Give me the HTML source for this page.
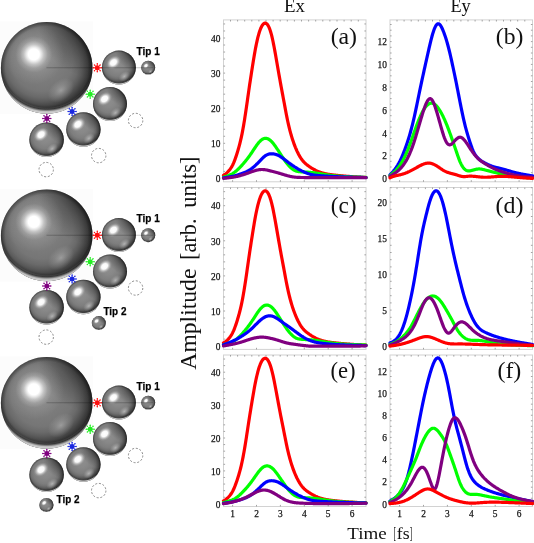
<!DOCTYPE html><html><head><meta charset="utf-8"><title>Figure</title><style>html,body{margin:0;padding:0;background:#fff;overflow:hidden}svg{display:block}.tl{font-family:"Liberation Serif",serif;font-size:11px;fill:#111;stroke:#111;stroke-width:0.25px}.pl{font-family:"Liberation Serif",serif;font-size:23.8px;fill:#111}</style></head><body><svg width="534" height="543" viewBox="0 0 534 543"><defs><radialGradient id="gBase" cx="0.45" cy="0.42" r="0.6"><stop offset="0" stop-color="#838383"/><stop offset="0.3" stop-color="#7d7d7d"/><stop offset="0.56" stop-color="#767676"/><stop offset="0.67" stop-color="#6a6a6a"/><stop offset="0.74" stop-color="#5c5c5c"/><stop offset="0.81" stop-color="#4a4a4a"/><stop offset="0.87" stop-color="#3a3a3a"/><stop offset="1" stop-color="#2c2c2c"/></radialGradient><radialGradient id="gBase2" cx="0.45" cy="0.42" r="0.6"><stop offset="0" stop-color="#8e8e8e"/><stop offset="0.3" stop-color="#888888"/><stop offset="0.56" stop-color="#7e7e7e"/><stop offset="0.67" stop-color="#727272"/><stop offset="0.74" stop-color="#646464"/><stop offset="0.81" stop-color="#525252"/><stop offset="0.87" stop-color="#414141"/><stop offset="1" stop-color="#2e2e2e"/></radialGradient><radialGradient id="gRefl2" cx="0.66" cy="0.76" r="0.15" gradientTransform="translate(0.66 0.76) rotate(-40) scale(1.25 0.85) translate(-0.66 -0.76)"><stop offset="0" stop-color="#c8c8c8" stop-opacity="0.75"/><stop offset="0.5" stop-color="#b8b8b8" stop-opacity="0.4"/><stop offset="1" stop-color="#aaaaaa" stop-opacity="0"/></radialGradient><radialGradient id="gGlow" cx="0.359" cy="0.352" r="0.33"><stop offset="0" stop-color="#fff" stop-opacity="0.22"/><stop offset="1" stop-color="#fff" stop-opacity="0"/></radialGradient><radialGradient id="gDark" cx="1" cy="0" r="0.6"><stop offset="0" stop-color="#000" stop-opacity="0.6"/><stop offset="1" stop-color="#000" stop-opacity="0"/></radialGradient><radialGradient id="gEdge" cx="0.5" cy="0.5" r="0.5"><stop offset="0" stop-color="#000" stop-opacity="0"/><stop offset="0.9" stop-color="#000" stop-opacity="0"/><stop offset="1" stop-color="#000" stop-opacity="0.35"/></radialGradient><radialGradient id="gHi" cx="0.359" cy="0.352" r="0.2"><stop offset="0" stop-color="#fff" stop-opacity="1"/><stop offset="0.3" stop-color="#fff" stop-opacity="1"/><stop offset="0.4" stop-color="#fff" stop-opacity="0.8"/><stop offset="0.55" stop-color="#fff" stop-opacity="0.45"/><stop offset="0.75" stop-color="#fff" stop-opacity="0.15"/><stop offset="1" stop-color="#fff" stop-opacity="0"/></radialGradient><radialGradient id="gHi2" cx="0.34" cy="0.35" r="0.2" gradientTransform="translate(0.34 0.35) rotate(-40) scale(1.2 0.9) translate(-0.34 -0.35)"><stop offset="0" stop-color="#fff" stop-opacity="1"/><stop offset="0.4" stop-color="#fff" stop-opacity="0.95"/><stop offset="0.62" stop-color="#fff" stop-opacity="0.45"/><stop offset="0.82" stop-color="#fff" stop-opacity="0.12"/><stop offset="1" stop-color="#fff" stop-opacity="0"/></radialGradient><radialGradient id="gRefl" cx="0.655" cy="0.745" r="0.13" gradientTransform="translate(0.655 0.745) rotate(-40) scale(1.25 0.85) translate(-0.655 -0.745)"><stop offset="0" stop-color="#bbbbbb" stop-opacity="0.6"/><stop offset="0.5" stop-color="#aaaaaa" stop-opacity="0.3"/><stop offset="1" stop-color="#aaaaaa" stop-opacity="0"/></radialGradient><radialGradient id="gRim" cx="0.5" cy="0.42" r="0.58"><stop offset="0" stop-color="#000" stop-opacity="0"/><stop offset="0.84" stop-color="#000" stop-opacity="0"/><stop offset="0.88" stop-color="#000" stop-opacity="0.12"/><stop offset="0.915" stop-color="#fff" stop-opacity="0"/><stop offset="0.96" stop-color="#fff" stop-opacity="0.7"/><stop offset="1" stop-color="#fff" stop-opacity="0.85"/></radialGradient></defs><rect width="534" height="543" fill="#fff"/><rect x="0" y="21.5" width="93" height="92.5" fill="#fcfcfc"/><circle cx="46.7" cy="67.9" r="45.8" fill="url(#gBase)"/><circle cx="46.7" cy="67.9" r="45.8" fill="url(#gDark)"/><circle cx="46.7" cy="67.9" r="45.8" fill="url(#gGlow)"/><circle cx="46.7" cy="67.9" r="45.8" fill="url(#gEdge)"/><circle cx="46.7" cy="67.9" r="45.8" fill="url(#gRefl)"/><circle cx="46.7" cy="67.9" r="45.8" fill="url(#gRim)"/><circle cx="46.7" cy="67.9" r="45.8" fill="url(#gHi)"/><circle cx="118.9" cy="67.6" r="17.0" fill="url(#gBase2)"/><circle cx="118.9" cy="67.6" r="17.0" fill="url(#gDark)"/><circle cx="118.9" cy="67.6" r="17.0" fill="url(#gEdge)"/><circle cx="118.9" cy="67.6" r="17.0" fill="url(#gRefl2)"/><circle cx="118.9" cy="67.6" r="17.0" fill="url(#gRim)"/><circle cx="118.9" cy="67.6" r="17.0" fill="url(#gHi2)"/><circle cx="148.2" cy="67.8" r="7.0" fill="url(#gBase2)"/><circle cx="148.2" cy="67.8" r="7.0" fill="url(#gDark)"/><circle cx="148.2" cy="67.8" r="7.0" fill="url(#gEdge)"/><circle cx="148.2" cy="67.8" r="7.0" fill="url(#gRefl2)"/><circle cx="148.2" cy="67.8" r="7.0" fill="url(#gRim)"/><circle cx="148.2" cy="67.8" r="7.0" fill="url(#gHi2)"/><circle cx="110.0" cy="104.0" r="17.0" fill="url(#gBase2)"/><circle cx="110.0" cy="104.0" r="17.0" fill="url(#gDark)"/><circle cx="110.0" cy="104.0" r="17.0" fill="url(#gEdge)"/><circle cx="110.0" cy="104.0" r="17.0" fill="url(#gRefl2)"/><circle cx="110.0" cy="104.0" r="17.0" fill="url(#gRim)"/><circle cx="110.0" cy="104.0" r="17.0" fill="url(#gHi2)"/><circle cx="83.4" cy="129.5" r="17.2" fill="url(#gBase2)"/><circle cx="83.4" cy="129.5" r="17.2" fill="url(#gDark)"/><circle cx="83.4" cy="129.5" r="17.2" fill="url(#gEdge)"/><circle cx="83.4" cy="129.5" r="17.2" fill="url(#gRefl2)"/><circle cx="83.4" cy="129.5" r="17.2" fill="url(#gRim)"/><circle cx="83.4" cy="129.5" r="17.2" fill="url(#gHi2)"/><circle cx="46.6" cy="139.8" r="17.3" fill="url(#gBase2)"/><circle cx="46.6" cy="139.8" r="17.3" fill="url(#gDark)"/><circle cx="46.6" cy="139.8" r="17.3" fill="url(#gEdge)"/><circle cx="46.6" cy="139.8" r="17.3" fill="url(#gRefl2)"/><circle cx="46.6" cy="139.8" r="17.3" fill="url(#gRim)"/><circle cx="46.6" cy="139.8" r="17.3" fill="url(#gHi2)"/><line x1="46.5" y1="67.7" x2="153" y2="67.7" stroke="#000" stroke-opacity="0.22" stroke-width="1.1"/><circle cx="135.6" cy="120.5" r="7.2" fill="none" stroke="#7c7c7c" stroke-width="0.9" stroke-dasharray="2 1.77"/><circle cx="98.7" cy="155.6" r="7.2" fill="none" stroke="#7c7c7c" stroke-width="0.9" stroke-dasharray="2 1.77"/><circle cx="46.2" cy="169.6" r="7.2" fill="none" stroke="#7c7c7c" stroke-width="0.9" stroke-dasharray="2 1.77"/><g fill="#ff1010" stroke="#ff1010"><circle cx="97.3" cy="67.8" r="2.5" stroke="none"/><line x1="99.50" y1="67.80" x2="101.30" y2="67.80" stroke-width="0.9"/><circle cx="101.30" cy="67.80" r="0.75" stroke="none"/><line x1="98.86" y1="69.36" x2="100.13" y2="70.63" stroke-width="0.9"/><circle cx="100.13" cy="70.63" r="0.75" stroke="none"/><line x1="97.30" y1="70.00" x2="97.30" y2="71.80" stroke-width="0.9"/><circle cx="97.30" cy="71.80" r="0.75" stroke="none"/><line x1="95.74" y1="69.36" x2="94.47" y2="70.63" stroke-width="0.9"/><circle cx="94.47" cy="70.63" r="0.75" stroke="none"/><line x1="95.10" y1="67.80" x2="93.30" y2="67.80" stroke-width="0.9"/><circle cx="93.30" cy="67.80" r="0.75" stroke="none"/><line x1="95.74" y1="66.24" x2="94.47" y2="64.97" stroke-width="0.9"/><circle cx="94.47" cy="64.97" r="0.75" stroke="none"/><line x1="97.30" y1="65.60" x2="97.30" y2="63.80" stroke-width="0.9"/><circle cx="97.30" cy="63.80" r="0.75" stroke="none"/><line x1="98.86" y1="66.24" x2="100.13" y2="64.97" stroke-width="0.9"/><circle cx="100.13" cy="64.97" r="0.75" stroke="none"/></g><g fill="#22ee22" stroke="#22ee22"><circle cx="90.2" cy="94.2" r="2.5" stroke="none"/><line x1="92.40" y1="94.20" x2="94.20" y2="94.20" stroke-width="0.9"/><circle cx="94.20" cy="94.20" r="0.75" stroke="none"/><line x1="91.76" y1="95.76" x2="93.03" y2="97.03" stroke-width="0.9"/><circle cx="93.03" cy="97.03" r="0.75" stroke="none"/><line x1="90.20" y1="96.40" x2="90.20" y2="98.20" stroke-width="0.9"/><circle cx="90.20" cy="98.20" r="0.75" stroke="none"/><line x1="88.64" y1="95.76" x2="87.37" y2="97.03" stroke-width="0.9"/><circle cx="87.37" cy="97.03" r="0.75" stroke="none"/><line x1="88.00" y1="94.20" x2="86.20" y2="94.20" stroke-width="0.9"/><circle cx="86.20" cy="94.20" r="0.75" stroke="none"/><line x1="88.64" y1="92.64" x2="87.37" y2="91.37" stroke-width="0.9"/><circle cx="87.37" cy="91.37" r="0.75" stroke="none"/><line x1="90.20" y1="92.00" x2="90.20" y2="90.20" stroke-width="0.9"/><circle cx="90.20" cy="90.20" r="0.75" stroke="none"/><line x1="91.76" y1="92.64" x2="93.03" y2="91.37" stroke-width="0.9"/><circle cx="93.03" cy="91.37" r="0.75" stroke="none"/></g><g fill="#1a28e0" stroke="#1a28e0"><circle cx="72.1" cy="111.5" r="2.5" stroke="none"/><line x1="74.30" y1="111.50" x2="76.10" y2="111.50" stroke-width="0.9"/><circle cx="76.10" cy="111.50" r="0.75" stroke="none"/><line x1="73.66" y1="113.06" x2="74.93" y2="114.33" stroke-width="0.9"/><circle cx="74.93" cy="114.33" r="0.75" stroke="none"/><line x1="72.10" y1="113.70" x2="72.10" y2="115.50" stroke-width="0.9"/><circle cx="72.10" cy="115.50" r="0.75" stroke="none"/><line x1="70.54" y1="113.06" x2="69.27" y2="114.33" stroke-width="0.9"/><circle cx="69.27" cy="114.33" r="0.75" stroke="none"/><line x1="69.90" y1="111.50" x2="68.10" y2="111.50" stroke-width="0.9"/><circle cx="68.10" cy="111.50" r="0.75" stroke="none"/><line x1="70.54" y1="109.94" x2="69.27" y2="108.67" stroke-width="0.9"/><circle cx="69.27" cy="108.67" r="0.75" stroke="none"/><line x1="72.10" y1="109.30" x2="72.10" y2="107.50" stroke-width="0.9"/><circle cx="72.10" cy="107.50" r="0.75" stroke="none"/><line x1="73.66" y1="109.94" x2="74.93" y2="108.67" stroke-width="0.9"/><circle cx="74.93" cy="108.67" r="0.75" stroke="none"/></g><g fill="#800080" stroke="#800080"><circle cx="46.8" cy="118.5" r="2.5" stroke="none"/><line x1="49.00" y1="118.50" x2="50.80" y2="118.50" stroke-width="0.9"/><circle cx="50.80" cy="118.50" r="0.75" stroke="none"/><line x1="48.36" y1="120.06" x2="49.63" y2="121.33" stroke-width="0.9"/><circle cx="49.63" cy="121.33" r="0.75" stroke="none"/><line x1="46.80" y1="120.70" x2="46.80" y2="122.50" stroke-width="0.9"/><circle cx="46.80" cy="122.50" r="0.75" stroke="none"/><line x1="45.24" y1="120.06" x2="43.97" y2="121.33" stroke-width="0.9"/><circle cx="43.97" cy="121.33" r="0.75" stroke="none"/><line x1="44.60" y1="118.50" x2="42.80" y2="118.50" stroke-width="0.9"/><circle cx="42.80" cy="118.50" r="0.75" stroke="none"/><line x1="45.24" y1="116.94" x2="43.97" y2="115.67" stroke-width="0.9"/><circle cx="43.97" cy="115.67" r="0.75" stroke="none"/><line x1="46.80" y1="116.30" x2="46.80" y2="114.50" stroke-width="0.9"/><circle cx="46.80" cy="114.50" r="0.75" stroke="none"/><line x1="48.36" y1="116.94" x2="49.63" y2="115.67" stroke-width="0.9"/><circle cx="49.63" cy="115.67" r="0.75" stroke="none"/></g><text x="136.6" y="54.9" font-family="Liberation Sans, sans-serif" font-weight="bold" font-size="10.5" stroke="#111" stroke-width="0.25" textLength="23.26" lengthAdjust="spacingAndGlyphs">Tip 1</text><rect x="0" y="189.0" width="93" height="92.5" fill="#fcfcfc"/><circle cx="46.7" cy="235.4" r="45.8" fill="url(#gBase)"/><circle cx="46.7" cy="235.4" r="45.8" fill="url(#gDark)"/><circle cx="46.7" cy="235.4" r="45.8" fill="url(#gGlow)"/><circle cx="46.7" cy="235.4" r="45.8" fill="url(#gEdge)"/><circle cx="46.7" cy="235.4" r="45.8" fill="url(#gRefl)"/><circle cx="46.7" cy="235.4" r="45.8" fill="url(#gRim)"/><circle cx="46.7" cy="235.4" r="45.8" fill="url(#gHi)"/><circle cx="118.9" cy="235.1" r="17.0" fill="url(#gBase2)"/><circle cx="118.9" cy="235.1" r="17.0" fill="url(#gDark)"/><circle cx="118.9" cy="235.1" r="17.0" fill="url(#gEdge)"/><circle cx="118.9" cy="235.1" r="17.0" fill="url(#gRefl2)"/><circle cx="118.9" cy="235.1" r="17.0" fill="url(#gRim)"/><circle cx="118.9" cy="235.1" r="17.0" fill="url(#gHi2)"/><circle cx="148.2" cy="235.3" r="7.0" fill="url(#gBase2)"/><circle cx="148.2" cy="235.3" r="7.0" fill="url(#gDark)"/><circle cx="148.2" cy="235.3" r="7.0" fill="url(#gEdge)"/><circle cx="148.2" cy="235.3" r="7.0" fill="url(#gRefl2)"/><circle cx="148.2" cy="235.3" r="7.0" fill="url(#gRim)"/><circle cx="148.2" cy="235.3" r="7.0" fill="url(#gHi2)"/><circle cx="110.0" cy="271.5" r="17.0" fill="url(#gBase2)"/><circle cx="110.0" cy="271.5" r="17.0" fill="url(#gDark)"/><circle cx="110.0" cy="271.5" r="17.0" fill="url(#gEdge)"/><circle cx="110.0" cy="271.5" r="17.0" fill="url(#gRefl2)"/><circle cx="110.0" cy="271.5" r="17.0" fill="url(#gRim)"/><circle cx="110.0" cy="271.5" r="17.0" fill="url(#gHi2)"/><circle cx="83.4" cy="297.0" r="17.2" fill="url(#gBase2)"/><circle cx="83.4" cy="297.0" r="17.2" fill="url(#gDark)"/><circle cx="83.4" cy="297.0" r="17.2" fill="url(#gEdge)"/><circle cx="83.4" cy="297.0" r="17.2" fill="url(#gRefl2)"/><circle cx="83.4" cy="297.0" r="17.2" fill="url(#gRim)"/><circle cx="83.4" cy="297.0" r="17.2" fill="url(#gHi2)"/><circle cx="46.6" cy="307.3" r="17.3" fill="url(#gBase2)"/><circle cx="46.6" cy="307.3" r="17.3" fill="url(#gDark)"/><circle cx="46.6" cy="307.3" r="17.3" fill="url(#gEdge)"/><circle cx="46.6" cy="307.3" r="17.3" fill="url(#gRefl2)"/><circle cx="46.6" cy="307.3" r="17.3" fill="url(#gRim)"/><circle cx="46.6" cy="307.3" r="17.3" fill="url(#gHi2)"/><line x1="46.5" y1="235.2" x2="153" y2="235.2" stroke="#000" stroke-opacity="0.22" stroke-width="1.1"/><circle cx="135.6" cy="288.0" r="7.2" fill="none" stroke="#7c7c7c" stroke-width="0.9" stroke-dasharray="2 1.77"/><circle cx="98.8" cy="323.1" r="7.0" fill="url(#gBase2)"/><circle cx="98.8" cy="323.1" r="7.0" fill="url(#gDark)"/><circle cx="98.8" cy="323.1" r="7.0" fill="url(#gEdge)"/><circle cx="98.8" cy="323.1" r="7.0" fill="url(#gRefl2)"/><circle cx="98.8" cy="323.1" r="7.0" fill="url(#gRim)"/><circle cx="98.8" cy="323.1" r="7.0" fill="url(#gHi2)"/><circle cx="46.2" cy="337.1" r="7.2" fill="none" stroke="#7c7c7c" stroke-width="0.9" stroke-dasharray="2 1.77"/><g fill="#ff1010" stroke="#ff1010"><circle cx="97.3" cy="235.3" r="2.5" stroke="none"/><line x1="99.50" y1="235.30" x2="101.30" y2="235.30" stroke-width="0.9"/><circle cx="101.30" cy="235.30" r="0.75" stroke="none"/><line x1="98.86" y1="236.86" x2="100.13" y2="238.13" stroke-width="0.9"/><circle cx="100.13" cy="238.13" r="0.75" stroke="none"/><line x1="97.30" y1="237.50" x2="97.30" y2="239.30" stroke-width="0.9"/><circle cx="97.30" cy="239.30" r="0.75" stroke="none"/><line x1="95.74" y1="236.86" x2="94.47" y2="238.13" stroke-width="0.9"/><circle cx="94.47" cy="238.13" r="0.75" stroke="none"/><line x1="95.10" y1="235.30" x2="93.30" y2="235.30" stroke-width="0.9"/><circle cx="93.30" cy="235.30" r="0.75" stroke="none"/><line x1="95.74" y1="233.74" x2="94.47" y2="232.47" stroke-width="0.9"/><circle cx="94.47" cy="232.47" r="0.75" stroke="none"/><line x1="97.30" y1="233.10" x2="97.30" y2="231.30" stroke-width="0.9"/><circle cx="97.30" cy="231.30" r="0.75" stroke="none"/><line x1="98.86" y1="233.74" x2="100.13" y2="232.47" stroke-width="0.9"/><circle cx="100.13" cy="232.47" r="0.75" stroke="none"/></g><g fill="#22ee22" stroke="#22ee22"><circle cx="90.2" cy="261.7" r="2.5" stroke="none"/><line x1="92.40" y1="261.70" x2="94.20" y2="261.70" stroke-width="0.9"/><circle cx="94.20" cy="261.70" r="0.75" stroke="none"/><line x1="91.76" y1="263.26" x2="93.03" y2="264.53" stroke-width="0.9"/><circle cx="93.03" cy="264.53" r="0.75" stroke="none"/><line x1="90.20" y1="263.90" x2="90.20" y2="265.70" stroke-width="0.9"/><circle cx="90.20" cy="265.70" r="0.75" stroke="none"/><line x1="88.64" y1="263.26" x2="87.37" y2="264.53" stroke-width="0.9"/><circle cx="87.37" cy="264.53" r="0.75" stroke="none"/><line x1="88.00" y1="261.70" x2="86.20" y2="261.70" stroke-width="0.9"/><circle cx="86.20" cy="261.70" r="0.75" stroke="none"/><line x1="88.64" y1="260.14" x2="87.37" y2="258.87" stroke-width="0.9"/><circle cx="87.37" cy="258.87" r="0.75" stroke="none"/><line x1="90.20" y1="259.50" x2="90.20" y2="257.70" stroke-width="0.9"/><circle cx="90.20" cy="257.70" r="0.75" stroke="none"/><line x1="91.76" y1="260.14" x2="93.03" y2="258.87" stroke-width="0.9"/><circle cx="93.03" cy="258.87" r="0.75" stroke="none"/></g><g fill="#1a28e0" stroke="#1a28e0"><circle cx="72.1" cy="279.0" r="2.5" stroke="none"/><line x1="74.30" y1="279.00" x2="76.10" y2="279.00" stroke-width="0.9"/><circle cx="76.10" cy="279.00" r="0.75" stroke="none"/><line x1="73.66" y1="280.56" x2="74.93" y2="281.83" stroke-width="0.9"/><circle cx="74.93" cy="281.83" r="0.75" stroke="none"/><line x1="72.10" y1="281.20" x2="72.10" y2="283.00" stroke-width="0.9"/><circle cx="72.10" cy="283.00" r="0.75" stroke="none"/><line x1="70.54" y1="280.56" x2="69.27" y2="281.83" stroke-width="0.9"/><circle cx="69.27" cy="281.83" r="0.75" stroke="none"/><line x1="69.90" y1="279.00" x2="68.10" y2="279.00" stroke-width="0.9"/><circle cx="68.10" cy="279.00" r="0.75" stroke="none"/><line x1="70.54" y1="277.44" x2="69.27" y2="276.17" stroke-width="0.9"/><circle cx="69.27" cy="276.17" r="0.75" stroke="none"/><line x1="72.10" y1="276.80" x2="72.10" y2="275.00" stroke-width="0.9"/><circle cx="72.10" cy="275.00" r="0.75" stroke="none"/><line x1="73.66" y1="277.44" x2="74.93" y2="276.17" stroke-width="0.9"/><circle cx="74.93" cy="276.17" r="0.75" stroke="none"/></g><g fill="#800080" stroke="#800080"><circle cx="46.8" cy="286.0" r="2.5" stroke="none"/><line x1="49.00" y1="286.00" x2="50.80" y2="286.00" stroke-width="0.9"/><circle cx="50.80" cy="286.00" r="0.75" stroke="none"/><line x1="48.36" y1="287.56" x2="49.63" y2="288.83" stroke-width="0.9"/><circle cx="49.63" cy="288.83" r="0.75" stroke="none"/><line x1="46.80" y1="288.20" x2="46.80" y2="290.00" stroke-width="0.9"/><circle cx="46.80" cy="290.00" r="0.75" stroke="none"/><line x1="45.24" y1="287.56" x2="43.97" y2="288.83" stroke-width="0.9"/><circle cx="43.97" cy="288.83" r="0.75" stroke="none"/><line x1="44.60" y1="286.00" x2="42.80" y2="286.00" stroke-width="0.9"/><circle cx="42.80" cy="286.00" r="0.75" stroke="none"/><line x1="45.24" y1="284.44" x2="43.97" y2="283.17" stroke-width="0.9"/><circle cx="43.97" cy="283.17" r="0.75" stroke="none"/><line x1="46.80" y1="283.80" x2="46.80" y2="282.00" stroke-width="0.9"/><circle cx="46.80" cy="282.00" r="0.75" stroke="none"/><line x1="48.36" y1="284.44" x2="49.63" y2="283.17" stroke-width="0.9"/><circle cx="49.63" cy="283.17" r="0.75" stroke="none"/></g><text x="136.6" y="222.4" font-family="Liberation Sans, sans-serif" font-weight="bold" font-size="10.5" stroke="#111" stroke-width="0.25" textLength="23.26" lengthAdjust="spacingAndGlyphs">Tip 1</text><text x="103.5" y="314.7" font-family="Liberation Sans, sans-serif" font-weight="bold" font-size="10.5" stroke="#111" stroke-width="0.25" textLength="22.9" lengthAdjust="spacingAndGlyphs">Tip 2</text><rect x="0" y="356.5" width="93" height="92.5" fill="#fcfcfc"/><circle cx="46.7" cy="402.9" r="45.8" fill="url(#gBase)"/><circle cx="46.7" cy="402.9" r="45.8" fill="url(#gDark)"/><circle cx="46.7" cy="402.9" r="45.8" fill="url(#gGlow)"/><circle cx="46.7" cy="402.9" r="45.8" fill="url(#gEdge)"/><circle cx="46.7" cy="402.9" r="45.8" fill="url(#gRefl)"/><circle cx="46.7" cy="402.9" r="45.8" fill="url(#gRim)"/><circle cx="46.7" cy="402.9" r="45.8" fill="url(#gHi)"/><circle cx="118.9" cy="402.6" r="17.0" fill="url(#gBase2)"/><circle cx="118.9" cy="402.6" r="17.0" fill="url(#gDark)"/><circle cx="118.9" cy="402.6" r="17.0" fill="url(#gEdge)"/><circle cx="118.9" cy="402.6" r="17.0" fill="url(#gRefl2)"/><circle cx="118.9" cy="402.6" r="17.0" fill="url(#gRim)"/><circle cx="118.9" cy="402.6" r="17.0" fill="url(#gHi2)"/><circle cx="148.2" cy="402.8" r="7.0" fill="url(#gBase2)"/><circle cx="148.2" cy="402.8" r="7.0" fill="url(#gDark)"/><circle cx="148.2" cy="402.8" r="7.0" fill="url(#gEdge)"/><circle cx="148.2" cy="402.8" r="7.0" fill="url(#gRefl2)"/><circle cx="148.2" cy="402.8" r="7.0" fill="url(#gRim)"/><circle cx="148.2" cy="402.8" r="7.0" fill="url(#gHi2)"/><circle cx="110.0" cy="439.0" r="17.0" fill="url(#gBase2)"/><circle cx="110.0" cy="439.0" r="17.0" fill="url(#gDark)"/><circle cx="110.0" cy="439.0" r="17.0" fill="url(#gEdge)"/><circle cx="110.0" cy="439.0" r="17.0" fill="url(#gRefl2)"/><circle cx="110.0" cy="439.0" r="17.0" fill="url(#gRim)"/><circle cx="110.0" cy="439.0" r="17.0" fill="url(#gHi2)"/><circle cx="83.4" cy="464.5" r="17.2" fill="url(#gBase2)"/><circle cx="83.4" cy="464.5" r="17.2" fill="url(#gDark)"/><circle cx="83.4" cy="464.5" r="17.2" fill="url(#gEdge)"/><circle cx="83.4" cy="464.5" r="17.2" fill="url(#gRefl2)"/><circle cx="83.4" cy="464.5" r="17.2" fill="url(#gRim)"/><circle cx="83.4" cy="464.5" r="17.2" fill="url(#gHi2)"/><circle cx="46.6" cy="474.8" r="17.3" fill="url(#gBase2)"/><circle cx="46.6" cy="474.8" r="17.3" fill="url(#gDark)"/><circle cx="46.6" cy="474.8" r="17.3" fill="url(#gEdge)"/><circle cx="46.6" cy="474.8" r="17.3" fill="url(#gRefl2)"/><circle cx="46.6" cy="474.8" r="17.3" fill="url(#gRim)"/><circle cx="46.6" cy="474.8" r="17.3" fill="url(#gHi2)"/><line x1="46.5" y1="402.7" x2="153" y2="402.7" stroke="#000" stroke-opacity="0.22" stroke-width="1.1"/><circle cx="135.6" cy="455.5" r="7.2" fill="none" stroke="#7c7c7c" stroke-width="0.9" stroke-dasharray="2 1.77"/><circle cx="98.7" cy="490.6" r="7.2" fill="none" stroke="#7c7c7c" stroke-width="0.9" stroke-dasharray="2 1.77"/><circle cx="46.4" cy="505.0" r="7.1" fill="url(#gBase2)"/><circle cx="46.4" cy="505.0" r="7.1" fill="url(#gDark)"/><circle cx="46.4" cy="505.0" r="7.1" fill="url(#gEdge)"/><circle cx="46.4" cy="505.0" r="7.1" fill="url(#gRefl2)"/><circle cx="46.4" cy="505.0" r="7.1" fill="url(#gRim)"/><circle cx="46.4" cy="505.0" r="7.1" fill="url(#gHi2)"/><g fill="#ff1010" stroke="#ff1010"><circle cx="97.3" cy="402.8" r="2.5" stroke="none"/><line x1="99.50" y1="402.80" x2="101.30" y2="402.80" stroke-width="0.9"/><circle cx="101.30" cy="402.80" r="0.75" stroke="none"/><line x1="98.86" y1="404.36" x2="100.13" y2="405.63" stroke-width="0.9"/><circle cx="100.13" cy="405.63" r="0.75" stroke="none"/><line x1="97.30" y1="405.00" x2="97.30" y2="406.80" stroke-width="0.9"/><circle cx="97.30" cy="406.80" r="0.75" stroke="none"/><line x1="95.74" y1="404.36" x2="94.47" y2="405.63" stroke-width="0.9"/><circle cx="94.47" cy="405.63" r="0.75" stroke="none"/><line x1="95.10" y1="402.80" x2="93.30" y2="402.80" stroke-width="0.9"/><circle cx="93.30" cy="402.80" r="0.75" stroke="none"/><line x1="95.74" y1="401.24" x2="94.47" y2="399.97" stroke-width="0.9"/><circle cx="94.47" cy="399.97" r="0.75" stroke="none"/><line x1="97.30" y1="400.60" x2="97.30" y2="398.80" stroke-width="0.9"/><circle cx="97.30" cy="398.80" r="0.75" stroke="none"/><line x1="98.86" y1="401.24" x2="100.13" y2="399.97" stroke-width="0.9"/><circle cx="100.13" cy="399.97" r="0.75" stroke="none"/></g><g fill="#22ee22" stroke="#22ee22"><circle cx="90.2" cy="429.2" r="2.5" stroke="none"/><line x1="92.40" y1="429.20" x2="94.20" y2="429.20" stroke-width="0.9"/><circle cx="94.20" cy="429.20" r="0.75" stroke="none"/><line x1="91.76" y1="430.76" x2="93.03" y2="432.03" stroke-width="0.9"/><circle cx="93.03" cy="432.03" r="0.75" stroke="none"/><line x1="90.20" y1="431.40" x2="90.20" y2="433.20" stroke-width="0.9"/><circle cx="90.20" cy="433.20" r="0.75" stroke="none"/><line x1="88.64" y1="430.76" x2="87.37" y2="432.03" stroke-width="0.9"/><circle cx="87.37" cy="432.03" r="0.75" stroke="none"/><line x1="88.00" y1="429.20" x2="86.20" y2="429.20" stroke-width="0.9"/><circle cx="86.20" cy="429.20" r="0.75" stroke="none"/><line x1="88.64" y1="427.64" x2="87.37" y2="426.37" stroke-width="0.9"/><circle cx="87.37" cy="426.37" r="0.75" stroke="none"/><line x1="90.20" y1="427.00" x2="90.20" y2="425.20" stroke-width="0.9"/><circle cx="90.20" cy="425.20" r="0.75" stroke="none"/><line x1="91.76" y1="427.64" x2="93.03" y2="426.37" stroke-width="0.9"/><circle cx="93.03" cy="426.37" r="0.75" stroke="none"/></g><g fill="#1a28e0" stroke="#1a28e0"><circle cx="72.1" cy="446.5" r="2.5" stroke="none"/><line x1="74.30" y1="446.50" x2="76.10" y2="446.50" stroke-width="0.9"/><circle cx="76.10" cy="446.50" r="0.75" stroke="none"/><line x1="73.66" y1="448.06" x2="74.93" y2="449.33" stroke-width="0.9"/><circle cx="74.93" cy="449.33" r="0.75" stroke="none"/><line x1="72.10" y1="448.70" x2="72.10" y2="450.50" stroke-width="0.9"/><circle cx="72.10" cy="450.50" r="0.75" stroke="none"/><line x1="70.54" y1="448.06" x2="69.27" y2="449.33" stroke-width="0.9"/><circle cx="69.27" cy="449.33" r="0.75" stroke="none"/><line x1="69.90" y1="446.50" x2="68.10" y2="446.50" stroke-width="0.9"/><circle cx="68.10" cy="446.50" r="0.75" stroke="none"/><line x1="70.54" y1="444.94" x2="69.27" y2="443.67" stroke-width="0.9"/><circle cx="69.27" cy="443.67" r="0.75" stroke="none"/><line x1="72.10" y1="444.30" x2="72.10" y2="442.50" stroke-width="0.9"/><circle cx="72.10" cy="442.50" r="0.75" stroke="none"/><line x1="73.66" y1="444.94" x2="74.93" y2="443.67" stroke-width="0.9"/><circle cx="74.93" cy="443.67" r="0.75" stroke="none"/></g><g fill="#800080" stroke="#800080"><circle cx="46.8" cy="453.5" r="2.5" stroke="none"/><line x1="49.00" y1="453.50" x2="50.80" y2="453.50" stroke-width="0.9"/><circle cx="50.80" cy="453.50" r="0.75" stroke="none"/><line x1="48.36" y1="455.06" x2="49.63" y2="456.33" stroke-width="0.9"/><circle cx="49.63" cy="456.33" r="0.75" stroke="none"/><line x1="46.80" y1="455.70" x2="46.80" y2="457.50" stroke-width="0.9"/><circle cx="46.80" cy="457.50" r="0.75" stroke="none"/><line x1="45.24" y1="455.06" x2="43.97" y2="456.33" stroke-width="0.9"/><circle cx="43.97" cy="456.33" r="0.75" stroke="none"/><line x1="44.60" y1="453.50" x2="42.80" y2="453.50" stroke-width="0.9"/><circle cx="42.80" cy="453.50" r="0.75" stroke="none"/><line x1="45.24" y1="451.94" x2="43.97" y2="450.67" stroke-width="0.9"/><circle cx="43.97" cy="450.67" r="0.75" stroke="none"/><line x1="46.80" y1="451.30" x2="46.80" y2="449.50" stroke-width="0.9"/><circle cx="46.80" cy="449.50" r="0.75" stroke="none"/><line x1="48.36" y1="451.94" x2="49.63" y2="450.67" stroke-width="0.9"/><circle cx="49.63" cy="450.67" r="0.75" stroke="none"/></g><text x="136.6" y="389.9" font-family="Liberation Sans, sans-serif" font-weight="bold" font-size="10.5" stroke="#111" stroke-width="0.25" textLength="23.26" lengthAdjust="spacingAndGlyphs">Tip 1</text><text x="56.6" y="502.5" font-family="Liberation Sans, sans-serif" font-weight="bold" font-size="10.5" stroke="#111" stroke-width="0.25" textLength="22.9" lengthAdjust="spacingAndGlyphs">Tip 2</text><rect x="223.5" y="19.9" width="142.5" height="161.9" fill="none" stroke="#d2d2d2" stroke-width="1"/><path d="M223.5,178.40h1.6M366.0,178.40h-1.6M223.5,171.38h1.6M366.0,171.38h-1.6M223.5,164.36h1.6M366.0,164.36h-1.6M223.5,157.34h1.6M366.0,157.34h-1.6M223.5,150.32h1.6M366.0,150.32h-1.6M223.5,143.30h1.6M366.0,143.30h-1.6M223.5,136.28h1.6M366.0,136.28h-1.6M223.5,129.26h1.6M366.0,129.26h-1.6M223.5,122.24h1.6M366.0,122.24h-1.6M223.5,115.22h1.6M366.0,115.22h-1.6M223.5,108.20h1.6M366.0,108.20h-1.6M223.5,101.18h1.6M366.0,101.18h-1.6M223.5,94.16h1.6M366.0,94.16h-1.6M223.5,87.14h1.6M366.0,87.14h-1.6M223.5,80.12h1.6M366.0,80.12h-1.6M223.5,73.10h1.6M366.0,73.10h-1.6M223.5,66.08h1.6M366.0,66.08h-1.6M223.5,59.06h1.6M366.0,59.06h-1.6M223.5,52.04h1.6M366.0,52.04h-1.6M223.5,45.02h1.6M366.0,45.02h-1.6M223.5,38.00h1.6M366.0,38.00h-1.6M223.5,30.98h1.6M366.0,30.98h-1.6M223.5,23.96h1.6M366.0,23.96h-1.6M230.50,19.9v1.6M237.60,19.9v1.6M244.70,19.9v1.6M251.80,19.9v1.6M258.90,19.9v1.6M266.00,19.9v1.6M273.10,19.9v1.6M280.20,19.9v1.6M287.30,19.9v1.6M294.40,19.9v1.6M301.50,19.9v1.6M308.60,19.9v1.6M315.70,19.9v1.6M322.80,19.9v1.6M329.90,19.9v1.6M337.00,19.9v1.6M344.10,19.9v1.6M351.20,19.9v1.6M358.30,19.9v1.6M232.60,181.8v-1.6M256.50,181.8v-1.6M280.40,181.8v-1.6M304.30,181.8v-1.6M328.20,181.8v-1.6M352.10,181.8v-1.6" stroke="#9a9a9a" stroke-width="0.9" fill="none"/><text x="220.40" y="182.10" text-anchor="end" class="tl" textLength="4.70" lengthAdjust="spacingAndGlyphs">0</text><text x="220.40" y="147.00" text-anchor="end" class="tl" textLength="9.40" lengthAdjust="spacingAndGlyphs">10</text><text x="220.40" y="111.90" text-anchor="end" class="tl" textLength="9.40" lengthAdjust="spacingAndGlyphs">20</text><text x="220.40" y="76.80" text-anchor="end" class="tl" textLength="9.40" lengthAdjust="spacingAndGlyphs">30</text><text x="220.40" y="41.70" text-anchor="end" class="tl" textLength="9.40" lengthAdjust="spacingAndGlyphs">40</text><g fill="none" stroke-width="3.2" stroke-linejoin="round" stroke-linecap="round"><path d="M223.50,175.27 L223.98,174.99 L224.45,174.69 L224.93,174.37 L225.41,174.03 L225.88,173.66 L226.36,173.27 L226.84,172.85 L227.31,172.41 L227.79,171.93 L228.27,171.43 L228.74,170.89 L229.22,170.32 L229.70,169.73 L230.17,169.09 L230.65,168.42 L231.13,167.69 L231.60,166.92 L232.08,166.09 L232.56,165.19 L233.03,164.22 L233.51,163.18 L233.98,162.06 L234.46,160.86 L234.94,159.60 L235.41,158.28 L235.89,156.90 L236.37,155.46 L236.84,153.98 L237.32,152.45 L237.80,150.89 L238.27,149.27 L238.75,147.60 L239.23,145.87 L239.70,144.06 L240.18,142.17 L240.66,140.18 L241.13,138.09 L241.61,135.89 L242.09,133.57 L242.56,131.13 L243.04,128.56 L243.52,125.87 L243.99,123.07 L244.47,120.15 L244.95,117.12 L245.42,114.00 L245.90,110.81 L246.38,107.54 L246.85,104.24 L247.33,100.90 L247.81,97.54 L248.28,94.19 L248.76,90.86 L249.24,87.57 L249.71,84.32 L250.19,81.14 L250.67,78.00 L251.14,74.91 L251.62,71.86 L252.10,68.83 L252.57,65.81 L253.05,62.81 L253.53,59.85 L254.00,56.95 L254.48,54.14 L254.95,51.42 L255.43,48.83 L255.91,46.36 L256.38,44.01 L256.86,41.79 L257.34,39.68 L257.81,37.71 L258.29,35.86 L258.77,34.13 L259.24,32.54 L259.72,31.07 L260.20,29.73 L260.67,28.51 L261.15,27.42 L261.63,26.45 L262.10,25.61 L262.58,24.89 L263.06,24.29 L263.53,23.82 L264.01,23.47 L264.49,23.24 L264.96,23.13 L265.44,23.14 L265.92,23.27 L266.39,23.53 L266.87,23.92 L267.35,24.44 L267.82,25.09 L268.30,25.88 L268.78,26.81 L269.25,27.88 L269.73,29.09 L270.21,30.45 L270.68,31.95 L271.16,33.61 L271.64,35.42 L272.11,37.39 L272.59,39.49 L273.07,41.72 L273.54,44.06 L274.02,46.49 L274.49,49.02 L274.97,51.61 L275.45,54.25 L275.92,56.94 L276.40,59.67 L276.88,62.42 L277.35,65.18 L277.83,67.94 L278.31,70.69 L278.78,73.42 L279.26,76.14 L279.74,78.83 L280.21,81.49 L280.69,84.13 L281.17,86.72 L281.64,89.29 L282.12,91.84 L282.60,94.38 L283.07,96.92 L283.55,99.46 L284.03,102.01 L284.50,104.58 L284.98,107.16 L285.46,109.72 L285.93,112.25 L286.41,114.73 L286.89,117.15 L287.36,119.48 L287.84,121.72 L288.32,123.87 L288.79,125.93 L289.27,127.90 L289.75,129.79 L290.22,131.61 L290.70,133.35 L291.18,135.03 L291.65,136.64 L292.13,138.20 L292.61,139.69 L293.08,141.12 L293.56,142.51 L294.04,143.83 L294.51,145.11 L294.99,146.34 L295.46,147.53 L295.94,148.66 L296.42,149.76 L296.89,150.82 L297.37,151.84 L297.85,152.82 L298.32,153.77 L298.80,154.67 L299.28,155.55 L299.75,156.38 L300.23,157.17 L300.71,157.92 L301.18,158.63 L301.66,159.30 L302.14,159.94 L302.61,160.54 L303.09,161.11 L303.57,161.65 L304.04,162.16 L304.52,162.64 L305.00,163.10 L305.47,163.54 L305.95,163.96 L306.43,164.36 L306.90,164.74 L307.38,165.11 L307.86,165.47 L308.33,165.82 L308.81,166.17 L309.29,166.51 L309.76,166.84 L310.24,167.16 L310.72,167.48 L311.19,167.79 L311.67,168.09 L312.15,168.38 L312.62,168.67 L313.10,168.95 L313.58,169.23 L314.05,169.49 L314.53,169.75 L315.01,170.00 L315.48,170.25 L315.96,170.49 L316.43,170.71 L316.91,170.94 L317.39,171.15 L317.86,171.36 L318.34,171.56 L318.82,171.75 L319.29,171.93 L319.77,172.11 L320.25,172.28 L320.72,172.44 L321.20,172.59 L321.68,172.74 L322.15,172.89 L322.63,173.02 L323.11,173.15 L323.58,173.28 L324.06,173.40 L324.54,173.51 L325.01,173.62 L325.49,173.73 L325.97,173.83 L326.44,173.92 L326.92,174.02 L327.40,174.10 L327.87,174.19 L328.35,174.27 L328.83,174.35 L329.30,174.42 L329.78,174.49 L330.26,174.56 L330.73,174.63 L331.21,174.69 L331.69,174.76 L332.16,174.82 L332.64,174.88 L333.12,174.93 L333.59,174.99 L334.07,175.05 L334.55,175.10 L335.02,175.16 L335.50,175.21 L335.97,175.26 L336.45,175.31 L336.93,175.36 L337.40,175.41 L337.88,175.46 L338.36,175.51 L338.83,175.56 L339.31,175.61 L339.79,175.65 L340.26,175.70 L340.74,175.75 L341.22,175.79 L341.69,175.83 L342.17,175.88 L342.65,175.92 L343.12,175.96 L343.60,176.00 L344.08,176.04 L344.55,176.08 L345.03,176.12 L345.51,176.16 L345.98,176.20 L346.46,176.24 L346.94,176.28 L347.41,176.31 L347.89,176.35 L348.37,176.39 L348.84,176.42 L349.32,176.46 L349.80,176.49 L350.27,176.53 L350.75,176.56 L351.23,176.59 L351.70,176.63 L352.18,176.66 L352.66,176.69 L353.13,176.72 L353.61,176.76 L354.09,176.79 L354.56,176.82 L355.04,176.85 L355.52,176.88 L355.99,176.91 L356.47,176.94 L356.94,176.97 L357.42,177.00 L357.90,177.03 L358.37,177.06 L358.85,177.09 L359.33,177.11 L359.80,177.14 L360.28,177.17 L360.76,177.20 L361.23,177.23 L361.71,177.26 L362.19,177.28 L362.66,177.31 L363.14,177.34 L363.62,177.37 L364.09,177.39 L364.57,177.42 L365.05,177.45 L365.52,177.48 L366.00,177.50" stroke="#ff0000"/><path d="M223.50,177.17 L223.98,177.03 L224.45,176.88 L224.93,176.74 L225.41,176.59 L225.88,176.44 L226.36,176.28 L226.84,176.12 L227.31,175.95 L227.79,175.78 L228.27,175.60 L228.74,175.41 L229.22,175.21 L229.70,175.01 L230.17,174.79 L230.65,174.56 L231.13,174.32 L231.60,174.07 L232.08,173.81 L232.56,173.53 L233.03,173.24 L233.51,172.93 L233.98,172.61 L234.46,172.27 L234.94,171.91 L235.41,171.54 L235.89,171.15 L236.37,170.75 L236.84,170.33 L237.32,169.91 L237.80,169.46 L238.27,169.01 L238.75,168.55 L239.23,168.08 L239.70,167.60 L240.18,167.11 L240.66,166.61 L241.13,166.10 L241.61,165.58 L242.09,165.06 L242.56,164.53 L243.04,163.99 L243.52,163.44 L243.99,162.88 L244.47,162.32 L244.95,161.74 L245.42,161.16 L245.90,160.57 L246.38,159.98 L246.85,159.38 L247.33,158.77 L247.81,158.15 L248.28,157.52 L248.76,156.88 L249.24,156.23 L249.71,155.57 L250.19,154.90 L250.67,154.21 L251.14,153.52 L251.62,152.81 L252.10,152.10 L252.57,151.38 L253.05,150.65 L253.53,149.93 L254.00,149.21 L254.48,148.49 L254.95,147.77 L255.43,147.07 L255.91,146.37 L256.38,145.69 L256.86,145.03 L257.34,144.38 L257.81,143.76 L258.29,143.15 L258.77,142.58 L259.24,142.03 L259.72,141.51 L260.20,141.02 L260.67,140.57 L261.15,140.15 L261.63,139.78 L262.10,139.44 L262.58,139.15 L263.06,138.91 L263.53,138.71 L264.01,138.56 L264.49,138.45 L264.96,138.38 L265.44,138.35 L265.92,138.37 L266.39,138.42 L266.87,138.52 L267.35,138.65 L267.82,138.82 L268.30,139.04 L268.78,139.29 L269.25,139.58 L269.73,139.92 L270.21,140.29 L270.68,140.70 L271.16,141.14 L271.64,141.62 L272.11,142.13 L272.59,142.67 L273.07,143.24 L273.54,143.83 L274.02,144.45 L274.49,145.09 L274.97,145.76 L275.45,146.43 L275.92,147.12 L276.40,147.83 L276.88,148.53 L277.35,149.25 L277.83,149.96 L278.31,150.68 L278.78,151.40 L279.26,152.13 L279.74,152.85 L280.21,153.58 L280.69,154.30 L281.17,155.03 L281.64,155.76 L282.12,156.50 L282.60,157.23 L283.07,157.96 L283.55,158.69 L284.03,159.40 L284.50,160.10 L284.98,160.79 L285.46,161.45 L285.93,162.10 L286.41,162.73 L286.89,163.35 L287.36,163.94 L287.84,164.51 L288.32,165.07 L288.79,165.61 L289.27,166.12 L289.75,166.62 L290.22,167.09 L290.70,167.55 L291.18,167.98 L291.65,168.39 L292.13,168.78 L292.61,169.14 L293.08,169.48 L293.56,169.79 L294.04,170.08 L294.51,170.34 L294.99,170.58 L295.46,170.78 L295.94,170.96 L296.42,171.12 L296.89,171.25 L297.37,171.37 L297.85,171.46 L298.32,171.55 L298.80,171.61 L299.28,171.67 L299.75,171.72 L300.23,171.76 L300.71,171.80 L301.18,171.83 L301.66,171.86 L302.14,171.89 L302.61,171.92 L303.09,171.94 L303.57,171.97 L304.04,171.99 L304.52,172.01 L305.00,172.04 L305.47,172.06 L305.95,172.08 L306.43,172.11 L306.90,172.13 L307.38,172.16 L307.86,172.19 L308.33,172.22 L308.81,172.25 L309.29,172.29 L309.76,172.33 L310.24,172.37 L310.72,172.42 L311.19,172.47 L311.67,172.52 L312.15,172.57 L312.62,172.62 L313.10,172.68 L313.58,172.74 L314.05,172.80 L314.53,172.87 L315.01,172.93 L315.48,173.00 L315.96,173.07 L316.43,173.14 L316.91,173.21 L317.39,173.29 L317.86,173.36 L318.34,173.44 L318.82,173.52 L319.29,173.60 L319.77,173.67 L320.25,173.75 L320.72,173.83 L321.20,173.92 L321.68,174.00 L322.15,174.08 L322.63,174.16 L323.11,174.24 L323.58,174.32 L324.06,174.40 L324.54,174.48 L325.01,174.56 L325.49,174.64 L325.97,174.72 L326.44,174.79 L326.92,174.87 L327.40,174.94 L327.87,175.01 L328.35,175.08 L328.83,175.15 L329.30,175.21 L329.78,175.28 L330.26,175.34 L330.73,175.40 L331.21,175.46 L331.69,175.52 L332.16,175.57 L332.64,175.63 L333.12,175.68 L333.59,175.73 L334.07,175.78 L334.55,175.83 L335.02,175.88 L335.50,175.92 L335.97,175.97 L336.45,176.01 L336.93,176.05 L337.40,176.09 L337.88,176.13 L338.36,176.17 L338.83,176.21 L339.31,176.25 L339.79,176.28 L340.26,176.32 L340.74,176.35 L341.22,176.38 L341.69,176.42 L342.17,176.45 L342.65,176.48 L343.12,176.51 L343.60,176.54 L344.08,176.56 L344.55,176.59 L345.03,176.62 L345.51,176.64 L345.98,176.67 L346.46,176.69 L346.94,176.72 L347.41,176.74 L347.89,176.76 L348.37,176.79 L348.84,176.81 L349.32,176.83 L349.80,176.85 L350.27,176.87 L350.75,176.89 L351.23,176.91 L351.70,176.93 L352.18,176.95 L352.66,176.97 L353.13,176.98 L353.61,177.00 L354.09,177.02 L354.56,177.03 L355.04,177.05 L355.52,177.07 L355.99,177.08 L356.47,177.10 L356.94,177.11 L357.42,177.13 L357.90,177.14 L358.37,177.15 L358.85,177.17 L359.33,177.18 L359.80,177.19 L360.28,177.21 L360.76,177.22 L361.23,177.23 L361.71,177.25 L362.19,177.26 L362.66,177.27 L363.14,177.28 L363.62,177.29 L364.09,177.31 L364.57,177.32 L365.05,177.33 L365.52,177.34 L366.00,177.35" stroke="#00ff00"/><path d="M223.50,177.88 L223.98,177.81 L224.45,177.74 L224.93,177.67 L225.41,177.59 L225.88,177.52 L226.36,177.45 L226.84,177.37 L227.31,177.29 L227.79,177.21 L228.27,177.13 L228.74,177.05 L229.22,176.97 L229.70,176.88 L230.17,176.79 L230.65,176.70 L231.13,176.60 L231.60,176.50 L232.08,176.40 L232.56,176.30 L233.03,176.19 L233.51,176.08 L233.98,175.96 L234.46,175.85 L234.94,175.72 L235.41,175.60 L235.89,175.47 L236.37,175.34 L236.84,175.20 L237.32,175.06 L237.80,174.92 L238.27,174.77 L238.75,174.62 L239.23,174.46 L239.70,174.30 L240.18,174.14 L240.66,173.97 L241.13,173.80 L241.61,173.63 L242.09,173.45 L242.56,173.27 L243.04,173.09 L243.52,172.90 L243.99,172.71 L244.47,172.51 L244.95,172.32 L245.42,172.11 L245.90,171.91 L246.38,171.69 L246.85,171.47 L247.33,171.23 L247.81,170.99 L248.28,170.74 L248.76,170.47 L249.24,170.19 L249.71,169.89 L250.19,169.58 L250.67,169.26 L251.14,168.92 L251.62,168.58 L252.10,168.22 L252.57,167.85 L253.05,167.46 L253.53,167.07 L254.00,166.66 L254.48,166.24 L254.95,165.81 L255.43,165.37 L255.91,164.93 L256.38,164.47 L256.86,164.00 L257.34,163.53 L257.81,163.05 L258.29,162.56 L258.77,162.07 L259.24,161.58 L259.72,161.08 L260.20,160.59 L260.67,160.09 L261.15,159.59 L261.63,159.10 L262.10,158.61 L262.58,158.13 L263.06,157.67 L263.53,157.23 L264.01,156.80 L264.49,156.40 L264.96,156.02 L265.44,155.68 L265.92,155.36 L266.39,155.08 L266.87,154.83 L267.35,154.61 L267.82,154.42 L268.30,154.26 L268.78,154.12 L269.25,154.01 L269.73,153.92 L270.21,153.86 L270.68,153.81 L271.16,153.78 L271.64,153.78 L272.11,153.79 L272.59,153.81 L273.07,153.85 L273.54,153.91 L274.02,153.99 L274.49,154.08 L274.97,154.19 L275.45,154.31 L275.92,154.45 L276.40,154.61 L276.88,154.79 L277.35,154.98 L277.83,155.19 L278.31,155.42 L278.78,155.66 L279.26,155.92 L279.74,156.19 L280.21,156.48 L280.69,156.77 L281.17,157.08 L281.64,157.40 L282.12,157.73 L282.60,158.07 L283.07,158.42 L283.55,158.77 L284.03,159.13 L284.50,159.49 L284.98,159.85 L285.46,160.22 L285.93,160.59 L286.41,160.96 L286.89,161.33 L287.36,161.69 L287.84,162.06 L288.32,162.42 L288.79,162.78 L289.27,163.13 L289.75,163.48 L290.22,163.82 L290.70,164.16 L291.18,164.50 L291.65,164.83 L292.13,165.16 L292.61,165.49 L293.08,165.81 L293.56,166.13 L294.04,166.44 L294.51,166.75 L294.99,167.05 L295.46,167.35 L295.94,167.65 L296.42,167.94 L296.89,168.23 L297.37,168.51 L297.85,168.79 L298.32,169.06 L298.80,169.34 L299.28,169.60 L299.75,169.86 L300.23,170.12 L300.71,170.37 L301.18,170.62 L301.66,170.87 L302.14,171.10 L302.61,171.34 L303.09,171.56 L303.57,171.78 L304.04,172.00 L304.52,172.21 L305.00,172.41 L305.47,172.61 L305.95,172.80 L306.43,172.99 L306.90,173.17 L307.38,173.34 L307.86,173.50 L308.33,173.66 L308.81,173.81 L309.29,173.96 L309.76,174.10 L310.24,174.23 L310.72,174.35 L311.19,174.46 L311.67,174.57 L312.15,174.68 L312.62,174.77 L313.10,174.86 L313.58,174.95 L314.05,175.03 L314.53,175.10 L315.01,175.17 L315.48,175.24 L315.96,175.30 L316.43,175.35 L316.91,175.41 L317.39,175.46 L317.86,175.50 L318.34,175.55 L318.82,175.59 L319.29,175.63 L319.77,175.67 L320.25,175.71 L320.72,175.74 L321.20,175.78 L321.68,175.81 L322.15,175.84 L322.63,175.87 L323.11,175.91 L323.58,175.94 L324.06,175.97 L324.54,176.00 L325.01,176.03 L325.49,176.06 L325.97,176.09 L326.44,176.12 L326.92,176.15 L327.40,176.18 L327.87,176.21 L328.35,176.24 L328.83,176.26 L329.30,176.29 L329.78,176.32 L330.26,176.35 L330.73,176.37 L331.21,176.40 L331.69,176.42 L332.16,176.45 L332.64,176.47 L333.12,176.50 L333.59,176.52 L334.07,176.55 L334.55,176.57 L335.02,176.59 L335.50,176.62 L335.97,176.64 L336.45,176.66 L336.93,176.68 L337.40,176.70 L337.88,176.72 L338.36,176.75 L338.83,176.77 L339.31,176.79 L339.79,176.81 L340.26,176.82 L340.74,176.84 L341.22,176.86 L341.69,176.88 L342.17,176.90 L342.65,176.92 L343.12,176.93 L343.60,176.95 L344.08,176.97 L344.55,176.98 L345.03,177.00 L345.51,177.02 L345.98,177.03 L346.46,177.05 L346.94,177.06 L347.41,177.08 L347.89,177.09 L348.37,177.11 L348.84,177.12 L349.32,177.13 L349.80,177.15 L350.27,177.16 L350.75,177.17 L351.23,177.19 L351.70,177.20 L352.18,177.21 L352.66,177.23 L353.13,177.24 L353.61,177.25 L354.09,177.26 L354.56,177.27 L355.04,177.29 L355.52,177.30 L355.99,177.31 L356.47,177.32 L356.94,177.33 L357.42,177.34 L357.90,177.35 L358.37,177.36 L358.85,177.37 L359.33,177.39 L359.80,177.40 L360.28,177.41 L360.76,177.42 L361.23,177.43 L361.71,177.44 L362.19,177.45 L362.66,177.46 L363.14,177.47 L363.62,177.48 L364.09,177.49 L364.57,177.50 L365.05,177.51 L365.52,177.52 L366.00,177.53" stroke="#0000ff"/><path d="M223.50,178.34 L223.98,178.29 L224.45,178.24 L224.93,178.19 L225.41,178.14 L225.88,178.10 L226.36,178.04 L226.84,177.99 L227.31,177.94 L227.79,177.89 L228.27,177.83 L228.74,177.77 L229.22,177.71 L229.70,177.65 L230.17,177.59 L230.65,177.52 L231.13,177.46 L231.60,177.39 L232.08,177.31 L232.56,177.24 L233.03,177.16 L233.51,177.08 L233.98,176.99 L234.46,176.91 L234.94,176.81 L235.41,176.72 L235.89,176.62 L236.37,176.52 L236.84,176.42 L237.32,176.32 L237.80,176.21 L238.27,176.09 L238.75,175.98 L239.23,175.86 L239.70,175.73 L240.18,175.61 L240.66,175.48 L241.13,175.34 L241.61,175.20 L242.09,175.06 L242.56,174.92 L243.04,174.77 L243.52,174.62 L243.99,174.47 L244.47,174.31 L244.95,174.15 L245.42,173.98 L245.90,173.82 L246.38,173.65 L246.85,173.48 L247.33,173.31 L247.81,173.14 L248.28,172.96 L248.76,172.79 L249.24,172.62 L249.71,172.44 L250.19,172.27 L250.67,172.10 L251.14,171.93 L251.62,171.76 L252.10,171.59 L252.57,171.43 L253.05,171.27 L253.53,171.11 L254.00,170.96 L254.48,170.81 L254.95,170.67 L255.43,170.53 L255.91,170.40 L256.38,170.28 L256.86,170.16 L257.34,170.05 L257.81,169.95 L258.29,169.86 L258.77,169.78 L259.24,169.70 L259.72,169.64 L260.20,169.59 L260.67,169.55 L261.15,169.52 L261.63,169.50 L262.10,169.50 L262.58,169.51 L263.06,169.53 L263.53,169.56 L264.01,169.60 L264.49,169.66 L264.96,169.72 L265.44,169.79 L265.92,169.87 L266.39,169.96 L266.87,170.05 L267.35,170.15 L267.82,170.26 L268.30,170.37 L268.78,170.48 L269.25,170.60 L269.73,170.72 L270.21,170.84 L270.68,170.96 L271.16,171.08 L271.64,171.20 L272.11,171.32 L272.59,171.44 L273.07,171.56 L273.54,171.68 L274.02,171.80 L274.49,171.93 L274.97,172.05 L275.45,172.18 L275.92,172.30 L276.40,172.43 L276.88,172.56 L277.35,172.69 L277.83,172.83 L278.31,172.96 L278.78,173.10 L279.26,173.24 L279.74,173.38 L280.21,173.53 L280.69,173.67 L281.17,173.82 L281.64,173.96 L282.12,174.11 L282.60,174.26 L283.07,174.41 L283.55,174.55 L284.03,174.70 L284.50,174.85 L284.98,174.99 L285.46,175.13 L285.93,175.27 L286.41,175.41 L286.89,175.55 L287.36,175.68 L287.84,175.81 L288.32,175.93 L288.79,176.05 L289.27,176.17 L289.75,176.28 L290.22,176.39 L290.70,176.49 L291.18,176.58 L291.65,176.67 L292.13,176.76 L292.61,176.83 L293.08,176.90 L293.56,176.97 L294.04,177.03 L294.51,177.09 L294.99,177.14 L295.46,177.19 L295.94,177.23 L296.42,177.27 L296.89,177.30 L297.37,177.34 L297.85,177.36 L298.32,177.39 L298.80,177.41 L299.28,177.43 L299.75,177.45 L300.23,177.46 L300.71,177.48 L301.18,177.49 L301.66,177.50 L302.14,177.50 L302.61,177.51 L303.09,177.52 L303.57,177.52 L304.04,177.53 L304.52,177.53 L305.00,177.54 L305.47,177.54 L305.95,177.55 L306.43,177.55 L306.90,177.56 L307.38,177.56 L307.86,177.56 L308.33,177.57 L308.81,177.57 L309.29,177.58 L309.76,177.58 L310.24,177.59 L310.72,177.59 L311.19,177.59 L311.67,177.60 L312.15,177.60 L312.62,177.60 L313.10,177.61 L313.58,177.61 L314.05,177.61 L314.53,177.62 L315.01,177.62 L315.48,177.62 L315.96,177.63 L316.43,177.63 L316.91,177.63 L317.39,177.64 L317.86,177.64 L318.34,177.64 L318.82,177.64 L319.29,177.65 L319.77,177.65 L320.25,177.65 L320.72,177.65 L321.20,177.66 L321.68,177.66 L322.15,177.66 L322.63,177.66 L323.11,177.66 L323.58,177.67 L324.06,177.67 L324.54,177.67 L325.01,177.67 L325.49,177.67 L325.97,177.68 L326.44,177.68 L326.92,177.68 L327.40,177.68 L327.87,177.68 L328.35,177.68 L328.83,177.69 L329.30,177.69 L329.78,177.69 L330.26,177.69 L330.73,177.69 L331.21,177.69 L331.69,177.69 L332.16,177.69 L332.64,177.70 L333.12,177.70 L333.59,177.70 L334.07,177.70 L334.55,177.70 L335.02,177.70 L335.50,177.70 L335.97,177.70 L336.45,177.70 L336.93,177.70 L337.40,177.70 L337.88,177.70 L338.36,177.71 L338.83,177.71 L339.31,177.71 L339.79,177.71 L340.26,177.71 L340.74,177.71 L341.22,177.71 L341.69,177.71 L342.17,177.71 L342.65,177.71 L343.12,177.71 L343.60,177.71 L344.08,177.71 L344.55,177.71 L345.03,177.71 L345.51,177.71 L345.98,177.71 L346.46,177.71 L346.94,177.71 L347.41,177.71 L347.89,177.71 L348.37,177.71 L348.84,177.71 L349.32,177.71 L349.80,177.71 L350.27,177.71 L350.75,177.71 L351.23,177.71 L351.70,177.71 L352.18,177.71 L352.66,177.71 L353.13,177.71 L353.61,177.71 L354.09,177.71 L354.56,177.71 L355.04,177.71 L355.52,177.71 L355.99,177.71 L356.47,177.71 L356.94,177.71 L357.42,177.71 L357.90,177.71 L358.37,177.71 L358.85,177.70 L359.33,177.70 L359.80,177.70 L360.28,177.70 L360.76,177.70 L361.23,177.70 L361.71,177.70 L362.19,177.70 L362.66,177.70 L363.14,177.70 L363.62,177.70 L364.09,177.70 L364.57,177.70 L365.05,177.70 L365.52,177.70 L366.00,177.70" stroke="#800080"/></g><text x="330.63" y="44.40" class="pl" textLength="26.44" lengthAdjust="spacingAndGlyphs">(a)</text><rect x="390.0" y="19.9" width="142.5" height="161.9" fill="none" stroke="#d2d2d2" stroke-width="1"/><path d="M390.0,178.40h1.6M532.5,178.40h-1.6M390.0,172.70h1.6M532.5,172.70h-1.6M390.0,167.00h1.6M532.5,167.00h-1.6M390.0,161.30h1.6M532.5,161.30h-1.6M390.0,155.60h1.6M532.5,155.60h-1.6M390.0,149.90h1.6M532.5,149.90h-1.6M390.0,144.20h1.6M532.5,144.20h-1.6M390.0,138.50h1.6M532.5,138.50h-1.6M390.0,132.80h1.6M532.5,132.80h-1.6M390.0,127.10h1.6M532.5,127.10h-1.6M390.0,121.40h1.6M532.5,121.40h-1.6M390.0,115.70h1.6M532.5,115.70h-1.6M390.0,110.00h1.6M532.5,110.00h-1.6M390.0,104.30h1.6M532.5,104.30h-1.6M390.0,98.60h1.6M532.5,98.60h-1.6M390.0,92.90h1.6M532.5,92.90h-1.6M390.0,87.20h1.6M532.5,87.20h-1.6M390.0,81.50h1.6M532.5,81.50h-1.6M390.0,75.80h1.6M532.5,75.80h-1.6M390.0,70.10h1.6M532.5,70.10h-1.6M390.0,64.40h1.6M532.5,64.40h-1.6M390.0,58.70h1.6M532.5,58.70h-1.6M390.0,53.00h1.6M532.5,53.00h-1.6M390.0,47.30h1.6M532.5,47.30h-1.6M390.0,41.60h1.6M532.5,41.60h-1.6M390.0,35.90h1.6M532.5,35.90h-1.6M390.0,30.20h1.6M532.5,30.20h-1.6M390.0,24.50h1.6M532.5,24.50h-1.6M397.00,19.9v1.6M404.10,19.9v1.6M411.20,19.9v1.6M418.30,19.9v1.6M425.40,19.9v1.6M432.50,19.9v1.6M439.60,19.9v1.6M446.70,19.9v1.6M453.80,19.9v1.6M460.90,19.9v1.6M468.00,19.9v1.6M475.10,19.9v1.6M482.20,19.9v1.6M489.30,19.9v1.6M496.40,19.9v1.6M503.50,19.9v1.6M510.60,19.9v1.6M517.70,19.9v1.6M524.80,19.9v1.6M399.60,181.8v-1.6M423.50,181.8v-1.6M447.40,181.8v-1.6M471.30,181.8v-1.6M495.20,181.8v-1.6M519.10,181.8v-1.6" stroke="#9a9a9a" stroke-width="0.9" fill="none"/><text x="386.90" y="182.10" text-anchor="end" class="tl" textLength="4.70" lengthAdjust="spacingAndGlyphs">0</text><text x="386.90" y="159.30" text-anchor="end" class="tl" textLength="4.70" lengthAdjust="spacingAndGlyphs">2</text><text x="386.90" y="136.50" text-anchor="end" class="tl" textLength="4.70" lengthAdjust="spacingAndGlyphs">4</text><text x="386.90" y="113.70" text-anchor="end" class="tl" textLength="4.70" lengthAdjust="spacingAndGlyphs">6</text><text x="386.90" y="90.90" text-anchor="end" class="tl" textLength="4.70" lengthAdjust="spacingAndGlyphs">8</text><text x="386.90" y="68.10" text-anchor="end" class="tl" textLength="9.40" lengthAdjust="spacingAndGlyphs">10</text><text x="386.90" y="45.30" text-anchor="end" class="tl" textLength="9.40" lengthAdjust="spacingAndGlyphs">12</text><g fill="none" stroke-width="3.2" stroke-linejoin="round" stroke-linecap="round"><path d="M390.00,174.79 L390.48,174.30 L390.95,173.81 L391.43,173.31 L391.91,172.81 L392.38,172.29 L392.86,171.76 L393.34,171.21 L393.81,170.64 L394.29,170.05 L394.77,169.44 L395.24,168.81 L395.72,168.15 L396.20,167.46 L396.67,166.75 L397.15,166.00 L397.63,165.23 L398.10,164.43 L398.58,163.60 L399.06,162.73 L399.53,161.83 L400.01,160.90 L400.48,159.93 L400.96,158.93 L401.44,157.89 L401.91,156.81 L402.39,155.71 L402.87,154.57 L403.34,153.39 L403.82,152.19 L404.30,150.95 L404.77,149.69 L405.25,148.39 L405.73,147.07 L406.20,145.71 L406.68,144.33 L407.16,142.92 L407.63,141.47 L408.11,140.00 L408.59,138.48 L409.06,136.93 L409.54,135.34 L410.02,133.70 L410.49,132.02 L410.97,130.29 L411.45,128.51 L411.92,126.68 L412.40,124.79 L412.88,122.86 L413.35,120.87 L413.83,118.83 L414.31,116.74 L414.78,114.61 L415.26,112.43 L415.74,110.20 L416.21,107.92 L416.69,105.62 L417.17,103.29 L417.64,100.95 L418.12,98.61 L418.60,96.27 L419.07,93.96 L419.55,91.66 L420.03,89.39 L420.50,87.13 L420.98,84.88 L421.45,82.65 L421.93,80.42 L422.41,78.21 L422.88,76.01 L423.36,73.81 L423.84,71.63 L424.31,69.46 L424.79,67.30 L425.27,65.15 L425.74,63.01 L426.22,60.88 L426.70,58.75 L427.17,56.63 L427.65,54.52 L428.13,52.42 L428.60,50.31 L429.08,48.22 L429.56,46.15 L430.03,44.10 L430.51,42.10 L430.99,40.15 L431.46,38.27 L431.94,36.47 L432.42,34.76 L432.89,33.15 L433.37,31.65 L433.85,30.26 L434.32,28.99 L434.80,27.85 L435.28,26.83 L435.75,25.95 L436.23,25.20 L436.71,24.61 L437.18,24.16 L437.66,23.87 L438.14,23.73 L438.61,23.77 L439.09,23.97 L439.57,24.31 L440.04,24.80 L440.52,25.42 L440.99,26.17 L441.47,27.02 L441.95,27.97 L442.42,29.01 L442.90,30.13 L443.38,31.31 L443.85,32.56 L444.33,33.85 L444.81,35.20 L445.28,36.60 L445.76,38.05 L446.24,39.57 L446.71,41.14 L447.19,42.78 L447.67,44.48 L448.14,46.25 L448.62,48.09 L449.10,49.99 L449.57,51.95 L450.05,53.95 L450.53,56.01 L451.00,58.10 L451.48,60.22 L451.96,62.37 L452.43,64.55 L452.91,66.75 L453.39,68.97 L453.86,71.22 L454.34,73.49 L454.82,75.79 L455.29,78.10 L455.77,80.44 L456.25,82.80 L456.72,85.18 L457.20,87.59 L457.68,90.01 L458.15,92.45 L458.63,94.89 L459.11,97.33 L459.58,99.77 L460.06,102.19 L460.54,104.59 L461.01,106.97 L461.49,109.32 L461.96,111.63 L462.44,113.90 L462.92,116.12 L463.39,118.29 L463.87,120.40 L464.35,122.44 L464.82,124.42 L465.30,126.32 L465.78,128.15 L466.25,129.91 L466.73,131.61 L467.21,133.25 L467.68,134.86 L468.16,136.42 L468.64,137.95 L469.11,139.47 L469.59,140.96 L470.07,142.43 L470.54,143.87 L471.02,145.27 L471.50,146.62 L471.97,147.91 L472.45,149.13 L472.93,150.27 L473.40,151.33 L473.88,152.31 L474.36,153.21 L474.83,154.04 L475.31,154.81 L475.79,155.51 L476.26,156.16 L476.74,156.76 L477.22,157.31 L477.69,157.83 L478.17,158.31 L478.65,158.77 L479.12,159.20 L479.60,159.61 L480.08,159.99 L480.55,160.36 L481.03,160.71 L481.51,161.04 L481.98,161.36 L482.46,161.66 L482.93,161.95 L483.41,162.23 L483.89,162.50 L484.36,162.76 L484.84,163.01 L485.32,163.25 L485.79,163.50 L486.27,163.73 L486.75,163.97 L487.22,164.20 L487.70,164.43 L488.18,164.65 L488.65,164.87 L489.13,165.08 L489.61,165.29 L490.08,165.49 L490.56,165.68 L491.04,165.86 L491.51,166.04 L491.99,166.20 L492.47,166.36 L492.94,166.51 L493.42,166.66 L493.90,166.80 L494.37,166.93 L494.85,167.06 L495.33,167.19 L495.80,167.31 L496.28,167.43 L496.76,167.55 L497.23,167.67 L497.71,167.78 L498.19,167.90 L498.66,168.01 L499.14,168.13 L499.62,168.25 L500.09,168.36 L500.57,168.48 L501.05,168.60 L501.52,168.72 L502.00,168.84 L502.47,168.97 L502.95,169.10 L503.43,169.22 L503.90,169.35 L504.38,169.49 L504.86,169.62 L505.33,169.76 L505.81,169.89 L506.29,170.03 L506.76,170.17 L507.24,170.31 L507.72,170.45 L508.19,170.59 L508.67,170.73 L509.15,170.87 L509.62,171.01 L510.10,171.15 L510.58,171.29 L511.05,171.43 L511.53,171.57 L512.01,171.70 L512.48,171.84 L512.96,171.97 L513.44,172.10 L513.91,172.23 L514.39,172.36 L514.87,172.48 L515.34,172.60 L515.82,172.72 L516.30,172.84 L516.77,172.95 L517.25,173.06 L517.73,173.17 L518.20,173.28 L518.68,173.39 L519.16,173.49 L519.63,173.59 L520.11,173.69 L520.59,173.79 L521.06,173.89 L521.54,173.98 L522.02,174.08 L522.49,174.17 L522.97,174.26 L523.44,174.35 L523.92,174.43 L524.40,174.52 L524.87,174.61 L525.35,174.69 L525.83,174.77 L526.30,174.85 L526.78,174.94 L527.26,175.02 L527.73,175.09 L528.21,175.17 L528.69,175.25 L529.16,175.33 L529.64,175.41 L530.12,175.48 L530.59,175.56 L531.07,175.63 L531.55,175.71 L532.02,175.78 L532.50,175.86" stroke="#0000ff"/><path d="M390.00,175.64 L390.48,175.25 L390.95,174.85 L391.43,174.46 L391.91,174.06 L392.38,173.65 L392.86,173.24 L393.34,172.82 L393.81,172.39 L394.29,171.94 L394.77,171.49 L395.24,171.02 L395.72,170.53 L396.20,170.03 L396.67,169.51 L397.15,168.96 L397.63,168.40 L398.10,167.81 L398.58,167.20 L399.06,166.56 L399.53,165.90 L400.01,165.20 L400.48,164.48 L400.96,163.73 L401.44,162.95 L401.91,162.14 L402.39,161.30 L402.87,160.43 L403.34,159.54 L403.82,158.62 L404.30,157.67 L404.77,156.69 L405.25,155.68 L405.73,154.65 L406.20,153.59 L406.68,152.50 L407.16,151.39 L407.63,150.25 L408.11,149.08 L408.59,147.89 L409.06,146.67 L409.54,145.42 L410.02,144.15 L410.49,142.85 L410.97,141.53 L411.45,140.19 L411.92,138.84 L412.40,137.48 L412.88,136.12 L413.35,134.75 L413.83,133.38 L414.31,132.01 L414.78,130.65 L415.26,129.31 L415.74,127.98 L416.21,126.66 L416.69,125.37 L417.17,124.10 L417.64,122.85 L418.12,121.63 L418.60,120.43 L419.07,119.26 L419.55,118.13 L420.03,117.02 L420.50,115.94 L420.98,114.91 L421.45,113.90 L421.93,112.94 L422.41,112.01 L422.88,111.12 L423.36,110.28 L423.84,109.48 L424.31,108.73 L424.79,108.02 L425.27,107.36 L425.74,106.75 L426.22,106.18 L426.70,105.66 L427.17,105.18 L427.65,104.76 L428.13,104.38 L428.60,104.05 L429.08,103.77 L429.56,103.54 L430.03,103.36 L430.51,103.24 L430.99,103.16 L431.46,103.13 L431.94,103.16 L432.42,103.24 L432.89,103.37 L433.37,103.55 L433.85,103.79 L434.32,104.07 L434.80,104.40 L435.28,104.77 L435.75,105.19 L436.23,105.66 L436.71,106.16 L437.18,106.71 L437.66,107.30 L438.14,107.93 L438.61,108.59 L439.09,109.30 L439.57,110.03 L440.04,110.80 L440.52,111.61 L440.99,112.44 L441.47,113.31 L441.95,114.21 L442.42,115.14 L442.90,116.09 L443.38,117.08 L443.85,118.09 L444.33,119.13 L444.81,120.20 L445.28,121.29 L445.76,122.41 L446.24,123.55 L446.71,124.72 L447.19,125.91 L447.67,127.12 L448.14,128.36 L448.62,129.61 L449.10,130.89 L449.57,132.18 L450.05,133.49 L450.53,134.81 L451.00,136.14 L451.48,137.49 L451.96,138.84 L452.43,140.20 L452.91,141.56 L453.39,142.92 L453.86,144.29 L454.34,145.66 L454.82,147.03 L455.29,148.42 L455.77,149.81 L456.25,151.22 L456.72,152.62 L457.20,154.03 L457.68,155.42 L458.15,156.78 L458.63,158.10 L459.11,159.39 L459.58,160.61 L460.06,161.77 L460.54,162.86 L461.01,163.87 L461.49,164.81 L461.96,165.66 L462.44,166.45 L462.92,167.16 L463.39,167.80 L463.87,168.38 L464.35,168.89 L464.82,169.33 L465.30,169.71 L465.78,170.03 L466.25,170.30 L466.73,170.51 L467.21,170.68 L467.68,170.80 L468.16,170.87 L468.64,170.91 L469.11,170.91 L469.59,170.88 L470.07,170.83 L470.54,170.75 L471.02,170.65 L471.50,170.54 L471.97,170.42 L472.45,170.29 L472.93,170.15 L473.40,170.02 L473.88,169.89 L474.36,169.75 L474.83,169.63 L475.31,169.50 L475.79,169.39 L476.26,169.29 L476.74,169.19 L477.22,169.11 L477.69,169.04 L478.17,168.99 L478.65,168.96 L479.12,168.95 L479.60,168.95 L480.08,168.98 L480.55,169.02 L481.03,169.08 L481.51,169.15 L481.98,169.24 L482.46,169.33 L482.93,169.44 L483.41,169.55 L483.89,169.67 L484.36,169.79 L484.84,169.92 L485.32,170.04 L485.79,170.17 L486.27,170.30 L486.75,170.43 L487.22,170.55 L487.70,170.67 L488.18,170.80 L488.65,170.92 L489.13,171.04 L489.61,171.16 L490.08,171.28 L490.56,171.40 L491.04,171.52 L491.51,171.64 L491.99,171.75 L492.47,171.87 L492.94,171.99 L493.42,172.10 L493.90,172.22 L494.37,172.33 L494.85,172.45 L495.33,172.56 L495.80,172.68 L496.28,172.79 L496.76,172.90 L497.23,173.02 L497.71,173.13 L498.19,173.24 L498.66,173.35 L499.14,173.46 L499.62,173.57 L500.09,173.68 L500.57,173.79 L501.05,173.90 L501.52,174.00 L502.00,174.11 L502.47,174.21 L502.95,174.32 L503.43,174.42 L503.90,174.52 L504.38,174.62 L504.86,174.72 L505.33,174.82 L505.81,174.92 L506.29,175.02 L506.76,175.11 L507.24,175.20 L507.72,175.30 L508.19,175.39 L508.67,175.48 L509.15,175.57 L509.62,175.65 L510.10,175.74 L510.58,175.82 L511.05,175.91 L511.53,175.99 L512.01,176.07 L512.48,176.14 L512.96,176.22 L513.44,176.29 L513.91,176.37 L514.39,176.44 L514.87,176.51 L515.34,176.57 L515.82,176.64 L516.30,176.70 L516.77,176.76 L517.25,176.82 L517.73,176.88 L518.20,176.93 L518.68,176.98 L519.16,177.03 L519.63,177.08 L520.11,177.13 L520.59,177.17 L521.06,177.21 L521.54,177.25 L522.02,177.29 L522.49,177.33 L522.97,177.36 L523.44,177.40 L523.92,177.43 L524.40,177.46 L524.87,177.49 L525.35,177.51 L525.83,177.54 L526.30,177.56 L526.78,177.59 L527.26,177.61 L527.73,177.63 L528.21,177.66 L528.69,177.68 L529.16,177.70 L529.64,177.72 L530.12,177.73 L530.59,177.75 L531.07,177.77 L531.55,177.79 L532.02,177.81 L532.50,177.82" stroke="#00ff00"/><path d="M390.00,176.29 L390.48,176.00 L390.95,175.71 L391.43,175.42 L391.91,175.12 L392.38,174.83 L392.86,174.52 L393.34,174.22 L393.81,173.90 L394.29,173.58 L394.77,173.25 L395.24,172.92 L395.72,172.57 L396.20,172.22 L396.67,171.85 L397.15,171.47 L397.63,171.08 L398.10,170.68 L398.58,170.26 L399.06,169.82 L399.53,169.37 L400.01,168.90 L400.48,168.41 L400.96,167.90 L401.44,167.37 L401.91,166.81 L402.39,166.23 L402.87,165.63 L403.34,165.00 L403.82,164.34 L404.30,163.66 L404.77,162.95 L405.25,162.20 L405.73,161.43 L406.20,160.62 L406.68,159.78 L407.16,158.90 L407.63,157.99 L408.11,157.04 L408.59,156.06 L409.06,155.04 L409.54,153.98 L410.02,152.89 L410.49,151.76 L410.97,150.59 L411.45,149.38 L411.92,148.12 L412.40,146.83 L412.88,145.50 L413.35,144.12 L413.83,142.70 L414.31,141.25 L414.78,139.75 L415.26,138.23 L415.74,136.68 L416.21,135.11 L416.69,133.51 L417.17,131.90 L417.64,130.27 L418.12,128.64 L418.60,126.99 L419.07,125.35 L419.55,123.71 L420.03,122.07 L420.50,120.44 L420.98,118.82 L421.45,117.23 L421.93,115.66 L422.41,114.11 L422.88,112.60 L423.36,111.12 L423.84,109.68 L424.31,108.29 L424.79,106.96 L425.27,105.69 L425.74,104.51 L426.22,103.40 L426.70,102.39 L427.17,101.48 L427.65,100.68 L428.13,100.00 L428.60,99.45 L429.08,99.03 L429.56,98.76 L430.03,98.65 L430.51,98.69 L430.99,98.91 L431.46,99.30 L431.94,99.84 L432.42,100.53 L432.89,101.36 L433.37,102.31 L433.85,103.39 L434.32,104.56 L434.80,105.84 L435.28,107.20 L435.75,108.64 L436.23,110.14 L436.71,111.70 L437.18,113.30 L437.66,114.94 L438.14,116.61 L438.61,118.31 L439.09,120.02 L439.57,121.73 L440.04,123.45 L440.52,125.16 L440.99,126.86 L441.47,128.53 L441.95,130.17 L442.42,131.77 L442.90,133.32 L443.38,134.81 L443.85,136.22 L444.33,137.55 L444.81,138.78 L445.28,139.91 L445.76,140.92 L446.24,141.82 L446.71,142.61 L447.19,143.28 L447.67,143.84 L448.14,144.27 L448.62,144.59 L449.10,144.79 L449.57,144.86 L450.05,144.82 L450.53,144.68 L451.00,144.45 L451.48,144.13 L451.96,143.75 L452.43,143.32 L452.91,142.84 L453.39,142.33 L453.86,141.80 L454.34,141.27 L454.82,140.74 L455.29,140.23 L455.77,139.73 L456.25,139.26 L456.72,138.83 L457.20,138.43 L457.68,138.08 L458.15,137.78 L458.63,137.54 L459.11,137.36 L459.58,137.24 L460.06,137.21 L460.54,137.25 L461.01,137.37 L461.49,137.57 L461.96,137.84 L462.44,138.18 L462.92,138.57 L463.39,139.02 L463.87,139.52 L464.35,140.06 L464.82,140.65 L465.30,141.26 L465.78,141.91 L466.25,142.58 L466.73,143.26 L467.21,143.96 L467.68,144.67 L468.16,145.39 L468.64,146.11 L469.11,146.84 L469.59,147.57 L470.07,148.30 L470.54,149.02 L471.02,149.74 L471.50,150.45 L471.97,151.15 L472.45,151.83 L472.93,152.50 L473.40,153.15 L473.88,153.79 L474.36,154.41 L474.83,155.02 L475.31,155.60 L475.79,156.16 L476.26,156.71 L476.74,157.23 L477.22,157.73 L477.69,158.21 L478.17,158.66 L478.65,159.10 L479.12,159.51 L479.60,159.91 L480.08,160.29 L480.55,160.66 L481.03,161.01 L481.51,161.35 L481.98,161.69 L482.46,162.01 L482.93,162.33 L483.41,162.64 L483.89,162.94 L484.36,163.25 L484.84,163.55 L485.32,163.85 L485.79,164.14 L486.27,164.43 L486.75,164.72 L487.22,165.00 L487.70,165.28 L488.18,165.56 L488.65,165.83 L489.13,166.10 L489.61,166.36 L490.08,166.62 L490.56,166.88 L491.04,167.13 L491.51,167.38 L491.99,167.62 L492.47,167.86 L492.94,168.09 L493.42,168.32 L493.90,168.55 L494.37,168.77 L494.85,168.98 L495.33,169.19 L495.80,169.40 L496.28,169.60 L496.76,169.79 L497.23,169.99 L497.71,170.18 L498.19,170.36 L498.66,170.54 L499.14,170.72 L499.62,170.89 L500.09,171.06 L500.57,171.23 L501.05,171.39 L501.52,171.55 L502.00,171.71 L502.47,171.87 L502.95,172.02 L503.43,172.17 L503.90,172.32 L504.38,172.47 L504.86,172.61 L505.33,172.75 L505.81,172.89 L506.29,173.03 L506.76,173.17 L507.24,173.30 L507.72,173.43 L508.19,173.56 L508.67,173.69 L509.15,173.82 L509.62,173.94 L510.10,174.06 L510.58,174.18 L511.05,174.29 L511.53,174.41 L512.01,174.52 L512.48,174.63 L512.96,174.73 L513.44,174.84 L513.91,174.94 L514.39,175.04 L514.87,175.14 L515.34,175.23 L515.82,175.32 L516.30,175.41 L516.77,175.50 L517.25,175.58 L517.73,175.67 L518.20,175.75 L518.68,175.82 L519.16,175.90 L519.63,175.97 L520.11,176.04 L520.59,176.10 L521.06,176.17 L521.54,176.23 L522.02,176.29 L522.49,176.35 L522.97,176.40 L523.44,176.46 L523.92,176.51 L524.40,176.56 L524.87,176.61 L525.35,176.66 L525.83,176.70 L526.30,176.75 L526.78,176.79 L527.26,176.83 L527.73,176.87 L528.21,176.91 L528.69,176.95 L529.16,176.99 L529.64,177.03 L530.12,177.07 L530.59,177.10 L531.07,177.14 L531.55,177.18 L532.02,177.21 L532.50,177.25" stroke="#800080"/><path d="M390.00,177.77 L390.48,177.56 L390.95,177.34 L391.43,177.14 L391.91,176.94 L392.38,176.74 L392.86,176.56 L393.34,176.39 L393.81,176.23 L394.29,176.09 L394.77,175.96 L395.24,175.84 L395.72,175.73 L396.20,175.62 L396.67,175.52 L397.15,175.42 L397.63,175.33 L398.10,175.23 L398.58,175.14 L399.06,175.04 L399.53,174.93 L400.01,174.82 L400.48,174.71 L400.96,174.58 L401.44,174.46 L401.91,174.32 L402.39,174.18 L402.87,174.03 L403.34,173.88 L403.82,173.72 L404.30,173.56 L404.77,173.39 L405.25,173.21 L405.73,173.03 L406.20,172.84 L406.68,172.65 L407.16,172.45 L407.63,172.24 L408.11,172.03 L408.59,171.82 L409.06,171.59 L409.54,171.37 L410.02,171.13 L410.49,170.90 L410.97,170.66 L411.45,170.41 L411.92,170.16 L412.40,169.90 L412.88,169.65 L413.35,169.39 L413.83,169.12 L414.31,168.86 L414.78,168.60 L415.26,168.33 L415.74,168.06 L416.21,167.80 L416.69,167.53 L417.17,167.26 L417.64,167.00 L418.12,166.74 L418.60,166.48 L419.07,166.22 L419.55,165.96 L420.03,165.71 L420.50,165.47 L420.98,165.23 L421.45,165.00 L421.93,164.77 L422.41,164.56 L422.88,164.36 L423.36,164.16 L423.84,163.98 L424.31,163.82 L424.79,163.67 L425.27,163.53 L425.74,163.41 L426.22,163.30 L426.70,163.22 L427.17,163.15 L427.65,163.10 L428.13,163.08 L428.60,163.08 L429.08,163.10 L429.56,163.14 L430.03,163.20 L430.51,163.28 L430.99,163.39 L431.46,163.51 L431.94,163.65 L432.42,163.81 L432.89,163.99 L433.37,164.18 L433.85,164.39 L434.32,164.61 L434.80,164.85 L435.28,165.10 L435.75,165.37 L436.23,165.64 L436.71,165.93 L437.18,166.23 L437.66,166.53 L438.14,166.85 L438.61,167.17 L439.09,167.49 L439.57,167.82 L440.04,168.14 L440.52,168.47 L440.99,168.80 L441.47,169.12 L441.95,169.43 L442.42,169.74 L442.90,170.05 L443.38,170.34 L443.85,170.62 L444.33,170.89 L444.81,171.14 L445.28,171.38 L445.76,171.60 L446.24,171.81 L446.71,172.01 L447.19,172.20 L447.67,172.37 L448.14,172.53 L448.62,172.69 L449.10,172.84 L449.57,172.98 L450.05,173.11 L450.53,173.24 L451.00,173.37 L451.48,173.49 L451.96,173.61 L452.43,173.73 L452.91,173.85 L453.39,173.97 L453.86,174.09 L454.34,174.22 L454.82,174.34 L455.29,174.48 L455.77,174.62 L456.25,174.76 L456.72,174.91 L457.20,175.07 L457.68,175.23 L458.15,175.39 L458.63,175.56 L459.11,175.71 L459.58,175.86 L460.06,176.01 L460.54,176.14 L461.01,176.26 L461.49,176.36 L461.96,176.45 L462.44,176.52 L462.92,176.56 L463.39,176.59 L463.87,176.60 L464.35,176.59 L464.82,176.57 L465.30,176.55 L465.78,176.51 L466.25,176.47 L466.73,176.42 L467.21,176.37 L467.68,176.33 L468.16,176.28 L468.64,176.24 L469.11,176.21 L469.59,176.19 L470.07,176.18 L470.54,176.17 L471.02,176.18 L471.50,176.19 L471.97,176.20 L472.45,176.23 L472.93,176.25 L473.40,176.29 L473.88,176.32 L474.36,176.36 L474.83,176.41 L475.31,176.46 L475.79,176.50 L476.26,176.56 L476.74,176.61 L477.22,176.66 L477.69,176.72 L478.17,176.77 L478.65,176.83 L479.12,176.88 L479.60,176.93 L480.08,176.98 L480.55,177.03 L481.03,177.08 L481.51,177.12 L481.98,177.16 L482.46,177.19 L482.93,177.22 L483.41,177.24 L483.89,177.25 L484.36,177.27 L484.84,177.27 L485.32,177.27 L485.79,177.27 L486.27,177.26 L486.75,177.25 L487.22,177.23 L487.70,177.21 L488.18,177.19 L488.65,177.17 L489.13,177.14 L489.61,177.11 L490.08,177.08 L490.56,177.04 L491.04,177.00 L491.51,176.97 L491.99,176.93 L492.47,176.89 L492.94,176.85 L493.42,176.81 L493.90,176.77 L494.37,176.73 L494.85,176.69 L495.33,176.65 L495.80,176.61 L496.28,176.57 L496.76,176.54 L497.23,176.50 L497.71,176.47 L498.19,176.44 L498.66,176.42 L499.14,176.40 L499.62,176.38 L500.09,176.36 L500.57,176.35 L501.05,176.34 L501.52,176.33 L502.00,176.33 L502.47,176.33 L502.95,176.33 L503.43,176.34 L503.90,176.35 L504.38,176.36 L504.86,176.38 L505.33,176.39 L505.81,176.41 L506.29,176.44 L506.76,176.46 L507.24,176.49 L507.72,176.52 L508.19,176.55 L508.67,176.58 L509.15,176.61 L509.62,176.65 L510.10,176.68 L510.58,176.72 L511.05,176.76 L511.53,176.80 L512.01,176.84 L512.48,176.88 L512.96,176.93 L513.44,176.97 L513.91,177.01 L514.39,177.06 L514.87,177.10 L515.34,177.14 L515.82,177.19 L516.30,177.23 L516.77,177.28 L517.25,177.32 L517.73,177.36 L518.20,177.40 L518.68,177.45 L519.16,177.49 L519.63,177.53 L520.11,177.57 L520.59,177.60 L521.06,177.64 L521.54,177.68 L522.02,177.72 L522.49,177.75 L522.97,177.79 L523.44,177.82 L523.92,177.85 L524.40,177.89 L524.87,177.92 L525.35,177.95 L525.83,177.98 L526.30,178.01 L526.78,178.04 L527.26,178.07 L527.73,178.10 L528.21,178.13 L528.69,178.16 L529.16,178.19 L529.64,178.22 L530.12,178.25 L530.59,178.28 L531.07,178.30 L531.55,178.33 L532.02,178.36 L532.50,178.39" stroke="#ff0000"/></g><text x="495.84" y="44.40" class="pl" textLength="27.53" lengthAdjust="spacingAndGlyphs">(b)</text><rect x="223.5" y="187.5" width="142.5" height="161.89999999999998" fill="none" stroke="#d2d2d2" stroke-width="1"/><path d="M223.5,346.10h1.6M366.0,346.10h-1.6M223.5,339.08h1.6M366.0,339.08h-1.6M223.5,332.06h1.6M366.0,332.06h-1.6M223.5,325.04h1.6M366.0,325.04h-1.6M223.5,318.02h1.6M366.0,318.02h-1.6M223.5,311.00h1.6M366.0,311.00h-1.6M223.5,303.98h1.6M366.0,303.98h-1.6M223.5,296.96h1.6M366.0,296.96h-1.6M223.5,289.94h1.6M366.0,289.94h-1.6M223.5,282.92h1.6M366.0,282.92h-1.6M223.5,275.90h1.6M366.0,275.90h-1.6M223.5,268.88h1.6M366.0,268.88h-1.6M223.5,261.86h1.6M366.0,261.86h-1.6M223.5,254.84h1.6M366.0,254.84h-1.6M223.5,247.82h1.6M366.0,247.82h-1.6M223.5,240.80h1.6M366.0,240.80h-1.6M223.5,233.78h1.6M366.0,233.78h-1.6M223.5,226.76h1.6M366.0,226.76h-1.6M223.5,219.74h1.6M366.0,219.74h-1.6M223.5,212.72h1.6M366.0,212.72h-1.6M223.5,205.70h1.6M366.0,205.70h-1.6M223.5,198.68h1.6M366.0,198.68h-1.6M223.5,191.66h1.6M366.0,191.66h-1.6M230.50,187.5v1.6M237.60,187.5v1.6M244.70,187.5v1.6M251.80,187.5v1.6M258.90,187.5v1.6M266.00,187.5v1.6M273.10,187.5v1.6M280.20,187.5v1.6M287.30,187.5v1.6M294.40,187.5v1.6M301.50,187.5v1.6M308.60,187.5v1.6M315.70,187.5v1.6M322.80,187.5v1.6M329.90,187.5v1.6M337.00,187.5v1.6M344.10,187.5v1.6M351.20,187.5v1.6M358.30,187.5v1.6M232.60,349.4v-1.6M256.50,349.4v-1.6M280.40,349.4v-1.6M304.30,349.4v-1.6M328.20,349.4v-1.6M352.10,349.4v-1.6" stroke="#9a9a9a" stroke-width="0.9" fill="none"/><text x="220.40" y="349.80" text-anchor="end" class="tl" textLength="4.70" lengthAdjust="spacingAndGlyphs">0</text><text x="220.40" y="314.70" text-anchor="end" class="tl" textLength="9.40" lengthAdjust="spacingAndGlyphs">10</text><text x="220.40" y="279.60" text-anchor="end" class="tl" textLength="9.40" lengthAdjust="spacingAndGlyphs">20</text><text x="220.40" y="244.50" text-anchor="end" class="tl" textLength="9.40" lengthAdjust="spacingAndGlyphs">30</text><text x="220.40" y="209.40" text-anchor="end" class="tl" textLength="9.40" lengthAdjust="spacingAndGlyphs">40</text><g fill="none" stroke-width="3.2" stroke-linejoin="round" stroke-linecap="round"><path d="M223.50,342.97 L223.98,342.69 L224.45,342.39 L224.93,342.07 L225.41,341.73 L225.88,341.36 L226.36,340.97 L226.84,340.55 L227.31,340.11 L227.79,339.63 L228.27,339.13 L228.74,338.59 L229.22,338.02 L229.70,337.43 L230.17,336.79 L230.65,336.12 L231.13,335.39 L231.60,334.62 L232.08,333.79 L232.56,332.89 L233.03,331.92 L233.51,330.88 L233.98,329.76 L234.46,328.56 L234.94,327.30 L235.41,325.98 L235.89,324.60 L236.37,323.16 L236.84,321.68 L237.32,320.15 L237.80,318.59 L238.27,316.97 L238.75,315.30 L239.23,313.57 L239.70,311.76 L240.18,309.87 L240.66,307.88 L241.13,305.79 L241.61,303.59 L242.09,301.27 L242.56,298.83 L243.04,296.26 L243.52,293.57 L243.99,290.77 L244.47,287.85 L244.95,284.82 L245.42,281.70 L245.90,278.51 L246.38,275.24 L246.85,271.94 L247.33,268.60 L247.81,265.24 L248.28,261.89 L248.76,258.56 L249.24,255.27 L249.71,252.02 L250.19,248.84 L250.67,245.70 L251.14,242.61 L251.62,239.56 L252.10,236.53 L252.57,233.51 L253.05,230.51 L253.53,227.55 L254.00,224.65 L254.48,221.84 L254.95,219.12 L255.43,216.53 L255.91,214.06 L256.38,211.71 L256.86,209.49 L257.34,207.38 L257.81,205.41 L258.29,203.56 L258.77,201.83 L259.24,200.24 L259.72,198.77 L260.20,197.43 L260.67,196.21 L261.15,195.12 L261.63,194.15 L262.10,193.31 L262.58,192.59 L263.06,191.99 L263.53,191.52 L264.01,191.17 L264.49,190.94 L264.96,190.83 L265.44,190.84 L265.92,190.97 L266.39,191.23 L266.87,191.62 L267.35,192.14 L267.82,192.79 L268.30,193.58 L268.78,194.51 L269.25,195.58 L269.73,196.79 L270.21,198.15 L270.68,199.65 L271.16,201.31 L271.64,203.12 L272.11,205.09 L272.59,207.19 L273.07,209.42 L273.54,211.76 L274.02,214.19 L274.49,216.72 L274.97,219.31 L275.45,221.95 L275.92,224.64 L276.40,227.37 L276.88,230.12 L277.35,232.88 L277.83,235.64 L278.31,238.39 L278.78,241.12 L279.26,243.84 L279.74,246.53 L280.21,249.19 L280.69,251.83 L281.17,254.42 L281.64,256.99 L282.12,259.54 L282.60,262.08 L283.07,264.62 L283.55,267.16 L284.03,269.71 L284.50,272.28 L284.98,274.86 L285.46,277.42 L285.93,279.95 L286.41,282.43 L286.89,284.85 L287.36,287.18 L287.84,289.42 L288.32,291.57 L288.79,293.63 L289.27,295.60 L289.75,297.49 L290.22,299.31 L290.70,301.05 L291.18,302.73 L291.65,304.34 L292.13,305.90 L292.61,307.39 L293.08,308.82 L293.56,310.21 L294.04,311.53 L294.51,312.81 L294.99,314.04 L295.46,315.23 L295.94,316.36 L296.42,317.46 L296.89,318.52 L297.37,319.54 L297.85,320.52 L298.32,321.47 L298.80,322.37 L299.28,323.25 L299.75,324.08 L300.23,324.87 L300.71,325.62 L301.18,326.33 L301.66,327.00 L302.14,327.64 L302.61,328.24 L303.09,328.81 L303.57,329.35 L304.04,329.86 L304.52,330.34 L305.00,330.80 L305.47,331.24 L305.95,331.66 L306.43,332.06 L306.90,332.44 L307.38,332.81 L307.86,333.17 L308.33,333.52 L308.81,333.87 L309.29,334.21 L309.76,334.54 L310.24,334.86 L310.72,335.18 L311.19,335.49 L311.67,335.79 L312.15,336.08 L312.62,336.37 L313.10,336.65 L313.58,336.93 L314.05,337.19 L314.53,337.45 L315.01,337.70 L315.48,337.95 L315.96,338.19 L316.43,338.41 L316.91,338.64 L317.39,338.85 L317.86,339.06 L318.34,339.26 L318.82,339.45 L319.29,339.63 L319.77,339.81 L320.25,339.98 L320.72,340.14 L321.20,340.29 L321.68,340.44 L322.15,340.59 L322.63,340.72 L323.11,340.85 L323.58,340.98 L324.06,341.10 L324.54,341.21 L325.01,341.32 L325.49,341.43 L325.97,341.53 L326.44,341.62 L326.92,341.72 L327.40,341.80 L327.87,341.89 L328.35,341.97 L328.83,342.05 L329.30,342.12 L329.78,342.19 L330.26,342.26 L330.73,342.33 L331.21,342.39 L331.69,342.46 L332.16,342.52 L332.64,342.58 L333.12,342.63 L333.59,342.69 L334.07,342.75 L334.55,342.80 L335.02,342.86 L335.50,342.91 L335.97,342.96 L336.45,343.01 L336.93,343.06 L337.40,343.11 L337.88,343.16 L338.36,343.21 L338.83,343.26 L339.31,343.31 L339.79,343.35 L340.26,343.40 L340.74,343.45 L341.22,343.49 L341.69,343.53 L342.17,343.58 L342.65,343.62 L343.12,343.66 L343.60,343.70 L344.08,343.74 L344.55,343.78 L345.03,343.82 L345.51,343.86 L345.98,343.90 L346.46,343.94 L346.94,343.98 L347.41,344.01 L347.89,344.05 L348.37,344.09 L348.84,344.12 L349.32,344.16 L349.80,344.19 L350.27,344.23 L350.75,344.26 L351.23,344.29 L351.70,344.33 L352.18,344.36 L352.66,344.39 L353.13,344.42 L353.61,344.46 L354.09,344.49 L354.56,344.52 L355.04,344.55 L355.52,344.58 L355.99,344.61 L356.47,344.64 L356.94,344.67 L357.42,344.70 L357.90,344.73 L358.37,344.76 L358.85,344.79 L359.33,344.81 L359.80,344.84 L360.28,344.87 L360.76,344.90 L361.23,344.93 L361.71,344.96 L362.19,344.98 L362.66,345.01 L363.14,345.04 L363.62,345.07 L364.09,345.09 L364.57,345.12 L365.05,345.15 L365.52,345.18 L366.00,345.20" stroke="#ff0000"/><path d="M223.50,344.81 L223.98,344.66 L224.45,344.51 L224.93,344.36 L225.41,344.21 L225.88,344.06 L226.36,343.91 L226.84,343.76 L227.31,343.61 L227.79,343.45 L228.27,343.29 L228.74,343.13 L229.22,342.97 L229.70,342.80 L230.17,342.63 L230.65,342.44 L231.13,342.25 L231.60,342.05 L232.08,341.84 L232.56,341.62 L233.03,341.38 L233.51,341.13 L233.98,340.86 L234.46,340.58 L234.94,340.28 L235.41,339.96 L235.89,339.61 L236.37,339.25 L236.84,338.87 L237.32,338.48 L237.80,338.06 L238.27,337.63 L238.75,337.19 L239.23,336.73 L239.70,336.26 L240.18,335.78 L240.66,335.29 L241.13,334.79 L241.61,334.28 L242.09,333.77 L242.56,333.24 L243.04,332.71 L243.52,332.16 L243.99,331.61 L244.47,331.05 L244.95,330.49 L245.42,329.91 L245.90,329.33 L246.38,328.74 L246.85,328.14 L247.33,327.53 L247.81,326.92 L248.28,326.29 L248.76,325.66 L249.24,325.02 L249.71,324.37 L250.19,323.71 L250.67,323.04 L251.14,322.36 L251.62,321.66 L252.10,320.96 L252.57,320.24 L253.05,319.51 L253.53,318.78 L254.00,318.04 L254.48,317.29 L254.95,316.55 L255.43,315.81 L255.91,315.08 L256.38,314.35 L256.86,313.63 L257.34,312.93 L257.81,312.24 L258.29,311.57 L258.77,310.91 L259.24,310.28 L259.72,309.68 L260.20,309.10 L260.67,308.55 L261.15,308.03 L261.63,307.55 L262.10,307.11 L262.58,306.70 L263.06,306.34 L263.53,306.02 L264.01,305.74 L264.49,305.52 L264.96,305.34 L265.44,305.20 L265.92,305.11 L266.39,305.06 L266.87,305.05 L267.35,305.09 L267.82,305.16 L268.30,305.28 L268.78,305.44 L269.25,305.64 L269.73,305.88 L270.21,306.16 L270.68,306.48 L271.16,306.84 L271.64,307.24 L272.11,307.67 L272.59,308.15 L273.07,308.65 L273.54,309.19 L274.02,309.76 L274.49,310.36 L274.97,310.98 L275.45,311.62 L275.92,312.29 L276.40,312.98 L276.88,313.68 L277.35,314.40 L277.83,315.12 L278.31,315.85 L278.78,316.58 L279.26,317.32 L279.74,318.05 L280.21,318.79 L280.69,319.53 L281.17,320.28 L281.64,321.02 L282.12,321.77 L282.60,322.52 L283.07,323.27 L283.55,324.02 L284.03,324.77 L284.50,325.52 L284.98,326.25 L285.46,326.98 L285.93,327.69 L286.41,328.38 L286.89,329.06 L287.36,329.72 L287.84,330.35 L288.32,330.97 L288.79,331.57 L289.27,332.15 L289.75,332.71 L290.22,333.25 L290.70,333.77 L291.18,334.27 L291.65,334.74 L292.13,335.20 L292.61,335.63 L293.08,336.04 L293.56,336.42 L294.04,336.78 L294.51,337.12 L294.99,337.43 L295.46,337.71 L295.94,337.96 L296.42,338.19 L296.89,338.39 L297.37,338.56 L297.85,338.71 L298.32,338.83 L298.80,338.94 L299.28,339.03 L299.75,339.11 L300.23,339.18 L300.71,339.23 L301.18,339.27 L301.66,339.31 L302.14,339.35 L302.61,339.38 L303.09,339.41 L303.57,339.44 L304.04,339.47 L304.52,339.49 L305.00,339.52 L305.47,339.54 L305.95,339.56 L306.43,339.59 L306.90,339.61 L307.38,339.64 L307.86,339.66 L308.33,339.69 L308.81,339.72 L309.29,339.75 L309.76,339.78 L310.24,339.82 L310.72,339.86 L311.19,339.90 L311.67,339.94 L312.15,339.99 L312.62,340.04 L313.10,340.09 L313.58,340.15 L314.05,340.21 L314.53,340.27 L315.01,340.33 L315.48,340.40 L315.96,340.46 L316.43,340.53 L316.91,340.60 L317.39,340.67 L317.86,340.75 L318.34,340.82 L318.82,340.90 L319.29,340.98 L319.77,341.05 L320.25,341.13 L320.72,341.21 L321.20,341.30 L321.68,341.38 L322.15,341.46 L322.63,341.54 L323.11,341.63 L323.58,341.71 L324.06,341.79 L324.54,341.88 L325.01,341.96 L325.49,342.04 L325.97,342.12 L326.44,342.20 L326.92,342.28 L327.40,342.36 L327.87,342.44 L328.35,342.51 L328.83,342.59 L329.30,342.66 L329.78,342.73 L330.26,342.80 L330.73,342.87 L331.21,342.93 L331.69,343.00 L332.16,343.06 L332.64,343.12 L333.12,343.17 L333.59,343.23 L334.07,343.29 L334.55,343.34 L335.02,343.39 L335.50,343.44 L335.97,343.49 L336.45,343.54 L336.93,343.58 L337.40,343.63 L337.88,343.67 L338.36,343.72 L338.83,343.76 L339.31,343.80 L339.79,343.84 L340.26,343.87 L340.74,343.91 L341.22,343.95 L341.69,343.98 L342.17,344.02 L342.65,344.05 L343.12,344.08 L343.60,344.11 L344.08,344.14 L344.55,344.17 L345.03,344.20 L345.51,344.23 L345.98,344.26 L346.46,344.29 L346.94,344.31 L347.41,344.34 L347.89,344.36 L348.37,344.39 L348.84,344.41 L349.32,344.44 L349.80,344.46 L350.27,344.48 L350.75,344.50 L351.23,344.52 L351.70,344.54 L352.18,344.56 L352.66,344.58 L353.13,344.60 L353.61,344.62 L354.09,344.64 L354.56,344.66 L355.04,344.67 L355.52,344.69 L355.99,344.71 L356.47,344.72 L356.94,344.74 L357.42,344.76 L357.90,344.77 L358.37,344.79 L358.85,344.80 L359.33,344.81 L359.80,344.83 L360.28,344.84 L360.76,344.86 L361.23,344.87 L361.71,344.88 L362.19,344.90 L362.66,344.91 L363.14,344.92 L363.62,344.94 L364.09,344.95 L364.57,344.96 L365.05,344.97 L365.52,344.99 L366.00,345.00" stroke="#00ff00"/><path d="M223.50,344.81 L223.98,344.63 L224.45,344.46 L224.93,344.29 L225.41,344.12 L225.88,343.94 L226.36,343.76 L226.84,343.59 L227.31,343.41 L227.79,343.22 L228.27,343.04 L228.74,342.85 L229.22,342.66 L229.70,342.47 L230.17,342.27 L230.65,342.07 L231.13,341.86 L231.60,341.65 L232.08,341.44 L232.56,341.22 L233.03,341.00 L233.51,340.77 L233.98,340.54 L234.46,340.30 L234.94,340.06 L235.41,339.82 L235.89,339.57 L236.37,339.31 L236.84,339.06 L237.32,338.80 L237.80,338.53 L238.27,338.26 L238.75,337.99 L239.23,337.71 L239.70,337.43 L240.18,337.14 L240.66,336.85 L241.13,336.56 L241.61,336.26 L242.09,335.96 L242.56,335.65 L243.04,335.34 L243.52,335.02 L243.99,334.70 L244.47,334.37 L244.95,334.04 L245.42,333.70 L245.90,333.36 L246.38,333.01 L246.85,332.65 L247.33,332.29 L247.81,331.92 L248.28,331.54 L248.76,331.16 L249.24,330.77 L249.71,330.37 L250.19,329.96 L250.67,329.55 L251.14,329.12 L251.62,328.69 L252.10,328.25 L252.57,327.80 L253.05,327.34 L253.53,326.88 L254.00,326.41 L254.48,325.93 L254.95,325.45 L255.43,324.97 L255.91,324.49 L256.38,324.01 L256.86,323.53 L257.34,323.06 L257.81,322.59 L258.29,322.13 L258.77,321.67 L259.24,321.22 L259.72,320.79 L260.20,320.36 L260.67,319.95 L261.15,319.55 L261.63,319.17 L262.10,318.80 L262.58,318.46 L263.06,318.13 L263.53,317.82 L264.01,317.53 L264.49,317.25 L264.96,317.00 L265.44,316.78 L265.92,316.57 L266.39,316.39 L266.87,316.23 L267.35,316.10 L267.82,315.99 L268.30,315.91 L268.78,315.86 L269.25,315.83 L269.73,315.83 L270.21,315.85 L270.68,315.90 L271.16,315.96 L271.64,316.05 L272.11,316.17 L272.59,316.30 L273.07,316.45 L273.54,316.63 L274.02,316.82 L274.49,317.03 L274.97,317.26 L275.45,317.51 L275.92,317.77 L276.40,318.05 L276.88,318.34 L277.35,318.64 L277.83,318.96 L278.31,319.28 L278.78,319.61 L279.26,319.95 L279.74,320.29 L280.21,320.64 L280.69,320.98 L281.17,321.33 L281.64,321.68 L282.12,322.02 L282.60,322.37 L283.07,322.71 L283.55,323.04 L284.03,323.38 L284.50,323.72 L284.98,324.05 L285.46,324.38 L285.93,324.71 L286.41,325.05 L286.89,325.38 L287.36,325.71 L287.84,326.04 L288.32,326.38 L288.79,326.71 L289.27,327.05 L289.75,327.39 L290.22,327.73 L290.70,328.07 L291.18,328.42 L291.65,328.77 L292.13,329.12 L292.61,329.47 L293.08,329.83 L293.56,330.19 L294.04,330.54 L294.51,330.90 L294.99,331.26 L295.46,331.62 L295.94,331.98 L296.42,332.34 L296.89,332.69 L297.37,333.05 L297.85,333.40 L298.32,333.74 L298.80,334.09 L299.28,334.43 L299.75,334.76 L300.23,335.10 L300.71,335.42 L301.18,335.74 L301.66,336.06 L302.14,336.36 L302.61,336.66 L303.09,336.96 L303.57,337.25 L304.04,337.53 L304.52,337.80 L305.00,338.07 L305.47,338.33 L305.95,338.59 L306.43,338.83 L306.90,339.07 L307.38,339.31 L307.86,339.54 L308.33,339.76 L308.81,339.97 L309.29,340.17 L309.76,340.37 L310.24,340.56 L310.72,340.75 L311.19,340.92 L311.67,341.09 L312.15,341.25 L312.62,341.41 L313.10,341.55 L313.58,341.70 L314.05,341.83 L314.53,341.96 L315.01,342.08 L315.48,342.19 L315.96,342.30 L316.43,342.41 L316.91,342.51 L317.39,342.60 L317.86,342.69 L318.34,342.78 L318.82,342.86 L319.29,342.94 L319.77,343.01 L320.25,343.08 L320.72,343.15 L321.20,343.21 L321.68,343.27 L322.15,343.33 L322.63,343.39 L323.11,343.44 L323.58,343.50 L324.06,343.55 L324.54,343.60 L325.01,343.64 L325.49,343.69 L325.97,343.74 L326.44,343.78 L326.92,343.83 L327.40,343.87 L327.87,343.91 L328.35,343.95 L328.83,343.99 L329.30,344.04 L329.78,344.07 L330.26,344.11 L330.73,344.15 L331.21,344.19 L331.69,344.22 L332.16,344.26 L332.64,344.29 L333.12,344.33 L333.59,344.36 L334.07,344.39 L334.55,344.43 L335.02,344.46 L335.50,344.49 L335.97,344.52 L336.45,344.55 L336.93,344.58 L337.40,344.60 L337.88,344.63 L338.36,344.66 L338.83,344.69 L339.31,344.71 L339.79,344.74 L340.26,344.76 L340.74,344.78 L341.22,344.81 L341.69,344.83 L342.17,344.85 L342.65,344.88 L343.12,344.90 L343.60,344.92 L344.08,344.94 L344.55,344.96 L345.03,344.98 L345.51,345.00 L345.98,345.02 L346.46,345.04 L346.94,345.06 L347.41,345.07 L347.89,345.09 L348.37,345.11 L348.84,345.13 L349.32,345.14 L349.80,345.16 L350.27,345.17 L350.75,345.19 L351.23,345.21 L351.70,345.22 L352.18,345.23 L352.66,345.25 L353.13,345.26 L353.61,345.28 L354.09,345.29 L354.56,345.30 L355.04,345.32 L355.52,345.33 L355.99,345.34 L356.47,345.36 L356.94,345.37 L357.42,345.38 L357.90,345.39 L358.37,345.40 L358.85,345.42 L359.33,345.43 L359.80,345.44 L360.28,345.45 L360.76,345.46 L361.23,345.47 L361.71,345.48 L362.19,345.49 L362.66,345.51 L363.14,345.52 L363.62,345.53 L364.09,345.54 L364.57,345.55 L365.05,345.56 L365.52,345.57 L366.00,345.58" stroke="#0000ff"/><path d="M223.50,345.97 L223.98,345.88 L224.45,345.79 L224.93,345.70 L225.41,345.61 L225.88,345.52 L226.36,345.43 L226.84,345.34 L227.31,345.25 L227.79,345.16 L228.27,345.07 L228.74,344.98 L229.22,344.89 L229.70,344.80 L230.17,344.71 L230.65,344.62 L231.13,344.53 L231.60,344.43 L232.08,344.34 L232.56,344.24 L233.03,344.15 L233.51,344.05 L233.98,343.95 L234.46,343.85 L234.94,343.75 L235.41,343.64 L235.89,343.53 L236.37,343.42 L236.84,343.31 L237.32,343.19 L237.80,343.07 L238.27,342.95 L238.75,342.82 L239.23,342.69 L239.70,342.56 L240.18,342.42 L240.66,342.28 L241.13,342.13 L241.61,341.99 L242.09,341.84 L242.56,341.68 L243.04,341.53 L243.52,341.37 L243.99,341.21 L244.47,341.05 L244.95,340.90 L245.42,340.74 L245.90,340.58 L246.38,340.42 L246.85,340.26 L247.33,340.10 L247.81,339.94 L248.28,339.78 L248.76,339.63 L249.24,339.48 L249.71,339.33 L250.19,339.18 L250.67,339.04 L251.14,338.90 L251.62,338.76 L252.10,338.63 L252.57,338.50 L253.05,338.37 L253.53,338.25 L254.00,338.14 L254.48,338.03 L254.95,337.93 L255.43,337.83 L255.91,337.73 L256.38,337.64 L256.86,337.56 L257.34,337.49 L257.81,337.42 L258.29,337.36 L258.77,337.30 L259.24,337.25 L259.72,337.21 L260.20,337.18 L260.67,337.16 L261.15,337.14 L261.63,337.13 L262.10,337.13 L262.58,337.14 L263.06,337.16 L263.53,337.18 L264.01,337.22 L264.49,337.26 L264.96,337.31 L265.44,337.36 L265.92,337.43 L266.39,337.49 L266.87,337.57 L267.35,337.65 L267.82,337.73 L268.30,337.82 L268.78,337.92 L269.25,338.01 L269.73,338.11 L270.21,338.22 L270.68,338.33 L271.16,338.44 L271.64,338.55 L272.11,338.66 L272.59,338.78 L273.07,338.90 L273.54,339.02 L274.02,339.14 L274.49,339.27 L274.97,339.40 L275.45,339.53 L275.92,339.67 L276.40,339.80 L276.88,339.94 L277.35,340.08 L277.83,340.23 L278.31,340.38 L278.78,340.53 L279.26,340.68 L279.74,340.84 L280.21,340.99 L280.69,341.15 L281.17,341.31 L281.64,341.47 L282.12,341.62 L282.60,341.78 L283.07,341.93 L283.55,342.08 L284.03,342.22 L284.50,342.36 L284.98,342.50 L285.46,342.63 L285.93,342.75 L286.41,342.87 L286.89,342.98 L287.36,343.09 L287.84,343.19 L288.32,343.29 L288.79,343.38 L289.27,343.47 L289.75,343.56 L290.22,343.64 L290.70,343.72 L291.18,343.80 L291.65,343.87 L292.13,343.94 L292.61,344.01 L293.08,344.08 L293.56,344.15 L294.04,344.21 L294.51,344.28 L294.99,344.34 L295.46,344.40 L295.94,344.47 L296.42,344.53 L296.89,344.60 L297.37,344.66 L297.85,344.73 L298.32,344.79 L298.80,344.86 L299.28,344.92 L299.75,344.99 L300.23,345.05 L300.71,345.11 L301.18,345.18 L301.66,345.24 L302.14,345.30 L302.61,345.36 L303.09,345.42 L303.57,345.48 L304.04,345.54 L304.52,345.60 L305.00,345.65 L305.47,345.70 L305.95,345.76 L306.43,345.81 L306.90,345.86 L307.38,345.91 L307.86,345.96 L308.33,346.00 L308.81,346.05 L309.29,346.09 L309.76,346.10 L310.24,346.10 L310.72,346.10 L311.19,346.10 L311.67,346.10 L312.15,346.10 L312.62,346.10 L313.10,346.10 L313.58,346.10 L314.05,346.10 L314.53,346.10 L315.01,346.10 L315.48,346.10 L315.96,346.10 L316.43,346.10 L316.91,346.10 L317.39,346.10 L317.86,346.10 L318.34,346.10 L318.82,346.10 L319.29,346.10 L319.77,346.10 L320.25,346.10 L320.72,346.10 L321.20,346.10 L321.68,346.10 L322.15,346.10 L322.63,346.10 L323.11,346.10 L323.58,346.10 L324.06,346.10 L324.54,346.10 L325.01,346.10 L325.49,346.10 L325.97,346.10 L326.44,346.10 L326.92,346.10 L327.40,346.10 L327.87,346.10 L328.35,346.10 L328.83,346.10 L329.30,346.10 L329.78,346.10 L330.26,346.10 L330.73,346.10 L331.21,346.10 L331.69,346.10 L332.16,346.10 L332.64,346.10 L333.12,346.10 L333.59,346.10 L334.07,346.10 L334.55,346.10 L335.02,346.10 L335.50,346.10 L335.97,346.10 L336.45,346.10 L336.93,346.10 L337.40,346.10 L337.88,346.10 L338.36,346.10 L338.83,346.10 L339.31,346.10 L339.79,346.10 L340.26,346.10 L340.74,346.10 L341.22,346.10 L341.69,346.10 L342.17,346.10 L342.65,346.10 L343.12,346.10 L343.60,346.10 L344.08,346.10 L344.55,346.10 L345.03,346.10 L345.51,346.10 L345.98,346.10 L346.46,346.10 L346.94,346.10 L347.41,346.10 L347.89,346.10 L348.37,346.10 L348.84,346.10 L349.32,346.10 L349.80,346.10 L350.27,346.10 L350.75,346.10 L351.23,346.10 L351.70,346.10 L352.18,346.10 L352.66,346.10 L353.13,346.10 L353.61,346.10 L354.09,346.10 L354.56,346.10 L355.04,346.10 L355.52,346.10 L355.99,346.10 L356.47,346.10 L356.94,346.10 L357.42,346.10 L357.90,346.10 L358.37,346.10 L358.85,346.10 L359.33,346.10 L359.80,346.07 L360.28,346.05 L360.76,346.02 L361.23,345.99 L361.71,345.97 L362.19,345.94 L362.66,345.92 L363.14,345.89 L363.62,345.87 L364.09,345.84 L364.57,345.81 L365.05,345.79 L365.52,345.76 L366.00,345.73" stroke="#800080"/></g><text x="330.65" y="212.60" class="pl" textLength="25.79" lengthAdjust="spacingAndGlyphs">(c)</text><rect x="390.0" y="187.5" width="142.5" height="161.89999999999998" fill="none" stroke="#d2d2d2" stroke-width="1"/><path d="M390.0,346.10h1.6M532.5,346.10h-1.6M390.0,338.90h1.6M532.5,338.90h-1.6M390.0,331.70h1.6M532.5,331.70h-1.6M390.0,324.50h1.6M532.5,324.50h-1.6M390.0,317.30h1.6M532.5,317.30h-1.6M390.0,310.10h1.6M532.5,310.10h-1.6M390.0,302.90h1.6M532.5,302.90h-1.6M390.0,295.70h1.6M532.5,295.70h-1.6M390.0,288.50h1.6M532.5,288.50h-1.6M390.0,281.30h1.6M532.5,281.30h-1.6M390.0,274.10h1.6M532.5,274.10h-1.6M390.0,266.90h1.6M532.5,266.90h-1.6M390.0,259.70h1.6M532.5,259.70h-1.6M390.0,252.50h1.6M532.5,252.50h-1.6M390.0,245.30h1.6M532.5,245.30h-1.6M390.0,238.10h1.6M532.5,238.10h-1.6M390.0,230.90h1.6M532.5,230.90h-1.6M390.0,223.70h1.6M532.5,223.70h-1.6M390.0,216.50h1.6M532.5,216.50h-1.6M390.0,209.30h1.6M532.5,209.30h-1.6M390.0,202.10h1.6M532.5,202.10h-1.6M390.0,194.90h1.6M532.5,194.90h-1.6M390.0,187.70h1.6M532.5,187.70h-1.6M397.00,187.5v1.6M404.10,187.5v1.6M411.20,187.5v1.6M418.30,187.5v1.6M425.40,187.5v1.6M432.50,187.5v1.6M439.60,187.5v1.6M446.70,187.5v1.6M453.80,187.5v1.6M460.90,187.5v1.6M468.00,187.5v1.6M475.10,187.5v1.6M482.20,187.5v1.6M489.30,187.5v1.6M496.40,187.5v1.6M503.50,187.5v1.6M510.60,187.5v1.6M517.70,187.5v1.6M524.80,187.5v1.6M399.60,349.4v-1.6M423.50,349.4v-1.6M447.40,349.4v-1.6M471.30,349.4v-1.6M495.20,349.4v-1.6M519.10,349.4v-1.6" stroke="#9a9a9a" stroke-width="0.9" fill="none"/><text x="386.90" y="349.80" text-anchor="end" class="tl" textLength="4.70" lengthAdjust="spacingAndGlyphs">0</text><text x="386.90" y="313.80" text-anchor="end" class="tl" textLength="4.70" lengthAdjust="spacingAndGlyphs">5</text><text x="386.90" y="277.80" text-anchor="end" class="tl" textLength="9.40" lengthAdjust="spacingAndGlyphs">10</text><text x="386.90" y="241.80" text-anchor="end" class="tl" textLength="9.40" lengthAdjust="spacingAndGlyphs">15</text><text x="386.90" y="205.80" text-anchor="end" class="tl" textLength="9.40" lengthAdjust="spacingAndGlyphs">20</text><g fill="none" stroke-width="3.2" stroke-linejoin="round" stroke-linecap="round"><path d="M390.00,343.00 L390.48,342.78 L390.95,342.56 L391.43,342.34 L391.91,342.10 L392.38,341.86 L392.86,341.59 L393.34,341.31 L393.81,341.01 L394.29,340.69 L394.77,340.33 L395.24,339.95 L395.72,339.53 L396.20,339.07 L396.67,338.58 L397.15,338.04 L397.63,337.46 L398.10,336.82 L398.58,336.14 L399.06,335.41 L399.53,334.62 L400.01,333.77 L400.48,332.86 L400.96,331.90 L401.44,330.87 L401.91,329.78 L402.39,328.63 L402.87,327.42 L403.34,326.14 L403.82,324.80 L404.30,323.39 L404.77,321.92 L405.25,320.38 L405.73,318.77 L406.20,317.10 L406.68,315.36 L407.16,313.56 L407.63,311.70 L408.11,309.78 L408.59,307.81 L409.06,305.79 L409.54,303.73 L410.02,301.63 L410.49,299.47 L410.97,297.26 L411.45,294.99 L411.92,292.66 L412.40,290.25 L412.88,287.78 L413.35,285.24 L413.83,282.64 L414.31,279.96 L414.78,277.22 L415.26,274.41 L415.74,271.54 L416.21,268.62 L416.69,265.65 L417.17,262.66 L417.64,259.64 L418.12,256.61 L418.60,253.59 L419.07,250.58 L419.55,247.61 L420.03,244.69 L420.50,241.83 L420.98,239.07 L421.45,236.41 L421.93,233.87 L422.41,231.45 L422.88,229.14 L423.36,226.91 L423.84,224.77 L424.31,222.68 L424.79,220.65 L425.27,218.65 L425.74,216.67 L426.22,214.71 L426.70,212.77 L427.17,210.86 L427.65,208.99 L428.13,207.18 L428.60,205.42 L429.08,203.74 L429.56,202.14 L430.03,200.63 L430.51,199.21 L430.99,197.89 L431.46,196.67 L431.94,195.56 L432.42,194.56 L432.89,193.66 L433.37,192.88 L433.85,192.22 L434.32,191.68 L434.80,191.26 L435.28,190.96 L435.75,190.80 L436.23,190.77 L436.71,190.86 L437.18,191.09 L437.66,191.45 L438.14,191.93 L438.61,192.54 L439.09,193.27 L439.57,194.12 L440.04,195.09 L440.52,196.17 L440.99,197.37 L441.47,198.68 L441.95,200.10 L442.42,201.62 L442.90,203.26 L443.38,204.99 L443.85,206.82 L444.33,208.75 L444.81,210.76 L445.28,212.85 L445.76,215.02 L446.24,217.27 L446.71,219.58 L447.19,221.96 L447.67,224.38 L448.14,226.83 L448.62,229.31 L449.10,231.79 L449.57,234.27 L450.05,236.73 L450.53,239.16 L451.00,241.57 L451.48,243.95 L451.96,246.30 L452.43,248.60 L452.91,250.87 L453.39,253.09 L453.86,255.27 L454.34,257.41 L454.82,259.51 L455.29,261.57 L455.77,263.61 L456.25,265.61 L456.72,267.59 L457.20,269.55 L457.68,271.48 L458.15,273.40 L458.63,275.31 L459.11,277.21 L459.58,279.10 L460.06,280.99 L460.54,282.87 L461.01,284.73 L461.49,286.58 L461.96,288.41 L462.44,290.20 L462.92,291.96 L463.39,293.68 L463.87,295.36 L464.35,296.98 L464.82,298.55 L465.30,300.08 L465.78,301.56 L466.25,302.99 L466.73,304.38 L467.21,305.73 L467.68,307.03 L468.16,308.30 L468.64,309.54 L469.11,310.74 L469.59,311.90 L470.07,313.03 L470.54,314.14 L471.02,315.21 L471.50,316.25 L471.97,317.26 L472.45,318.23 L472.93,319.18 L473.40,320.08 L473.88,320.96 L474.36,321.80 L474.83,322.60 L475.31,323.37 L475.79,324.11 L476.26,324.80 L476.74,325.46 L477.22,326.08 L477.69,326.67 L478.17,327.22 L478.65,327.73 L479.12,328.21 L479.60,328.67 L480.08,329.09 L480.55,329.49 L481.03,329.86 L481.51,330.21 L481.98,330.54 L482.46,330.85 L482.93,331.14 L483.41,331.42 L483.89,331.68 L484.36,331.93 L484.84,332.17 L485.32,332.40 L485.79,332.62 L486.27,332.84 L486.75,333.06 L487.22,333.27 L487.70,333.48 L488.18,333.68 L488.65,333.89 L489.13,334.08 L489.61,334.28 L490.08,334.47 L490.56,334.66 L491.04,334.84 L491.51,335.02 L491.99,335.20 L492.47,335.38 L492.94,335.55 L493.42,335.72 L493.90,335.89 L494.37,336.05 L494.85,336.22 L495.33,336.38 L495.80,336.53 L496.28,336.69 L496.76,336.84 L497.23,336.99 L497.71,337.14 L498.19,337.28 L498.66,337.43 L499.14,337.57 L499.62,337.71 L500.09,337.85 L500.57,337.98 L501.05,338.12 L501.52,338.25 L502.00,338.38 L502.47,338.51 L502.95,338.64 L503.43,338.76 L503.90,338.89 L504.38,339.01 L504.86,339.13 L505.33,339.25 L505.81,339.37 L506.29,339.49 L506.76,339.60 L507.24,339.71 L507.72,339.83 L508.19,339.94 L508.67,340.05 L509.15,340.16 L509.62,340.26 L510.10,340.37 L510.58,340.47 L511.05,340.58 L511.53,340.68 L512.01,340.78 L512.48,340.88 L512.96,340.98 L513.44,341.08 L513.91,341.17 L514.39,341.27 L514.87,341.36 L515.34,341.46 L515.82,341.55 L516.30,341.64 L516.77,341.74 L517.25,341.83 L517.73,341.92 L518.20,342.01 L518.68,342.10 L519.16,342.18 L519.63,342.27 L520.11,342.36 L520.59,342.45 L521.06,342.53 L521.54,342.62 L522.02,342.70 L522.49,342.79 L522.97,342.87 L523.44,342.95 L523.92,343.04 L524.40,343.12 L524.87,343.20 L525.35,343.28 L525.83,343.36 L526.30,343.44 L526.78,343.53 L527.26,343.61 L527.73,343.69 L528.21,343.77 L528.69,343.85 L529.16,343.93 L529.64,344.01 L530.12,344.08 L530.59,344.16 L531.07,344.24 L531.55,344.32 L532.02,344.40 L532.50,344.48" stroke="#0000ff"/><path d="M390.00,344.35 L390.48,344.16 L390.95,343.98 L391.43,343.79 L391.91,343.60 L392.38,343.40 L392.86,343.20 L393.34,343.00 L393.81,342.79 L394.29,342.57 L394.77,342.34 L395.24,342.11 L395.72,341.86 L396.20,341.61 L396.67,341.34 L397.15,341.06 L397.63,340.77 L398.10,340.47 L398.58,340.15 L399.06,339.81 L399.53,339.47 L400.01,339.11 L400.48,338.73 L400.96,338.35 L401.44,337.94 L401.91,337.53 L402.39,337.10 L402.87,336.66 L403.34,336.20 L403.82,335.73 L404.30,335.25 L404.77,334.75 L405.25,334.24 L405.73,333.71 L406.20,333.16 L406.68,332.60 L407.16,332.01 L407.63,331.41 L408.11,330.78 L408.59,330.13 L409.06,329.46 L409.54,328.76 L410.02,328.04 L410.49,327.29 L410.97,326.52 L411.45,325.71 L411.92,324.88 L412.40,324.02 L412.88,323.13 L413.35,322.22 L413.83,321.29 L414.31,320.35 L414.78,319.39 L415.26,318.43 L415.74,317.46 L416.21,316.49 L416.69,315.52 L417.17,314.56 L417.64,313.61 L418.12,312.67 L418.60,311.74 L419.07,310.82 L419.55,309.92 L420.03,309.04 L420.50,308.17 L420.98,307.33 L421.45,306.51 L421.93,305.71 L422.41,304.93 L422.88,304.18 L423.36,303.46 L423.84,302.77 L424.31,302.11 L424.79,301.48 L425.27,300.87 L425.74,300.30 L426.22,299.76 L426.70,299.25 L427.17,298.78 L427.65,298.34 L428.13,297.94 L428.60,297.57 L429.08,297.23 L429.56,296.94 L430.03,296.68 L430.51,296.46 L430.99,296.28 L431.46,296.14 L431.94,296.04 L432.42,295.98 L432.89,295.96 L433.37,295.98 L433.85,296.05 L434.32,296.16 L434.80,296.32 L435.28,296.51 L435.75,296.74 L436.23,297.01 L436.71,297.32 L437.18,297.67 L437.66,298.05 L438.14,298.47 L438.61,298.92 L439.09,299.40 L439.57,299.92 L440.04,300.47 L440.52,301.05 L440.99,301.65 L441.47,302.29 L441.95,302.96 L442.42,303.65 L442.90,304.36 L443.38,305.10 L443.85,305.85 L444.33,306.62 L444.81,307.41 L445.28,308.21 L445.76,309.02 L446.24,309.84 L446.71,310.66 L447.19,311.49 L447.67,312.32 L448.14,313.15 L448.62,313.99 L449.10,314.82 L449.57,315.67 L450.05,316.52 L450.53,317.37 L451.00,318.23 L451.48,319.09 L451.96,319.96 L452.43,320.84 L452.91,321.73 L453.39,322.63 L453.86,323.53 L454.34,324.44 L454.82,325.34 L455.29,326.23 L455.77,327.11 L456.25,327.96 L456.72,328.78 L457.20,329.57 L457.68,330.33 L458.15,331.06 L458.63,331.76 L459.11,332.42 L459.58,333.05 L460.06,333.65 L460.54,334.21 L461.01,334.74 L461.49,335.24 L461.96,335.71 L462.44,336.15 L462.92,336.57 L463.39,336.96 L463.87,337.33 L464.35,337.68 L464.82,338.00 L465.30,338.31 L465.78,338.59 L466.25,338.85 L466.73,339.09 L467.21,339.30 L467.68,339.49 L468.16,339.67 L468.64,339.81 L469.11,339.94 L469.59,340.04 L470.07,340.12 L470.54,340.19 L471.02,340.24 L471.50,340.27 L471.97,340.30 L472.45,340.32 L472.93,340.33 L473.40,340.33 L473.88,340.34 L474.36,340.34 L474.83,340.34 L475.31,340.35 L475.79,340.36 L476.26,340.36 L476.74,340.37 L477.22,340.39 L477.69,340.40 L478.17,340.42 L478.65,340.45 L479.12,340.47 L479.60,340.51 L480.08,340.55 L480.55,340.59 L481.03,340.64 L481.51,340.70 L481.98,340.76 L482.46,340.82 L482.93,340.89 L483.41,340.96 L483.89,341.03 L484.36,341.11 L484.84,341.20 L485.32,341.28 L485.79,341.37 L486.27,341.46 L486.75,341.55 L487.22,341.64 L487.70,341.74 L488.18,341.83 L488.65,341.93 L489.13,342.03 L489.61,342.12 L490.08,342.22 L490.56,342.32 L491.04,342.42 L491.51,342.51 L491.99,342.61 L492.47,342.70 L492.94,342.80 L493.42,342.89 L493.90,342.98 L494.37,343.06 L494.85,343.15 L495.33,343.23 L495.80,343.31 L496.28,343.38 L496.76,343.45 L497.23,343.52 L497.71,343.59 L498.19,343.65 L498.66,343.72 L499.14,343.78 L499.62,343.83 L500.09,343.89 L500.57,343.94 L501.05,343.99 L501.52,344.04 L502.00,344.09 L502.47,344.14 L502.95,344.18 L503.43,344.22 L503.90,344.27 L504.38,344.31 L504.86,344.35 L505.33,344.38 L505.81,344.42 L506.29,344.46 L506.76,344.49 L507.24,344.53 L507.72,344.56 L508.19,344.59 L508.67,344.63 L509.15,344.66 L509.62,344.69 L510.10,344.72 L510.58,344.75 L511.05,344.78 L511.53,344.81 L512.01,344.84 L512.48,344.87 L512.96,344.89 L513.44,344.92 L513.91,344.95 L514.39,344.97 L514.87,345.00 L515.34,345.02 L515.82,345.05 L516.30,345.07 L516.77,345.10 L517.25,345.12 L517.73,345.14 L518.20,345.17 L518.68,345.19 L519.16,345.21 L519.63,345.23 L520.11,345.25 L520.59,345.27 L521.06,345.29 L521.54,345.32 L522.02,345.34 L522.49,345.36 L522.97,345.38 L523.44,345.39 L523.92,345.41 L524.40,345.43 L524.87,345.45 L525.35,345.47 L525.83,345.49 L526.30,345.51 L526.78,345.52 L527.26,345.54 L527.73,345.56 L528.21,345.58 L528.69,345.60 L529.16,345.61 L529.64,345.63 L530.12,345.65 L530.59,345.66 L531.07,345.68 L531.55,345.70 L532.02,345.72 L532.50,345.73" stroke="#00ff00"/><path d="M390.00,345.05 L390.48,344.85 L390.95,344.66 L391.43,344.47 L391.91,344.27 L392.38,344.07 L392.86,343.88 L393.34,343.68 L393.81,343.48 L394.29,343.27 L394.77,343.07 L395.24,342.86 L395.72,342.64 L396.20,342.43 L396.67,342.21 L397.15,341.99 L397.63,341.76 L398.10,341.53 L398.58,341.29 L399.06,341.05 L399.53,340.80 L400.01,340.55 L400.48,340.29 L400.96,340.03 L401.44,339.76 L401.91,339.47 L402.39,339.18 L402.87,338.88 L403.34,338.56 L403.82,338.23 L404.30,337.89 L404.77,337.53 L405.25,337.15 L405.73,336.76 L406.20,336.35 L406.68,335.91 L407.16,335.46 L407.63,334.98 L408.11,334.49 L408.59,333.96 L409.06,333.41 L409.54,332.84 L410.02,332.24 L410.49,331.61 L410.97,330.95 L411.45,330.25 L411.92,329.53 L412.40,328.78 L412.88,327.99 L413.35,327.16 L413.83,326.30 L414.31,325.41 L414.78,324.47 L415.26,323.50 L415.74,322.49 L416.21,321.45 L416.69,320.38 L417.17,319.27 L417.64,318.14 L418.12,316.98 L418.60,315.79 L419.07,314.58 L419.55,313.35 L420.03,312.11 L420.50,310.88 L420.98,309.65 L421.45,308.44 L421.93,307.27 L422.41,306.14 L422.88,305.06 L423.36,304.05 L423.84,303.10 L424.31,302.21 L424.79,301.40 L425.27,300.66 L425.74,300.00 L426.22,299.42 L426.70,298.91 L427.17,298.49 L427.65,298.16 L428.13,297.92 L428.60,297.77 L429.08,297.71 L429.56,297.76 L430.03,297.90 L430.51,298.13 L430.99,298.46 L431.46,298.87 L431.94,299.37 L432.42,299.95 L432.89,300.61 L433.37,301.34 L433.85,302.14 L434.32,303.01 L434.80,303.94 L435.28,304.93 L435.75,305.97 L436.23,307.07 L436.71,308.22 L437.18,309.41 L437.66,310.64 L438.14,311.92 L438.61,313.23 L439.09,314.57 L439.57,315.92 L440.04,317.28 L440.52,318.64 L440.99,319.99 L441.47,321.33 L441.95,322.63 L442.42,323.89 L442.90,325.11 L443.38,326.27 L443.85,327.37 L444.33,328.39 L444.81,329.33 L445.28,330.18 L445.76,330.94 L446.24,331.60 L446.71,332.15 L447.19,332.58 L447.67,332.90 L448.14,333.09 L448.62,333.15 L449.10,333.07 L449.57,332.88 L450.05,332.59 L450.53,332.21 L451.00,331.75 L451.48,331.22 L451.96,330.64 L452.43,330.02 L452.91,329.37 L453.39,328.71 L453.86,328.04 L454.34,327.39 L454.82,326.76 L455.29,326.15 L455.77,325.59 L456.25,325.05 L456.72,324.55 L457.20,324.09 L457.68,323.67 L458.15,323.28 L458.63,322.94 L459.11,322.65 L459.58,322.40 L460.06,322.19 L460.54,322.04 L461.01,321.93 L461.49,321.88 L461.96,321.88 L462.44,321.94 L462.92,322.04 L463.39,322.20 L463.87,322.39 L464.35,322.63 L464.82,322.90 L465.30,323.21 L465.78,323.55 L466.25,323.92 L466.73,324.32 L467.21,324.73 L467.68,325.16 L468.16,325.61 L468.64,326.08 L469.11,326.55 L469.59,327.02 L470.07,327.50 L470.54,327.98 L471.02,328.46 L471.50,328.93 L471.97,329.39 L472.45,329.84 L472.93,330.27 L473.40,330.70 L473.88,331.11 L474.36,331.51 L474.83,331.91 L475.31,332.29 L475.79,332.66 L476.26,333.02 L476.74,333.36 L477.22,333.70 L477.69,334.03 L478.17,334.35 L478.65,334.66 L479.12,334.96 L479.60,335.24 L480.08,335.52 L480.55,335.79 L481.03,336.05 L481.51,336.30 L481.98,336.54 L482.46,336.77 L482.93,337.00 L483.41,337.21 L483.89,337.42 L484.36,337.61 L484.84,337.81 L485.32,337.99 L485.79,338.16 L486.27,338.33 L486.75,338.50 L487.22,338.65 L487.70,338.80 L488.18,338.94 L488.65,339.08 L489.13,339.21 L489.61,339.34 L490.08,339.46 L490.56,339.57 L491.04,339.69 L491.51,339.79 L491.99,339.90 L492.47,339.99 L492.94,340.09 L493.42,340.18 L493.90,340.27 L494.37,340.35 L494.85,340.44 L495.33,340.52 L495.80,340.59 L496.28,340.67 L496.76,340.74 L497.23,340.81 L497.71,340.88 L498.19,340.95 L498.66,341.02 L499.14,341.09 L499.62,341.16 L500.09,341.22 L500.57,341.29 L501.05,341.36 L501.52,341.42 L502.00,341.49 L502.47,341.55 L502.95,341.62 L503.43,341.68 L503.90,341.75 L504.38,341.81 L504.86,341.88 L505.33,341.94 L505.81,342.01 L506.29,342.07 L506.76,342.13 L507.24,342.20 L507.72,342.26 L508.19,342.32 L508.67,342.39 L509.15,342.45 L509.62,342.51 L510.10,342.57 L510.58,342.64 L511.05,342.70 L511.53,342.76 L512.01,342.82 L512.48,342.88 L512.96,342.94 L513.44,343.00 L513.91,343.06 L514.39,343.12 L514.87,343.19 L515.34,343.25 L515.82,343.31 L516.30,343.37 L516.77,343.43 L517.25,343.49 L517.73,343.55 L518.20,343.60 L518.68,343.66 L519.16,343.72 L519.63,343.78 L520.11,343.84 L520.59,343.90 L521.06,343.96 L521.54,344.02 L522.02,344.08 L522.49,344.14 L522.97,344.19 L523.44,344.25 L523.92,344.31 L524.40,344.37 L524.87,344.43 L525.35,344.49 L525.83,344.54 L526.30,344.60 L526.78,344.66 L527.26,344.72 L527.73,344.78 L528.21,344.83 L528.69,344.89 L529.16,344.95 L529.64,345.01 L530.12,345.06 L530.59,345.12 L531.07,345.18 L531.55,345.24 L532.02,345.30 L532.50,345.35" stroke="#800080"/><path d="M390.00,346.10 L390.48,346.04 L390.95,345.97 L391.43,345.90 L391.91,345.83 L392.38,345.76 L392.86,345.69 L393.34,345.62 L393.81,345.55 L394.29,345.47 L394.77,345.40 L395.24,345.32 L395.72,345.24 L396.20,345.16 L396.67,345.07 L397.15,344.99 L397.63,344.90 L398.10,344.81 L398.58,344.72 L399.06,344.62 L399.53,344.52 L400.01,344.42 L400.48,344.32 L400.96,344.21 L401.44,344.10 L401.91,343.98 L402.39,343.87 L402.87,343.75 L403.34,343.62 L403.82,343.50 L404.30,343.37 L404.77,343.23 L405.25,343.10 L405.73,342.96 L406.20,342.82 L406.68,342.67 L407.16,342.52 L407.63,342.37 L408.11,342.22 L408.59,342.06 L409.06,341.90 L409.54,341.74 L410.02,341.57 L410.49,341.41 L410.97,341.24 L411.45,341.07 L411.92,340.89 L412.40,340.72 L412.88,340.54 L413.35,340.37 L413.83,340.19 L414.31,340.01 L414.78,339.83 L415.26,339.64 L415.74,339.46 L416.21,339.28 L416.69,339.09 L417.17,338.91 L417.64,338.73 L418.12,338.55 L418.60,338.37 L419.07,338.20 L419.55,338.03 L420.03,337.86 L420.50,337.70 L420.98,337.55 L421.45,337.41 L421.93,337.27 L422.41,337.15 L422.88,337.03 L423.36,336.93 L423.84,336.84 L424.31,336.76 L424.79,336.69 L425.27,336.64 L425.74,336.61 L426.22,336.59 L426.70,336.59 L427.17,336.60 L427.65,336.63 L428.13,336.68 L428.60,336.75 L429.08,336.83 L429.56,336.92 L430.03,337.02 L430.51,337.14 L430.99,337.27 L431.46,337.41 L431.94,337.56 L432.42,337.72 L432.89,337.89 L433.37,338.06 L433.85,338.24 L434.32,338.43 L434.80,338.63 L435.28,338.82 L435.75,339.03 L436.23,339.23 L436.71,339.44 L437.18,339.65 L437.66,339.86 L438.14,340.07 L438.61,340.28 L439.09,340.49 L439.57,340.70 L440.04,340.90 L440.52,341.11 L440.99,341.31 L441.47,341.50 L441.95,341.69 L442.42,341.87 L442.90,342.05 L443.38,342.22 L443.85,342.38 L444.33,342.54 L444.81,342.69 L445.28,342.83 L445.76,342.96 L446.24,343.08 L446.71,343.19 L447.19,343.30 L447.67,343.39 L448.14,343.48 L448.62,343.56 L449.10,343.63 L449.57,343.69 L450.05,343.74 L450.53,343.79 L451.00,343.83 L451.48,343.87 L451.96,343.90 L452.43,343.92 L452.91,343.94 L453.39,343.96 L453.86,343.97 L454.34,343.98 L454.82,343.98 L455.29,343.98 L455.77,343.98 L456.25,343.98 L456.72,343.98 L457.20,343.98 L457.68,343.97 L458.15,343.97 L458.63,343.96 L459.11,343.96 L459.58,343.96 L460.06,343.96 L460.54,343.96 L461.01,343.96 L461.49,343.96 L461.96,343.97 L462.44,343.97 L462.92,343.98 L463.39,343.99 L463.87,344.00 L464.35,344.01 L464.82,344.02 L465.30,344.03 L465.78,344.04 L466.25,344.06 L466.73,344.07 L467.21,344.08 L467.68,344.10 L468.16,344.11 L468.64,344.13 L469.11,344.15 L469.59,344.16 L470.07,344.18 L470.54,344.20 L471.02,344.22 L471.50,344.23 L471.97,344.25 L472.45,344.27 L472.93,344.29 L473.40,344.31 L473.88,344.32 L474.36,344.34 L474.83,344.36 L475.31,344.38 L475.79,344.40 L476.26,344.41 L476.74,344.43 L477.22,344.45 L477.69,344.47 L478.17,344.49 L478.65,344.50 L479.12,344.52 L479.60,344.54 L480.08,344.55 L480.55,344.57 L481.03,344.59 L481.51,344.60 L481.98,344.62 L482.46,344.63 L482.93,344.65 L483.41,344.66 L483.89,344.68 L484.36,344.69 L484.84,344.71 L485.32,344.72 L485.79,344.73 L486.27,344.75 L486.75,344.76 L487.22,344.77 L487.70,344.78 L488.18,344.79 L488.65,344.80 L489.13,344.82 L489.61,344.83 L490.08,344.84 L490.56,344.85 L491.04,344.86 L491.51,344.87 L491.99,344.88 L492.47,344.88 L492.94,344.89 L493.42,344.90 L493.90,344.91 L494.37,344.92 L494.85,344.93 L495.33,344.94 L495.80,344.94 L496.28,344.95 L496.76,344.96 L497.23,344.97 L497.71,344.97 L498.19,344.98 L498.66,344.99 L499.14,344.99 L499.62,345.00 L500.09,345.01 L500.57,345.01 L501.05,345.02 L501.52,345.02 L502.00,345.03 L502.47,345.04 L502.95,345.04 L503.43,345.05 L503.90,345.05 L504.38,345.06 L504.86,345.07 L505.33,345.07 L505.81,345.08 L506.29,345.08 L506.76,345.09 L507.24,345.09 L507.72,345.10 L508.19,345.10 L508.67,345.11 L509.15,345.12 L509.62,345.12 L510.10,345.13 L510.58,345.13 L511.05,345.14 L511.53,345.14 L512.01,345.15 L512.48,345.15 L512.96,345.16 L513.44,345.16 L513.91,345.17 L514.39,345.18 L514.87,345.18 L515.34,345.19 L515.82,345.19 L516.30,345.20 L516.77,345.20 L517.25,345.21 L517.73,345.21 L518.20,345.22 L518.68,345.22 L519.16,345.23 L519.63,345.23 L520.11,345.24 L520.59,345.24 L521.06,345.25 L521.54,345.26 L522.02,345.26 L522.49,345.27 L522.97,345.27 L523.44,345.28 L523.92,345.28 L524.40,345.29 L524.87,345.29 L525.35,345.30 L525.83,345.30 L526.30,345.31 L526.78,345.31 L527.26,345.32 L527.73,345.32 L528.21,345.33 L528.69,345.34 L529.16,345.34 L529.64,345.35 L530.12,345.35 L530.59,345.36 L531.07,345.36 L531.55,345.37 L532.02,345.37 L532.50,345.38" stroke="#ff0000"/></g><text x="495.52" y="212.60" class="pl" textLength="27.86" lengthAdjust="spacingAndGlyphs">(d)</text><rect x="223.5" y="355.0" width="142.5" height="151.5" fill="none" stroke="#d2d2d2" stroke-width="1"/><path d="M223.5,503.80h1.6M366.0,503.80h-1.6M223.5,497.22h1.6M366.0,497.22h-1.6M223.5,490.64h1.6M366.0,490.64h-1.6M223.5,484.06h1.6M366.0,484.06h-1.6M223.5,477.48h1.6M366.0,477.48h-1.6M223.5,470.90h1.6M366.0,470.90h-1.6M223.5,464.32h1.6M366.0,464.32h-1.6M223.5,457.74h1.6M366.0,457.74h-1.6M223.5,451.16h1.6M366.0,451.16h-1.6M223.5,444.58h1.6M366.0,444.58h-1.6M223.5,438.00h1.6M366.0,438.00h-1.6M223.5,431.42h1.6M366.0,431.42h-1.6M223.5,424.84h1.6M366.0,424.84h-1.6M223.5,418.26h1.6M366.0,418.26h-1.6M223.5,411.68h1.6M366.0,411.68h-1.6M223.5,405.10h1.6M366.0,405.10h-1.6M223.5,398.52h1.6M366.0,398.52h-1.6M223.5,391.94h1.6M366.0,391.94h-1.6M223.5,385.36h1.6M366.0,385.36h-1.6M223.5,378.78h1.6M366.0,378.78h-1.6M223.5,372.20h1.6M366.0,372.20h-1.6M223.5,365.62h1.6M366.0,365.62h-1.6M223.5,359.04h1.6M366.0,359.04h-1.6M230.50,355.0v1.6M237.60,355.0v1.6M244.70,355.0v1.6M251.80,355.0v1.6M258.90,355.0v1.6M266.00,355.0v1.6M273.10,355.0v1.6M280.20,355.0v1.6M287.30,355.0v1.6M294.40,355.0v1.6M301.50,355.0v1.6M308.60,355.0v1.6M315.70,355.0v1.6M322.80,355.0v1.6M329.90,355.0v1.6M337.00,355.0v1.6M344.10,355.0v1.6M351.20,355.0v1.6M358.30,355.0v1.6M232.60,506.5v-1.6M256.50,506.5v-1.6M280.40,506.5v-1.6M304.30,506.5v-1.6M328.20,506.5v-1.6M352.10,506.5v-1.6" stroke="#9a9a9a" stroke-width="0.9" fill="none"/><text x="220.40" y="507.50" text-anchor="end" class="tl" textLength="4.70" lengthAdjust="spacingAndGlyphs">0</text><text x="220.40" y="474.60" text-anchor="end" class="tl" textLength="9.40" lengthAdjust="spacingAndGlyphs">10</text><text x="220.40" y="441.70" text-anchor="end" class="tl" textLength="9.40" lengthAdjust="spacingAndGlyphs">20</text><text x="220.40" y="408.80" text-anchor="end" class="tl" textLength="9.40" lengthAdjust="spacingAndGlyphs">30</text><text x="220.40" y="375.90" text-anchor="end" class="tl" textLength="9.40" lengthAdjust="spacingAndGlyphs">40</text><text x="232.60" y="517.10" text-anchor="middle" class="tl" textLength="4.7" lengthAdjust="spacingAndGlyphs">1</text><text x="256.50" y="517.10" text-anchor="middle" class="tl" textLength="4.7" lengthAdjust="spacingAndGlyphs">2</text><text x="280.40" y="517.10" text-anchor="middle" class="tl" textLength="4.7" lengthAdjust="spacingAndGlyphs">3</text><text x="304.30" y="517.10" text-anchor="middle" class="tl" textLength="4.7" lengthAdjust="spacingAndGlyphs">4</text><text x="328.20" y="517.10" text-anchor="middle" class="tl" textLength="4.7" lengthAdjust="spacingAndGlyphs">5</text><text x="352.10" y="517.10" text-anchor="middle" class="tl" textLength="4.7" lengthAdjust="spacingAndGlyphs">6</text><g fill="none" stroke-width="3.2" stroke-linejoin="round" stroke-linecap="round"><path d="M223.50,500.86 L223.98,500.60 L224.45,500.32 L224.93,500.03 L225.41,499.71 L225.88,499.36 L226.36,498.99 L226.84,498.60 L227.31,498.18 L227.79,497.74 L228.27,497.26 L228.74,496.76 L229.22,496.23 L229.70,495.67 L230.17,495.08 L230.65,494.44 L231.13,493.77 L231.60,493.04 L232.08,492.26 L232.56,491.42 L233.03,490.51 L233.51,489.53 L233.98,488.48 L234.46,487.36 L234.94,486.18 L235.41,484.94 L235.89,483.65 L236.37,482.30 L236.84,480.91 L237.32,479.48 L237.80,478.01 L238.27,476.50 L238.75,474.93 L239.23,473.31 L239.70,471.61 L240.18,469.84 L240.66,467.98 L241.13,466.02 L241.61,463.96 L242.09,461.78 L242.56,459.49 L243.04,457.08 L243.52,454.56 L243.99,451.93 L244.47,449.20 L244.95,446.37 L245.42,443.44 L245.90,440.44 L246.38,437.39 L246.85,434.28 L247.33,431.15 L247.81,428.01 L248.28,424.87 L248.76,421.75 L249.24,418.66 L249.71,415.62 L250.19,412.63 L250.67,409.70 L251.14,406.80 L251.62,403.93 L252.10,401.09 L252.57,398.27 L253.05,395.46 L253.53,392.68 L254.00,389.97 L254.48,387.33 L254.95,384.78 L255.43,382.35 L255.91,380.04 L256.38,377.83 L256.86,375.75 L257.34,373.78 L257.81,371.93 L258.29,370.19 L258.77,368.58 L259.24,367.08 L259.72,365.70 L260.20,364.45 L260.67,363.31 L261.15,362.28 L261.63,361.38 L262.10,360.59 L262.58,359.91 L263.06,359.35 L263.53,358.91 L264.01,358.58 L264.49,358.36 L264.96,358.26 L265.44,358.27 L265.92,358.40 L266.39,358.64 L266.87,359.00 L267.35,359.49 L267.82,360.10 L268.30,360.84 L268.78,361.71 L269.25,362.71 L269.73,363.85 L270.21,365.12 L270.68,366.53 L271.16,368.09 L271.64,369.79 L272.11,371.63 L272.59,373.60 L273.07,375.68 L273.54,377.88 L274.02,380.16 L274.49,382.53 L274.97,384.95 L275.45,387.43 L275.92,389.96 L276.40,392.51 L276.88,395.09 L277.35,397.67 L277.83,400.26 L278.31,402.84 L278.78,405.40 L279.26,407.95 L279.74,410.47 L280.21,412.97 L280.69,415.44 L281.17,417.87 L281.64,420.28 L282.12,422.67 L282.60,425.05 L283.07,427.42 L283.55,429.80 L284.03,432.20 L284.50,434.61 L284.98,437.02 L285.46,439.42 L285.93,441.79 L286.41,444.12 L286.89,446.39 L287.36,448.57 L287.84,450.67 L288.32,452.69 L288.79,454.61 L289.27,456.46 L289.75,458.24 L290.22,459.94 L290.70,461.58 L291.18,463.15 L291.65,464.66 L292.13,466.12 L292.61,467.51 L293.08,468.86 L293.56,470.16 L294.04,471.40 L294.51,472.60 L294.99,473.75 L295.46,474.86 L295.94,475.93 L296.42,476.96 L296.89,477.95 L297.37,478.90 L297.85,479.82 L298.32,480.71 L298.80,481.56 L299.28,482.38 L299.75,483.16 L300.23,483.90 L300.71,484.60 L301.18,485.27 L301.66,485.90 L302.14,486.50 L302.61,487.06 L303.09,487.59 L303.57,488.10 L304.04,488.58 L304.52,489.03 L305.00,489.46 L305.47,489.87 L305.95,490.26 L306.43,490.64 L306.90,491.00 L307.38,491.35 L307.86,491.68 L308.33,492.01 L308.81,492.34 L309.29,492.65 L309.76,492.96 L310.24,493.26 L310.72,493.56 L311.19,493.85 L311.67,494.13 L312.15,494.41 L312.62,494.68 L313.10,494.94 L313.58,495.20 L314.05,495.45 L314.53,495.69 L315.01,495.93 L315.48,496.16 L315.96,496.38 L316.43,496.60 L316.91,496.80 L317.39,497.01 L317.86,497.20 L318.34,497.39 L318.82,497.56 L319.29,497.74 L319.77,497.90 L320.25,498.06 L320.72,498.21 L321.20,498.36 L321.68,498.50 L322.15,498.63 L322.63,498.76 L323.11,498.88 L323.58,499.00 L324.06,499.11 L324.54,499.22 L325.01,499.32 L325.49,499.42 L325.97,499.52 L326.44,499.61 L326.92,499.69 L327.40,499.77 L327.87,499.85 L328.35,499.93 L328.83,500.00 L329.30,500.07 L329.78,500.14 L330.26,500.20 L330.73,500.27 L331.21,500.33 L331.69,500.38 L332.16,500.44 L332.64,500.50 L333.12,500.55 L333.59,500.60 L334.07,500.66 L334.55,500.71 L335.02,500.76 L335.50,500.81 L335.97,500.86 L336.45,500.91 L336.93,500.95 L337.40,501.00 L337.88,501.05 L338.36,501.09 L338.83,501.14 L339.31,501.18 L339.79,501.23 L340.26,501.27 L340.74,501.31 L341.22,501.35 L341.69,501.39 L342.17,501.44 L342.65,501.48 L343.12,501.51 L343.60,501.55 L344.08,501.59 L344.55,501.63 L345.03,501.67 L345.51,501.70 L345.98,501.74 L346.46,501.77 L346.94,501.81 L347.41,501.84 L347.89,501.88 L348.37,501.91 L348.84,501.95 L349.32,501.98 L349.80,502.01 L350.27,502.04 L350.75,502.08 L351.23,502.11 L351.70,502.14 L352.18,502.17 L352.66,502.20 L353.13,502.23 L353.61,502.26 L354.09,502.29 L354.56,502.32 L355.04,502.35 L355.52,502.37 L355.99,502.40 L356.47,502.43 L356.94,502.46 L357.42,502.49 L357.90,502.51 L358.37,502.54 L358.85,502.57 L359.33,502.60 L359.80,502.62 L360.28,502.65 L360.76,502.67 L361.23,502.70 L361.71,502.73 L362.19,502.75 L362.66,502.78 L363.14,502.81 L363.62,502.83 L364.09,502.86 L364.57,502.88 L365.05,502.91 L365.52,502.93 L366.00,502.96" stroke="#ff0000"/><path d="M223.50,502.60 L223.98,502.47 L224.45,502.33 L224.93,502.19 L225.41,502.05 L225.88,501.91 L226.36,501.78 L226.84,501.64 L227.31,501.50 L227.79,501.36 L228.27,501.22 L228.74,501.07 L229.22,500.93 L229.70,500.78 L230.17,500.62 L230.65,500.46 L231.13,500.30 L231.60,500.12 L232.08,499.93 L232.56,499.74 L233.03,499.53 L233.51,499.31 L233.98,499.07 L234.46,498.82 L234.94,498.55 L235.41,498.27 L235.89,497.97 L236.37,497.64 L236.84,497.30 L237.32,496.94 L237.80,496.57 L238.27,496.18 L238.75,495.78 L239.23,495.36 L239.70,494.93 L240.18,494.49 L240.66,494.04 L241.13,493.59 L241.61,493.12 L242.09,492.65 L242.56,492.17 L243.04,491.68 L243.52,491.18 L243.99,490.68 L244.47,490.16 L244.95,489.64 L245.42,489.12 L245.90,488.58 L246.38,488.04 L246.85,487.49 L247.33,486.93 L247.81,486.37 L248.28,485.80 L248.76,485.22 L249.24,484.63 L249.71,484.03 L250.19,483.43 L250.67,482.81 L251.14,482.19 L251.62,481.55 L252.10,480.91 L252.57,480.25 L253.05,479.58 L253.53,478.90 L254.00,478.22 L254.48,477.54 L254.95,476.85 L255.43,476.17 L255.91,475.49 L256.38,474.81 L256.86,474.14 L257.34,473.49 L257.81,472.84 L258.29,472.21 L258.77,471.60 L259.24,471.01 L259.72,470.44 L260.20,469.89 L260.67,469.37 L261.15,468.88 L261.63,468.42 L262.10,467.99 L262.58,467.59 L263.06,467.24 L263.53,466.92 L264.01,466.65 L264.49,466.42 L264.96,466.23 L265.44,466.08 L265.92,465.98 L266.39,465.91 L266.87,465.89 L267.35,465.90 L267.82,465.95 L268.30,466.04 L268.78,466.17 L269.25,466.33 L269.73,466.53 L270.21,466.77 L270.68,467.05 L271.16,467.36 L271.64,467.72 L272.11,468.10 L272.59,468.52 L273.07,468.97 L273.54,469.46 L274.02,469.97 L274.49,470.51 L274.97,471.07 L275.45,471.66 L275.92,472.26 L276.40,472.89 L276.88,473.53 L277.35,474.19 L277.83,474.85 L278.31,475.52 L278.78,476.20 L279.26,476.87 L279.74,477.55 L280.21,478.24 L280.69,478.92 L281.17,479.60 L281.64,480.29 L282.12,480.98 L282.60,481.67 L283.07,482.37 L283.55,483.06 L284.03,483.75 L284.50,484.44 L284.98,485.13 L285.46,485.81 L285.93,486.47 L286.41,487.12 L286.89,487.75 L287.36,488.37 L287.84,488.96 L288.32,489.54 L288.79,490.11 L289.27,490.65 L289.75,491.18 L290.22,491.68 L290.70,492.17 L291.18,492.64 L291.65,493.09 L292.13,493.52 L292.61,493.93 L293.08,494.32 L293.56,494.69 L294.04,495.03 L294.51,495.35 L294.99,495.65 L295.46,495.92 L295.94,496.17 L296.42,496.39 L296.89,496.59 L297.37,496.76 L297.85,496.90 L298.32,497.03 L298.80,497.14 L299.28,497.23 L299.75,497.31 L300.23,497.38 L300.71,497.43 L301.18,497.48 L301.66,497.51 L302.14,497.55 L302.61,497.58 L303.09,497.61 L303.57,497.64 L304.04,497.66 L304.52,497.69 L305.00,497.71 L305.47,497.73 L305.95,497.75 L306.43,497.77 L306.90,497.80 L307.38,497.82 L307.86,497.84 L308.33,497.87 L308.81,497.89 L309.29,497.92 L309.76,497.95 L310.24,497.98 L310.72,498.02 L311.19,498.05 L311.67,498.09 L312.15,498.14 L312.62,498.18 L313.10,498.23 L313.58,498.28 L314.05,498.33 L314.53,498.39 L315.01,498.44 L315.48,498.50 L315.96,498.56 L316.43,498.62 L316.91,498.69 L317.39,498.75 L317.86,498.82 L318.34,498.89 L318.82,498.96 L319.29,499.03 L319.77,499.10 L320.25,499.18 L320.72,499.25 L321.20,499.33 L321.68,499.40 L322.15,499.48 L322.63,499.55 L323.11,499.63 L323.58,499.71 L324.06,499.79 L324.54,499.86 L325.01,499.94 L325.49,500.01 L325.97,500.09 L326.44,500.16 L326.92,500.24 L327.40,500.31 L327.87,500.38 L328.35,500.45 L328.83,500.52 L329.30,500.59 L329.78,500.66 L330.26,500.72 L330.73,500.78 L331.21,500.84 L331.69,500.90 L332.16,500.96 L332.64,501.02 L333.12,501.07 L333.59,501.12 L334.07,501.18 L334.55,501.23 L335.02,501.27 L335.50,501.32 L335.97,501.37 L336.45,501.41 L336.93,501.46 L337.40,501.50 L337.88,501.54 L338.36,501.58 L338.83,501.62 L339.31,501.66 L339.79,501.69 L340.26,501.73 L340.74,501.76 L341.22,501.80 L341.69,501.83 L342.17,501.86 L342.65,501.89 L343.12,501.92 L343.60,501.95 L344.08,501.98 L344.55,502.01 L345.03,502.03 L345.51,502.06 L345.98,502.09 L346.46,502.11 L346.94,502.14 L347.41,502.16 L347.89,502.18 L348.37,502.21 L348.84,502.23 L349.32,502.25 L349.80,502.27 L350.27,502.29 L350.75,502.31 L351.23,502.33 L351.70,502.35 L352.18,502.37 L352.66,502.39 L353.13,502.41 L353.61,502.43 L354.09,502.44 L354.56,502.46 L355.04,502.48 L355.52,502.49 L355.99,502.51 L356.47,502.52 L356.94,502.54 L357.42,502.55 L357.90,502.57 L358.37,502.58 L358.85,502.59 L359.33,502.61 L359.80,502.62 L360.28,502.63 L360.76,502.65 L361.23,502.66 L361.71,502.67 L362.19,502.68 L362.66,502.69 L363.14,502.71 L363.62,502.72 L364.09,502.73 L364.57,502.74 L365.05,502.75 L365.52,502.76 L366.00,502.78" stroke="#00ff00"/><path d="M223.50,503.31 L223.98,503.25 L224.45,503.18 L224.93,503.11 L225.41,503.05 L225.88,502.98 L226.36,502.91 L226.84,502.84 L227.31,502.76 L227.79,502.69 L228.27,502.61 L228.74,502.54 L229.22,502.46 L229.70,502.37 L230.17,502.29 L230.65,502.20 L231.13,502.11 L231.60,502.02 L232.08,501.93 L232.56,501.83 L233.03,501.73 L233.51,501.62 L233.98,501.52 L234.46,501.41 L234.94,501.29 L235.41,501.17 L235.89,501.05 L236.37,500.93 L236.84,500.80 L237.32,500.67 L237.80,500.53 L238.27,500.40 L238.75,500.25 L239.23,500.11 L239.70,499.96 L240.18,499.81 L240.66,499.65 L241.13,499.49 L241.61,499.33 L242.09,499.16 L242.56,498.99 L243.04,498.82 L243.52,498.65 L243.99,498.47 L244.47,498.28 L244.95,498.10 L245.42,497.91 L245.90,497.71 L246.38,497.51 L246.85,497.30 L247.33,497.08 L247.81,496.86 L248.28,496.62 L248.76,496.36 L249.24,496.10 L249.71,495.82 L250.19,495.53 L250.67,495.23 L251.14,494.92 L251.62,494.59 L252.10,494.26 L252.57,493.91 L253.05,493.55 L253.53,493.18 L254.00,492.80 L254.48,492.40 L254.95,492.00 L255.43,491.59 L255.91,491.17 L256.38,490.74 L256.86,490.30 L257.34,489.86 L257.81,489.41 L258.29,488.95 L258.77,488.50 L259.24,488.03 L259.72,487.57 L260.20,487.10 L260.67,486.63 L261.15,486.17 L261.63,485.71 L262.10,485.25 L262.58,484.81 L263.06,484.37 L263.53,483.95 L264.01,483.56 L264.49,483.18 L264.96,482.83 L265.44,482.50 L265.92,482.21 L266.39,481.94 L266.87,481.71 L267.35,481.51 L267.82,481.33 L268.30,481.17 L268.78,481.05 L269.25,480.94 L269.73,480.86 L270.21,480.79 L270.68,480.75 L271.16,480.73 L271.64,480.72 L272.11,480.73 L272.59,480.75 L273.07,480.79 L273.54,480.85 L274.02,480.92 L274.49,481.00 L274.97,481.10 L275.45,481.22 L275.92,481.36 L276.40,481.50 L276.88,481.67 L277.35,481.85 L277.83,482.05 L278.31,482.26 L278.78,482.48 L279.26,482.73 L279.74,482.98 L280.21,483.25 L280.69,483.53 L281.17,483.82 L281.64,484.12 L282.12,484.43 L282.60,484.75 L283.07,485.07 L283.55,485.40 L284.03,485.73 L284.50,486.07 L284.98,486.41 L285.46,486.76 L285.93,487.10 L286.41,487.45 L286.89,487.80 L287.36,488.14 L287.84,488.48 L288.32,488.82 L288.79,489.16 L289.27,489.49 L289.75,489.81 L290.22,490.14 L290.70,490.46 L291.18,490.77 L291.65,491.08 L292.13,491.39 L292.61,491.70 L293.08,492.00 L293.56,492.29 L294.04,492.59 L294.51,492.88 L294.99,493.16 L295.46,493.44 L295.94,493.72 L296.42,493.99 L296.89,494.26 L297.37,494.53 L297.85,494.79 L298.32,495.05 L298.80,495.30 L299.28,495.55 L299.75,495.80 L300.23,496.04 L300.71,496.28 L301.18,496.51 L301.66,496.74 L302.14,496.96 L302.61,497.18 L303.09,497.39 L303.57,497.60 L304.04,497.80 L304.52,498.00 L305.00,498.19 L305.47,498.37 L305.95,498.55 L306.43,498.73 L306.90,498.89 L307.38,499.06 L307.86,499.21 L308.33,499.36 L308.81,499.50 L309.29,499.64 L309.76,499.77 L310.24,499.89 L310.72,500.00 L311.19,500.11 L311.67,500.21 L312.15,500.31 L312.62,500.40 L313.10,500.48 L313.58,500.56 L314.05,500.64 L314.53,500.71 L315.01,500.77 L315.48,500.83 L315.96,500.89 L316.43,500.94 L316.91,500.99 L317.39,501.04 L317.86,501.09 L318.34,501.13 L318.82,501.17 L319.29,501.20 L319.77,501.24 L320.25,501.27 L320.72,501.31 L321.20,501.34 L321.68,501.37 L322.15,501.40 L322.63,501.43 L323.11,501.46 L323.58,501.49 L324.06,501.52 L324.54,501.55 L325.01,501.58 L325.49,501.61 L325.97,501.64 L326.44,501.66 L326.92,501.69 L327.40,501.72 L327.87,501.75 L328.35,501.77 L328.83,501.80 L329.30,501.82 L329.78,501.85 L330.26,501.87 L330.73,501.90 L331.21,501.92 L331.69,501.95 L332.16,501.97 L332.64,501.99 L333.12,502.02 L333.59,502.04 L334.07,502.06 L334.55,502.08 L335.02,502.11 L335.50,502.13 L335.97,502.15 L336.45,502.17 L336.93,502.19 L337.40,502.21 L337.88,502.23 L338.36,502.25 L338.83,502.27 L339.31,502.29 L339.79,502.31 L340.26,502.32 L340.74,502.34 L341.22,502.36 L341.69,502.38 L342.17,502.39 L342.65,502.41 L343.12,502.43 L343.60,502.44 L344.08,502.46 L344.55,502.47 L345.03,502.49 L345.51,502.50 L345.98,502.52 L346.46,502.53 L346.94,502.55 L347.41,502.56 L347.89,502.57 L348.37,502.59 L348.84,502.60 L349.32,502.61 L349.80,502.63 L350.27,502.64 L350.75,502.65 L351.23,502.66 L351.70,502.68 L352.18,502.69 L352.66,502.70 L353.13,502.71 L353.61,502.72 L354.09,502.73 L354.56,502.74 L355.04,502.76 L355.52,502.77 L355.99,502.78 L356.47,502.79 L356.94,502.80 L357.42,502.81 L357.90,502.82 L358.37,502.83 L358.85,502.84 L359.33,502.85 L359.80,502.86 L360.28,502.87 L360.76,502.88 L361.23,502.89 L361.71,502.90 L362.19,502.91 L362.66,502.92 L363.14,502.93 L363.62,502.94 L364.09,502.95 L364.57,502.95 L365.05,502.96 L365.52,502.97 L366.00,502.98" stroke="#0000ff"/><path d="M223.50,503.70 L223.98,503.62 L224.45,503.54 L224.93,503.47 L225.41,503.39 L225.88,503.31 L226.36,503.23 L226.84,503.15 L227.31,503.06 L227.79,502.98 L228.27,502.89 L228.74,502.80 L229.22,502.71 L229.70,502.62 L230.17,502.52 L230.65,502.42 L231.13,502.32 L231.60,502.21 L232.08,502.10 L232.56,501.99 L233.03,501.87 L233.51,501.75 L233.98,501.62 L234.46,501.50 L234.94,501.37 L235.41,501.23 L235.89,501.09 L236.37,500.95 L236.84,500.81 L237.32,500.66 L237.80,500.52 L238.27,500.36 L238.75,500.21 L239.23,500.05 L239.70,499.89 L240.18,499.73 L240.66,499.56 L241.13,499.39 L241.61,499.22 L242.09,499.04 L242.56,498.86 L243.04,498.68 L243.52,498.49 L243.99,498.29 L244.47,498.09 L244.95,497.88 L245.42,497.67 L245.90,497.45 L246.38,497.22 L246.85,496.99 L247.33,496.75 L247.81,496.51 L248.28,496.27 L248.76,496.02 L249.24,495.77 L249.71,495.52 L250.19,495.27 L250.67,495.01 L251.14,494.76 L251.62,494.51 L252.10,494.25 L252.57,494.00 L253.05,493.75 L253.53,493.50 L254.00,493.25 L254.48,493.01 L254.95,492.77 L255.43,492.54 L255.91,492.31 L256.38,492.08 L256.86,491.86 L257.34,491.65 L257.81,491.45 L258.29,491.26 L258.77,491.08 L259.24,490.91 L259.72,490.75 L260.20,490.60 L260.67,490.47 L261.15,490.35 L261.63,490.25 L262.10,490.16 L262.58,490.10 L263.06,490.05 L263.53,490.02 L264.01,490.01 L264.49,490.01 L264.96,490.04 L265.44,490.08 L265.92,490.14 L266.39,490.22 L266.87,490.31 L267.35,490.42 L267.82,490.54 L268.30,490.68 L268.78,490.83 L269.25,491.00 L269.73,491.17 L270.21,491.36 L270.68,491.56 L271.16,491.77 L271.64,492.00 L272.11,492.23 L272.59,492.47 L273.07,492.72 L273.54,492.97 L274.02,493.24 L274.49,493.51 L274.97,493.78 L275.45,494.07 L275.92,494.35 L276.40,494.64 L276.88,494.93 L277.35,495.23 L277.83,495.53 L278.31,495.82 L278.78,496.12 L279.26,496.42 L279.74,496.72 L280.21,497.02 L280.69,497.31 L281.17,497.60 L281.64,497.89 L282.12,498.17 L282.60,498.44 L283.07,498.72 L283.55,498.98 L284.03,499.23 L284.50,499.48 L284.98,499.72 L285.46,499.95 L285.93,500.16 L286.41,500.37 L286.89,500.57 L287.36,500.75 L287.84,500.93 L288.32,501.10 L288.79,501.26 L289.27,501.41 L289.75,501.56 L290.22,501.69 L290.70,501.82 L291.18,501.93 L291.65,502.05 L292.13,502.15 L292.61,502.24 L293.08,502.33 L293.56,502.42 L294.04,502.49 L294.51,502.56 L294.99,502.63 L295.46,502.69 L295.94,502.74 L296.42,502.79 L296.89,502.84 L297.37,502.88 L297.85,502.92 L298.32,502.96 L298.80,502.99 L299.28,503.02 L299.75,503.05 L300.23,503.07 L300.71,503.10 L301.18,503.12 L301.66,503.14 L302.14,503.16 L302.61,503.19 L303.09,503.21 L303.57,503.23 L304.04,503.25 L304.52,503.26 L305.00,503.28 L305.47,503.30 L305.95,503.32 L306.43,503.34 L306.90,503.35 L307.38,503.37 L307.86,503.39 L308.33,503.40 L308.81,503.42 L309.29,503.43 L309.76,503.45 L310.24,503.46 L310.72,503.47 L311.19,503.49 L311.67,503.50 L312.15,503.51 L312.62,503.52 L313.10,503.53 L313.58,503.55 L314.05,503.56 L314.53,503.57 L315.01,503.58 L315.48,503.59 L315.96,503.60 L316.43,503.60 L316.91,503.61 L317.39,503.62 L317.86,503.63 L318.34,503.64 L318.82,503.64 L319.29,503.65 L319.77,503.66 L320.25,503.66 L320.72,503.67 L321.20,503.67 L321.68,503.68 L322.15,503.68 L322.63,503.69 L323.11,503.69 L323.58,503.70 L324.06,503.70 L324.54,503.70 L325.01,503.71 L325.49,503.71 L325.97,503.71 L326.44,503.71 L326.92,503.71 L327.40,503.72 L327.87,503.72 L328.35,503.72 L328.83,503.72 L329.30,503.72 L329.78,503.72 L330.26,503.72 L330.73,503.72 L331.21,503.72 L331.69,503.72 L332.16,503.71 L332.64,503.71 L333.12,503.71 L333.59,503.71 L334.07,503.71 L334.55,503.70 L335.02,503.70 L335.50,503.70 L335.97,503.70 L336.45,503.69 L336.93,503.69 L337.40,503.69 L337.88,503.68 L338.36,503.68 L338.83,503.67 L339.31,503.67 L339.79,503.66 L340.26,503.66 L340.74,503.65 L341.22,503.65 L341.69,503.64 L342.17,503.64 L342.65,503.63 L343.12,503.62 L343.60,503.62 L344.08,503.61 L344.55,503.61 L345.03,503.60 L345.51,503.59 L345.98,503.58 L346.46,503.58 L346.94,503.57 L347.41,503.56 L347.89,503.56 L348.37,503.55 L348.84,503.54 L349.32,503.53 L349.80,503.52 L350.27,503.52 L350.75,503.51 L351.23,503.50 L351.70,503.49 L352.18,503.48 L352.66,503.47 L353.13,503.46 L353.61,503.46 L354.09,503.45 L354.56,503.44 L355.04,503.43 L355.52,503.42 L355.99,503.41 L356.47,503.40 L356.94,503.39 L357.42,503.38 L357.90,503.37 L358.37,503.36 L358.85,503.35 L359.33,503.34 L359.80,503.33 L360.28,503.32 L360.76,503.31 L361.23,503.30 L361.71,503.29 L362.19,503.28 L362.66,503.27 L363.14,503.26 L363.62,503.25 L364.09,503.24 L364.57,503.23 L365.05,503.22 L365.52,503.21 L366.00,503.20" stroke="#800080"/></g><text x="330.38" y="377.70" class="pl" textLength="25.14" lengthAdjust="spacingAndGlyphs">(e)</text><rect x="390.0" y="355.0" width="142.5" height="151.5" fill="none" stroke="#d2d2d2" stroke-width="1"/><path d="M390.0,503.80h1.6M532.5,503.80h-1.6M390.0,498.26h1.6M532.5,498.26h-1.6M390.0,492.73h1.6M532.5,492.73h-1.6M390.0,487.19h1.6M532.5,487.19h-1.6M390.0,481.66h1.6M532.5,481.66h-1.6M390.0,476.12h1.6M532.5,476.12h-1.6M390.0,470.59h1.6M532.5,470.59h-1.6M390.0,465.06h1.6M532.5,465.06h-1.6M390.0,459.52h1.6M532.5,459.52h-1.6M390.0,453.99h1.6M532.5,453.99h-1.6M390.0,448.45h1.6M532.5,448.45h-1.6M390.0,442.92h1.6M532.5,442.92h-1.6M390.0,437.38h1.6M532.5,437.38h-1.6M390.0,431.85h1.6M532.5,431.85h-1.6M390.0,426.31h1.6M532.5,426.31h-1.6M390.0,420.77h1.6M532.5,420.77h-1.6M390.0,415.24h1.6M532.5,415.24h-1.6M390.0,409.71h1.6M532.5,409.71h-1.6M390.0,404.17h1.6M532.5,404.17h-1.6M390.0,398.63h1.6M532.5,398.63h-1.6M390.0,393.10h1.6M532.5,393.10h-1.6M390.0,387.56h1.6M532.5,387.56h-1.6M390.0,382.03h1.6M532.5,382.03h-1.6M390.0,376.50h1.6M532.5,376.50h-1.6M390.0,370.96h1.6M532.5,370.96h-1.6M390.0,365.43h1.6M532.5,365.43h-1.6M390.0,359.89h1.6M532.5,359.89h-1.6M397.00,355.0v1.6M404.10,355.0v1.6M411.20,355.0v1.6M418.30,355.0v1.6M425.40,355.0v1.6M432.50,355.0v1.6M439.60,355.0v1.6M446.70,355.0v1.6M453.80,355.0v1.6M460.90,355.0v1.6M468.00,355.0v1.6M475.10,355.0v1.6M482.20,355.0v1.6M489.30,355.0v1.6M496.40,355.0v1.6M503.50,355.0v1.6M510.60,355.0v1.6M517.70,355.0v1.6M524.80,355.0v1.6M399.60,506.5v-1.6M423.50,506.5v-1.6M447.40,506.5v-1.6M471.30,506.5v-1.6M495.20,506.5v-1.6M519.10,506.5v-1.6" stroke="#9a9a9a" stroke-width="0.9" fill="none"/><text x="386.90" y="507.50" text-anchor="end" class="tl" textLength="4.70" lengthAdjust="spacingAndGlyphs">0</text><text x="386.90" y="485.36" text-anchor="end" class="tl" textLength="4.70" lengthAdjust="spacingAndGlyphs">2</text><text x="386.90" y="463.22" text-anchor="end" class="tl" textLength="4.70" lengthAdjust="spacingAndGlyphs">4</text><text x="386.90" y="441.08" text-anchor="end" class="tl" textLength="4.70" lengthAdjust="spacingAndGlyphs">6</text><text x="386.90" y="418.94" text-anchor="end" class="tl" textLength="4.70" lengthAdjust="spacingAndGlyphs">8</text><text x="386.90" y="396.80" text-anchor="end" class="tl" textLength="9.40" lengthAdjust="spacingAndGlyphs">10</text><text x="386.90" y="374.66" text-anchor="end" class="tl" textLength="9.40" lengthAdjust="spacingAndGlyphs">12</text><text x="399.60" y="517.10" text-anchor="middle" class="tl" textLength="4.7" lengthAdjust="spacingAndGlyphs">1</text><text x="423.50" y="517.10" text-anchor="middle" class="tl" textLength="4.7" lengthAdjust="spacingAndGlyphs">2</text><text x="447.40" y="517.10" text-anchor="middle" class="tl" textLength="4.7" lengthAdjust="spacingAndGlyphs">3</text><text x="471.30" y="517.10" text-anchor="middle" class="tl" textLength="4.7" lengthAdjust="spacingAndGlyphs">4</text><text x="495.20" y="517.10" text-anchor="middle" class="tl" textLength="4.7" lengthAdjust="spacingAndGlyphs">5</text><text x="519.10" y="517.10" text-anchor="middle" class="tl" textLength="4.7" lengthAdjust="spacingAndGlyphs">6</text><g fill="none" stroke-width="3.2" stroke-linejoin="round" stroke-linecap="round"><path d="M390.00,501.10 L390.48,500.80 L390.95,500.51 L391.43,500.21 L391.91,499.91 L392.38,499.60 L392.86,499.29 L393.34,498.98 L393.81,498.65 L394.29,498.32 L394.77,497.98 L395.24,497.62 L395.72,497.26 L396.20,496.88 L396.67,496.48 L397.15,496.06 L397.63,495.62 L398.10,495.16 L398.58,494.67 L399.06,494.16 L399.53,493.61 L400.01,493.03 L400.48,492.41 L400.96,491.76 L401.44,491.06 L401.91,490.32 L402.39,489.54 L402.87,488.70 L403.34,487.81 L403.82,486.85 L404.30,485.82 L404.77,484.72 L405.25,483.55 L405.73,482.29 L406.20,480.94 L406.68,479.51 L407.16,477.97 L407.63,476.35 L408.11,474.64 L408.59,472.85 L409.06,470.98 L409.54,469.04 L410.02,467.04 L410.49,464.97 L410.97,462.84 L411.45,460.66 L411.92,458.42 L412.40,456.15 L412.88,453.83 L413.35,451.48 L413.83,449.10 L414.31,446.69 L414.78,444.27 L415.26,441.82 L415.74,439.37 L416.21,436.91 L416.69,434.44 L417.17,431.98 L417.64,429.51 L418.12,427.04 L418.60,424.58 L419.07,422.11 L419.55,419.65 L420.03,417.18 L420.50,414.73 L420.98,412.30 L421.45,409.89 L421.93,407.51 L422.41,405.16 L422.88,402.86 L423.36,400.60 L423.84,398.40 L424.31,396.23 L424.79,394.12 L425.27,392.04 L425.74,390.01 L426.22,388.02 L426.70,386.08 L427.17,384.17 L427.65,382.30 L428.13,380.48 L428.60,378.70 L429.08,376.96 L429.56,375.28 L430.03,373.64 L430.51,372.05 L430.99,370.51 L431.46,369.03 L431.94,367.60 L432.42,366.23 L432.89,364.93 L433.37,363.71 L433.85,362.58 L434.32,361.55 L434.80,360.65 L435.28,359.86 L435.75,359.21 L436.23,358.68 L436.71,358.29 L437.18,358.04 L437.66,357.93 L438.14,357.96 L438.61,358.13 L439.09,358.44 L439.57,358.89 L440.04,359.47 L440.52,360.18 L440.99,361.01 L441.47,361.96 L441.95,363.03 L442.42,364.21 L442.90,365.49 L443.38,366.88 L443.85,368.36 L444.33,369.93 L444.81,371.60 L445.28,373.36 L445.76,375.21 L446.24,377.15 L446.71,379.18 L447.19,381.30 L447.67,383.50 L448.14,385.79 L448.62,388.16 L449.10,390.58 L449.57,393.07 L450.05,395.62 L450.53,398.20 L451.00,400.79 L451.48,403.38 L451.96,405.94 L452.43,408.45 L452.91,410.91 L453.39,413.30 L453.86,415.61 L454.34,417.84 L454.82,419.98 L455.29,422.03 L455.77,424.00 L456.25,425.92 L456.72,427.77 L457.20,429.60 L457.68,431.39 L458.15,433.16 L458.63,434.92 L459.11,436.68 L459.58,438.44 L460.06,440.21 L460.54,441.99 L461.01,443.79 L461.49,445.60 L461.96,447.44 L462.44,449.30 L462.92,451.17 L463.39,453.05 L463.87,454.94 L464.35,456.82 L464.82,458.68 L465.30,460.51 L465.78,462.28 L466.25,464.00 L466.73,465.63 L467.21,467.17 L467.68,468.63 L468.16,470.00 L468.64,471.30 L469.11,472.52 L469.59,473.66 L470.07,474.73 L470.54,475.73 L471.02,476.67 L471.50,477.54 L471.97,478.35 L472.45,479.11 L472.93,479.81 L473.40,480.46 L473.88,481.07 L474.36,481.63 L474.83,482.16 L475.31,482.65 L475.79,483.12 L476.26,483.55 L476.74,483.97 L477.22,484.36 L477.69,484.74 L478.17,485.11 L478.65,485.46 L479.12,485.80 L479.60,486.12 L480.08,486.43 L480.55,486.73 L481.03,487.02 L481.51,487.29 L481.98,487.56 L482.46,487.82 L482.93,488.07 L483.41,488.31 L483.89,488.54 L484.36,488.77 L484.84,488.99 L485.32,489.20 L485.79,489.41 L486.27,489.62 L486.75,489.82 L487.22,490.01 L487.70,490.21 L488.18,490.40 L488.65,490.59 L489.13,490.77 L489.61,490.95 L490.08,491.13 L490.56,491.31 L491.04,491.48 L491.51,491.65 L491.99,491.82 L492.47,491.98 L492.94,492.15 L493.42,492.31 L493.90,492.46 L494.37,492.62 L494.85,492.77 L495.33,492.92 L495.80,493.07 L496.28,493.21 L496.76,493.36 L497.23,493.50 L497.71,493.64 L498.19,493.78 L498.66,493.92 L499.14,494.05 L499.62,494.19 L500.09,494.32 L500.57,494.45 L501.05,494.58 L501.52,494.71 L502.00,494.83 L502.47,494.96 L502.95,495.08 L503.43,495.21 L503.90,495.33 L504.38,495.45 L504.86,495.57 L505.33,495.69 L505.81,495.81 L506.29,495.93 L506.76,496.05 L507.24,496.17 L507.72,496.28 L508.19,496.40 L508.67,496.51 L509.15,496.62 L509.62,496.74 L510.10,496.85 L510.58,496.96 L511.05,497.07 L511.53,497.18 L512.01,497.29 L512.48,497.40 L512.96,497.51 L513.44,497.61 L513.91,497.72 L514.39,497.82 L514.87,497.93 L515.34,498.03 L515.82,498.14 L516.30,498.24 L516.77,498.34 L517.25,498.45 L517.73,498.55 L518.20,498.65 L518.68,498.75 L519.16,498.85 L519.63,498.95 L520.11,499.05 L520.59,499.15 L521.06,499.25 L521.54,499.35 L522.02,499.45 L522.49,499.54 L522.97,499.64 L523.44,499.74 L523.92,499.84 L524.40,499.93 L524.87,500.03 L525.35,500.12 L525.83,500.22 L526.30,500.31 L526.78,500.41 L527.26,500.51 L527.73,500.60 L528.21,500.69 L528.69,500.79 L529.16,500.88 L529.64,500.98 L530.12,501.07 L530.59,501.17 L531.07,501.26 L531.55,501.35 L532.02,501.45 L532.50,501.54" stroke="#0000ff"/><path d="M390.00,501.69 L390.48,501.40 L390.95,501.10 L391.43,500.79 L391.91,500.48 L392.38,500.16 L392.86,499.83 L393.34,499.49 L393.81,499.13 L394.29,498.76 L394.77,498.36 L395.24,497.94 L395.72,497.50 L396.20,497.03 L396.67,496.54 L397.15,496.01 L397.63,495.45 L398.10,494.86 L398.58,494.24 L399.06,493.58 L399.53,492.90 L400.01,492.18 L400.48,491.44 L400.96,490.66 L401.44,489.86 L401.91,489.04 L402.39,488.18 L402.87,487.30 L403.34,486.39 L403.82,485.47 L404.30,484.51 L404.77,483.54 L405.25,482.55 L405.73,481.55 L406.20,480.53 L406.68,479.50 L407.16,478.46 L407.63,477.41 L408.11,476.35 L408.59,475.30 L409.06,474.24 L409.54,473.18 L410.02,472.12 L410.49,471.06 L410.97,469.99 L411.45,468.93 L411.92,467.86 L412.40,466.79 L412.88,465.71 L413.35,464.63 L413.83,463.54 L414.31,462.43 L414.78,461.31 L415.26,460.17 L415.74,459.02 L416.21,457.84 L416.69,456.64 L417.17,455.41 L417.64,454.17 L418.12,452.92 L418.60,451.67 L419.07,450.42 L419.55,449.18 L420.03,447.97 L420.50,446.78 L420.98,445.61 L421.45,444.48 L421.93,443.37 L422.41,442.29 L422.88,441.24 L423.36,440.23 L423.84,439.24 L424.31,438.29 L424.79,437.38 L425.27,436.49 L425.74,435.65 L426.22,434.84 L426.70,434.07 L427.17,433.34 L427.65,432.65 L428.13,432.01 L428.60,431.40 L429.08,430.84 L429.56,430.32 L430.03,429.86 L430.51,429.44 L430.99,429.08 L431.46,428.78 L431.94,428.54 L432.42,428.37 L432.89,428.26 L433.37,428.23 L433.85,428.26 L434.32,428.37 L434.80,428.54 L435.28,428.78 L435.75,429.07 L436.23,429.41 L436.71,429.81 L437.18,430.26 L437.66,430.74 L438.14,431.27 L438.61,431.83 L439.09,432.43 L439.57,433.05 L440.04,433.69 L440.52,434.35 L440.99,435.03 L441.47,435.72 L441.95,436.42 L442.42,437.14 L442.90,437.89 L443.38,438.67 L443.85,439.50 L444.33,440.37 L444.81,441.29 L445.28,442.27 L445.76,443.29 L446.24,444.37 L446.71,445.49 L447.19,446.67 L447.67,447.89 L448.14,449.14 L448.62,450.42 L449.10,451.72 L449.57,453.03 L450.05,454.35 L450.53,455.67 L451.00,456.99 L451.48,458.32 L451.96,459.65 L452.43,461.00 L452.91,462.35 L453.39,463.72 L453.86,465.10 L454.34,466.50 L454.82,467.92 L455.29,469.34 L455.77,470.78 L456.25,472.23 L456.72,473.68 L457.20,475.14 L457.68,476.59 L458.15,478.02 L458.63,479.41 L459.11,480.74 L459.58,482.01 L460.06,483.20 L460.54,484.31 L461.01,485.34 L461.49,486.30 L461.96,487.19 L462.44,488.01 L462.92,488.77 L463.39,489.48 L463.87,490.12 L464.35,490.72 L464.82,491.26 L465.30,491.76 L465.78,492.20 L466.25,492.60 L466.73,492.95 L467.21,493.25 L467.68,493.52 L468.16,493.74 L468.64,493.92 L469.11,494.06 L469.59,494.17 L470.07,494.26 L470.54,494.32 L471.02,494.36 L471.50,494.38 L471.97,494.39 L472.45,494.38 L472.93,494.37 L473.40,494.36 L473.88,494.34 L474.36,494.33 L474.83,494.32 L475.31,494.33 L475.79,494.35 L476.26,494.37 L476.74,494.41 L477.22,494.45 L477.69,494.50 L478.17,494.56 L478.65,494.63 L479.12,494.70 L479.60,494.78 L480.08,494.86 L480.55,494.95 L481.03,495.04 L481.51,495.14 L481.98,495.23 L482.46,495.34 L482.93,495.44 L483.41,495.54 L483.89,495.65 L484.36,495.75 L484.84,495.86 L485.32,495.96 L485.79,496.06 L486.27,496.16 L486.75,496.26 L487.22,496.35 L487.70,496.44 L488.18,496.54 L488.65,496.63 L489.13,496.71 L489.61,496.80 L490.08,496.89 L490.56,496.97 L491.04,497.05 L491.51,497.13 L491.99,497.21 L492.47,497.29 L492.94,497.37 L493.42,497.44 L493.90,497.52 L494.37,497.59 L494.85,497.67 L495.33,497.74 L495.80,497.81 L496.28,497.88 L496.76,497.95 L497.23,498.02 L497.71,498.09 L498.19,498.16 L498.66,498.23 L499.14,498.30 L499.62,498.36 L500.09,498.43 L500.57,498.50 L501.05,498.57 L501.52,498.63 L502.00,498.70 L502.47,498.77 L502.95,498.84 L503.43,498.90 L503.90,498.97 L504.38,499.04 L504.86,499.11 L505.33,499.18 L505.81,499.25 L506.29,499.32 L506.76,499.38 L507.24,499.45 L507.72,499.52 L508.19,499.59 L508.67,499.66 L509.15,499.73 L509.62,499.80 L510.10,499.87 L510.58,499.95 L511.05,500.02 L511.53,500.09 L512.01,500.16 L512.48,500.23 L512.96,500.30 L513.44,500.37 L513.91,500.45 L514.39,500.52 L514.87,500.59 L515.34,500.66 L515.82,500.73 L516.30,500.81 L516.77,500.88 L517.25,500.95 L517.73,501.02 L518.20,501.10 L518.68,501.17 L519.16,501.24 L519.63,501.32 L520.11,501.39 L520.59,501.46 L521.06,501.54 L521.54,501.61 L522.02,501.69 L522.49,501.76 L522.97,501.83 L523.44,501.91 L523.92,501.98 L524.40,502.06 L524.87,502.13 L525.35,502.20 L525.83,502.28 L526.30,502.35 L526.78,502.43 L527.26,502.50 L527.73,502.58 L528.21,502.65 L528.69,502.72 L529.16,502.80 L529.64,502.87 L530.12,502.95 L530.59,503.02 L531.07,503.10 L531.55,503.17 L532.02,503.25 L532.50,503.32" stroke="#00ff00"/><path d="M390.00,502.52 L390.48,502.29 L390.95,502.07 L391.43,501.85 L391.91,501.62 L392.38,501.39 L392.86,501.16 L393.34,500.92 L393.81,500.68 L394.29,500.43 L394.77,500.18 L395.24,499.92 L395.72,499.66 L396.20,499.39 L396.67,499.10 L397.15,498.81 L397.63,498.51 L398.10,498.20 L398.58,497.88 L399.06,497.54 L399.53,497.19 L400.01,496.83 L400.48,496.46 L400.96,496.07 L401.44,495.67 L401.91,495.25 L402.39,494.81 L402.87,494.36 L403.34,493.89 L403.82,493.40 L404.30,492.89 L404.77,492.37 L405.25,491.82 L405.73,491.26 L406.20,490.67 L406.68,490.07 L407.16,489.44 L407.63,488.79 L408.11,488.12 L408.59,487.43 L409.06,486.71 L409.54,485.97 L410.02,485.20 L410.49,484.41 L410.97,483.60 L411.45,482.76 L411.92,481.89 L412.40,481.01 L412.88,480.11 L413.35,479.20 L413.83,478.29 L414.31,477.38 L414.78,476.47 L415.26,475.57 L415.74,474.69 L416.21,473.84 L416.69,473.00 L417.17,472.20 L417.64,471.44 L418.12,470.71 L418.60,470.04 L419.07,469.42 L419.55,468.86 L420.03,468.38 L420.50,467.97 L420.98,467.64 L421.45,467.41 L421.93,467.27 L422.41,467.24 L422.88,467.33 L423.36,467.53 L423.84,467.85 L424.31,468.28 L424.79,468.83 L425.27,469.48 L425.74,470.23 L426.22,471.08 L426.70,472.02 L427.17,473.04 L427.65,474.15 L428.13,475.34 L428.60,476.61 L429.08,477.93 L429.56,479.28 L430.03,480.65 L430.51,482.00 L430.99,483.31 L431.46,484.56 L431.94,485.73 L432.42,486.79 L432.89,487.70 L433.37,488.42 L433.85,488.91 L434.32,489.14 L434.80,489.07 L435.28,488.65 L435.75,487.88 L436.23,486.77 L436.71,485.36 L437.18,483.70 L437.66,481.81 L438.14,479.75 L438.61,477.54 L439.09,475.21 L439.57,472.79 L440.04,470.29 L440.52,467.75 L440.99,465.19 L441.47,462.61 L441.95,460.04 L442.42,457.50 L442.90,455.00 L443.38,452.54 L443.85,450.13 L444.33,447.77 L444.81,445.47 L445.28,443.24 L445.76,441.08 L446.24,439.00 L446.71,437.00 L447.19,435.08 L447.67,433.24 L448.14,431.48 L448.62,429.79 L449.10,428.17 L449.57,426.63 L450.05,425.18 L450.53,423.83 L451.00,422.60 L451.48,421.50 L451.96,420.54 L452.43,419.72 L452.91,419.05 L453.39,418.52 L453.86,418.14 L454.34,417.88 L454.82,417.76 L455.29,417.77 L455.77,417.91 L456.25,418.16 L456.72,418.53 L457.20,419.00 L457.68,419.56 L458.15,420.21 L458.63,420.94 L459.11,421.75 L459.58,422.62 L460.06,423.54 L460.54,424.52 L461.01,425.55 L461.49,426.60 L461.96,427.69 L462.44,428.81 L462.92,429.96 L463.39,431.14 L463.87,432.36 L464.35,433.62 L464.82,434.91 L465.30,436.24 L465.78,437.62 L466.25,439.03 L466.73,440.49 L467.21,441.98 L467.68,443.49 L468.16,445.03 L468.64,446.57 L469.11,448.11 L469.59,449.65 L470.07,451.18 L470.54,452.68 L471.02,454.16 L471.50,455.60 L471.97,457.00 L472.45,458.34 L472.93,459.63 L473.40,460.86 L473.88,462.02 L474.36,463.13 L474.83,464.19 L475.31,465.19 L475.79,466.15 L476.26,467.07 L476.74,467.94 L477.22,468.77 L477.69,469.57 L478.17,470.33 L478.65,471.07 L479.12,471.78 L479.60,472.46 L480.08,473.12 L480.55,473.76 L481.03,474.38 L481.51,474.99 L481.98,475.57 L482.46,476.14 L482.93,476.69 L483.41,477.23 L483.89,477.75 L484.36,478.26 L484.84,478.75 L485.32,479.24 L485.79,479.70 L486.27,480.16 L486.75,480.61 L487.22,481.04 L487.70,481.46 L488.18,481.88 L488.65,482.28 L489.13,482.68 L489.61,483.06 L490.08,483.44 L490.56,483.82 L491.04,484.18 L491.51,484.54 L491.99,484.89 L492.47,485.24 L492.94,485.58 L493.42,485.91 L493.90,486.24 L494.37,486.56 L494.85,486.88 L495.33,487.19 L495.80,487.50 L496.28,487.80 L496.76,488.10 L497.23,488.39 L497.71,488.68 L498.19,488.97 L498.66,489.25 L499.14,489.53 L499.62,489.81 L500.09,490.09 L500.57,490.36 L501.05,490.63 L501.52,490.90 L502.00,491.17 L502.47,491.43 L502.95,491.69 L503.43,491.96 L503.90,492.22 L504.38,492.47 L504.86,492.73 L505.33,492.98 L505.81,493.23 L506.29,493.47 L506.76,493.72 L507.24,493.96 L507.72,494.20 L508.19,494.43 L508.67,494.66 L509.15,494.89 L509.62,495.11 L510.10,495.33 L510.58,495.55 L511.05,495.76 L511.53,495.97 L512.01,496.17 L512.48,496.37 L512.96,496.56 L513.44,496.75 L513.91,496.94 L514.39,497.12 L514.87,497.29 L515.34,497.46 L515.82,497.63 L516.30,497.79 L516.77,497.94 L517.25,498.10 L517.73,498.25 L518.20,498.39 L518.68,498.53 L519.16,498.67 L519.63,498.80 L520.11,498.93 L520.59,499.06 L521.06,499.18 L521.54,499.30 L522.02,499.42 L522.49,499.53 L522.97,499.64 L523.44,499.75 L523.92,499.86 L524.40,499.96 L524.87,500.06 L525.35,500.16 L525.83,500.26 L526.30,500.35 L526.78,500.45 L527.26,500.54 L527.73,500.63 L528.21,500.71 L528.69,500.80 L529.16,500.88 L529.64,500.97 L530.12,501.05 L530.59,501.13 L531.07,501.21 L531.55,501.29 L532.02,501.37 L532.50,501.45" stroke="#800080"/><path d="M390.00,503.59 L390.48,503.56 L390.95,503.52 L391.43,503.48 L391.91,503.45 L392.38,503.41 L392.86,503.36 L393.34,503.32 L393.81,503.27 L394.29,503.22 L394.77,503.17 L395.24,503.12 L395.72,503.06 L396.20,502.99 L396.67,502.93 L397.15,502.85 L397.63,502.78 L398.10,502.69 L398.58,502.60 L399.06,502.51 L399.53,502.40 L400.01,502.29 L400.48,502.18 L400.96,502.05 L401.44,501.92 L401.91,501.78 L402.39,501.63 L402.87,501.47 L403.34,501.31 L403.82,501.14 L404.30,500.96 L404.77,500.77 L405.25,500.57 L405.73,500.37 L406.20,500.16 L406.68,499.94 L407.16,499.71 L407.63,499.48 L408.11,499.24 L408.59,499.00 L409.06,498.75 L409.54,498.49 L410.02,498.22 L410.49,497.95 L410.97,497.68 L411.45,497.39 L411.92,497.11 L412.40,496.81 L412.88,496.51 L413.35,496.21 L413.83,495.91 L414.31,495.60 L414.78,495.29 L415.26,494.97 L415.74,494.66 L416.21,494.34 L416.69,494.03 L417.17,493.71 L417.64,493.40 L418.12,493.09 L418.60,492.78 L419.07,492.47 L419.55,492.16 L420.03,491.86 L420.50,491.57 L420.98,491.28 L421.45,491.01 L421.93,490.74 L422.41,490.49 L422.88,490.25 L423.36,490.03 L423.84,489.82 L424.31,489.63 L424.79,489.47 L425.27,489.32 L425.74,489.20 L426.22,489.10 L426.70,489.02 L427.17,488.98 L427.65,488.96 L428.13,488.97 L428.60,489.01 L429.08,489.07 L429.56,489.16 L430.03,489.27 L430.51,489.40 L430.99,489.55 L431.46,489.71 L431.94,489.90 L432.42,490.09 L432.89,490.30 L433.37,490.52 L433.85,490.75 L434.32,490.99 L434.80,491.24 L435.28,491.49 L435.75,491.75 L436.23,492.00 L436.71,492.27 L437.18,492.53 L437.66,492.79 L438.14,493.06 L438.61,493.32 L439.09,493.59 L439.57,493.85 L440.04,494.12 L440.52,494.38 L440.99,494.64 L441.47,494.90 L441.95,495.15 L442.42,495.41 L442.90,495.65 L443.38,495.90 L443.85,496.14 L444.33,496.37 L444.81,496.60 L445.28,496.82 L445.76,497.03 L446.24,497.24 L446.71,497.44 L447.19,497.64 L447.67,497.83 L448.14,498.02 L448.62,498.20 L449.10,498.38 L449.57,498.56 L450.05,498.72 L450.53,498.89 L451.00,499.05 L451.48,499.21 L451.96,499.36 L452.43,499.51 L452.91,499.66 L453.39,499.80 L453.86,499.95 L454.34,500.09 L454.82,500.22 L455.29,500.36 L455.77,500.49 L456.25,500.62 L456.72,500.75 L457.20,500.88 L457.68,501.01 L458.15,501.13 L458.63,501.25 L459.11,501.37 L459.58,501.49 L460.06,501.60 L460.54,501.71 L461.01,501.82 L461.49,501.93 L461.96,502.03 L462.44,502.13 L462.92,502.22 L463.39,502.31 L463.87,502.40 L464.35,502.48 L464.82,502.56 L465.30,502.64 L465.78,502.71 L466.25,502.77 L466.73,502.83 L467.21,502.89 L467.68,502.94 L468.16,502.99 L468.64,503.03 L469.11,503.06 L469.59,503.09 L470.07,503.12 L470.54,503.14 L471.02,503.15 L471.50,503.16 L471.97,503.16 L472.45,503.16 L472.93,503.16 L473.40,503.15 L473.88,503.13 L474.36,503.11 L474.83,503.09 L475.31,503.07 L475.79,503.04 L476.26,503.01 L476.74,502.98 L477.22,502.95 L477.69,502.92 L478.17,502.88 L478.65,502.84 L479.12,502.80 L479.60,502.77 L480.08,502.73 L480.55,502.69 L481.03,502.65 L481.51,502.61 L481.98,502.58 L482.46,502.54 L482.93,502.51 L483.41,502.47 L483.89,502.44 L484.36,502.41 L484.84,502.38 L485.32,502.36 L485.79,502.34 L486.27,502.31 L486.75,502.29 L487.22,502.27 L487.70,502.26 L488.18,502.24 L488.65,502.23 L489.13,502.21 L489.61,502.20 L490.08,502.19 L490.56,502.18 L491.04,502.17 L491.51,502.17 L491.99,502.16 L492.47,502.16 L492.94,502.16 L493.42,502.16 L493.90,502.16 L494.37,502.16 L494.85,502.16 L495.33,502.16 L495.80,502.17 L496.28,502.17 L496.76,502.18 L497.23,502.18 L497.71,502.19 L498.19,502.20 L498.66,502.21 L499.14,502.22 L499.62,502.23 L500.09,502.24 L500.57,502.25 L501.05,502.27 L501.52,502.28 L502.00,502.29 L502.47,502.31 L502.95,502.32 L503.43,502.34 L503.90,502.35 L504.38,502.37 L504.86,502.39 L505.33,502.40 L505.81,502.42 L506.29,502.44 L506.76,502.46 L507.24,502.47 L507.72,502.49 L508.19,502.51 L508.67,502.53 L509.15,502.55 L509.62,502.57 L510.10,502.58 L510.58,502.60 L511.05,502.62 L511.53,502.64 L512.01,502.66 L512.48,502.68 L512.96,502.70 L513.44,502.72 L513.91,502.74 L514.39,502.76 L514.87,502.78 L515.34,502.80 L515.82,502.82 L516.30,502.84 L516.77,502.86 L517.25,502.88 L517.73,502.90 L518.20,502.92 L518.68,502.94 L519.16,502.96 L519.63,502.98 L520.11,503.00 L520.59,503.02 L521.06,503.05 L521.54,503.07 L522.02,503.09 L522.49,503.11 L522.97,503.13 L523.44,503.15 L523.92,503.17 L524.40,503.20 L524.87,503.22 L525.35,503.24 L525.83,503.26 L526.30,503.28 L526.78,503.30 L527.26,503.33 L527.73,503.35 L528.21,503.37 L528.69,503.39 L529.16,503.41 L529.64,503.44 L530.12,503.46 L530.59,503.48 L531.07,503.50 L531.55,503.52 L532.02,503.55 L532.50,503.57" stroke="#ff0000"/></g><text x="497.42" y="377.70" class="pl" textLength="23.94" lengthAdjust="spacingAndGlyphs">(f)</text><text x="284.03" y="11.9" font-family="Liberation Serif, serif" font-size="18" fill="#111" textLength="20.97" lengthAdjust="spacingAndGlyphs">Ex</text><text x="450.45" y="12.1" font-family="Liberation Serif, serif" font-size="18" fill="#111" textLength="20.25" lengthAdjust="spacingAndGlyphs">Ey</text><text x="347.31" y="538.7" font-family="Liberation Serif, serif" font-size="17.5" fill="#111" textLength="39.45" lengthAdjust="spacingAndGlyphs">Time</text><text x="393.43" y="538.7" font-family="Liberation Serif, serif" font-size="17.5" fill="#111" textLength="2.52" lengthAdjust="spacingAndGlyphs">[</text><text x="396.77" y="538.7" font-family="Liberation Serif, serif" font-size="17.5" fill="#111" textLength="12.80" lengthAdjust="spacingAndGlyphs">fs</text><text x="409.74" y="538.7" font-family="Liberation Serif, serif" font-size="17.5" fill="#111" textLength="2.52" lengthAdjust="spacingAndGlyphs">]</text><text transform="translate(195.8,369.4) rotate(-90)" x="-0.24" y="0" font-family="Liberation Serif, serif" font-size="23.6" fill="#111" textLength="101.00" lengthAdjust="spacingAndGlyphs">Amplitude</text><text transform="translate(195.8,258.3) rotate(-90)" x="-1.67" y="0" font-family="Liberation Serif, serif" font-size="23.6" fill="#111" textLength="41.42" lengthAdjust="spacingAndGlyphs">[arb.</text><text transform="translate(195.8,207.5) rotate(-90)" x="-0.23" y="0" font-family="Liberation Serif, serif" font-size="23.6" fill="#111" textLength="51.26" lengthAdjust="spacingAndGlyphs">units]</text></svg></body></html>
